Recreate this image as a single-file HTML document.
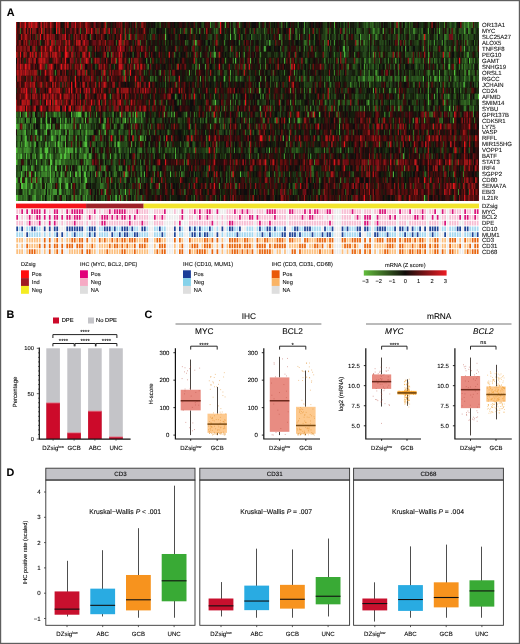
<!DOCTYPE html><html><head><meta charset="utf-8"><style>html,body{margin:0;padding:0;background:#fff;}svg{display:block;font-family:"Liberation Sans",sans-serif;will-change:transform;filter:blur(0.3px);}text{stroke:#000;stroke-width:0.15px;stroke-opacity:0.5;text-rendering:geometricPrecision;}</style></head><body>
<svg width="520" height="644" viewBox="0 0 520 644">
<rect x="0" y="0" width="520" height="644" fill="#fff"/>
<defs><filter id="hb" x="-0.01" y="-0.01" width="1.02" height="1.02"><feGaussianBlur stdDeviation="0.45 0.35"/></filter></defs>
<g filter="url(#hb)"><g transform="translate(16.000 22.000) scale(1.25135 5.96667)" stroke-width="1.02" fill="none">
<rect x="0" y="0" width="370" height="30" fill="#100c0a"/>
<path stroke="#52c03c" d="M0.5 21v1M0.5 23v1M0.5 26v1M0.5 29v1M1.5 17v1M1.5 18v1M1.5 29v1M2.5 20v1M4.5 22v1M4.5 25v1M4.5 26v1M4.5 27v1M5.5 27v1M6.5 18v1M6.5 21v1M6.5 24v1M7.5 19v1M7.5 20v1M8.5 15v1M8.5 22v1M8.5 24v1M8.5 26v1M8.5 27v1M9.5 20v1M9.5 21v1M10.5 22v1M10.5 25v1M10.5 28v1M12.5 27v1M13.5 22v1M13.5 24v1M13.5 29v1M14.5 20v1M14.5 21v1M15.5 25v1M16.5 18v1M16.5 23v1M17.5 19v1M18.5 25v1M19.5 22v1M20.5 22v1M22.5 28v1M23.5 21v1M24.5 15v1M24.5 16v1M24.5 17v1M24.5 18v1M24.5 21v1M24.5 22v1M25.5 17v1M25.5 21v1M25.5 27v1M25.5 29v1M26.5 20v1M27.5 17v1M27.5 22v1M27.5 23v1M27.5 24v1M27.5 25v1M27.5 26v1M28.5 19v1M28.5 23v1M29.5 19v1M29.5 26v1M29.5 29v1M30.5 15v1M30.5 25v1M31.5 24v1M33.5 20v1M34.5 18v1M34.5 19v1M34.5 20v1M34.5 21v1M34.5 23v1M34.5 26v1M34.5 28v1M35.5 17v1M35.5 27v1M36.5 22v1M36.5 25v1M37.5 29v1M38.5 22v1M39.5 17v1M39.5 20v1M39.5 21v1M39.5 22v1M40.5 27v1M41.5 17v1M41.5 21v1M41.5 25v1M41.5 27v1M42.5 18v1M42.5 21v1M42.5 22v1M43.5 25v1M44.5 15v1M45.5 29v1M48.5 25v1M49.5 15v1M50.5 15v1M50.5 24v1M50.5 25v1M51.5 15v1M51.5 17v1M53.5 16v1M53.5 24v1M54.5 22v1M54.5 25v1M54.5 27v1M55.5 16v1M55.5 20v1M55.5 25v1M55.5 26v1M56.5 18v1M56.5 20v1M56.5 26v1M57.5 23v1M58.5 22v1M66.5 18v1M66.5 25v1M77.5 15v1M77.5 18v1M80.5 29v1M81.5 16v1M81.5 20v1M82.5 20v1M82.5 29v1M83.5 15v1M85.5 16v1M87.5 16v1M87.5 28v1M92.5 18v1M92.5 20v1M93.5 15v1M95.5 15v1M95.5 16v1M99.5 19v1M102.5 25v1M109.5 21v1M114.5 27v1M118.5 15v1M119.5 2v1M121.5 18v1M121.5 20v1M123.5 25v1M124.5 15v1M126.5 15v1M137.5 20v1M138.5 8v1M140.5 1v1M159.5 13v1M166.5 9v1M171.5 2v1M175.5 6v1M179.5 25v1M194.5 11v1M208.5 10v1M212.5 3v1M213.5 19v1M216.5 20v1M225.5 16v1M233.5 15v1M237.5 15v1M242.5 15v1M256.5 15v1M261.5 4v1M272.5 3v1M275.5 2v1M281.5 13v1M285.5 5v1M285.5 11v1M291.5 9v1M292.5 5v1M293.5 1v1M301.5 25v1M303.5 6v1M303.5 11v1M304.5 23v1M309.5 22v1M324.5 1v1M325.5 9v1M326.5 29v1M329.5 6v1M329.5 12v1M329.5 13v1M331.5 9v1M332.5 15v1M335.5 9v1M336.5 7v1M338.5 9v1M346.5 14v1M349.5 16v1M350.5 8v1M356.5 7v1M362.5 6v1M369.5 12v1"/>
<path stroke="#4cb138" d="M0.5 17v1M1.5 21v1M2.5 17v1M3.5 15v1M6.5 27v1M7.5 18v1M11.5 25v1M13.5 26v1M14.5 15v1M15.5 16v1M21.5 25v1M24.5 24v1M25.5 28v1M27.5 16v1M31.5 20v1M32.5 24v1M33.5 25v1M34.5 15v1M35.5 16v1M35.5 22v1M35.5 26v1M35.5 28v1M37.5 19v1M42.5 19v1M44.5 27v1M45.5 16v1M47.5 25v1M48.5 15v1M54.5 20v1M54.5 23v1M54.5 29v1M55.5 19v1M56.5 29v1M65.5 21v1M66.5 16v1M69.5 17v1M70.5 17v1M70.5 24v1M73.5 9v1M75.5 22v1M77.5 16v1M82.5 21v1M88.5 25v1M127.5 22v1M129.5 13v1M132.5 25v1M136.5 15v1M143.5 3v1M146.5 7v1M158.5 5v1M160.5 20v1M176.5 9v1M187.5 6v1M193.5 22v1M195.5 14v1M202.5 21v1M210.5 2v1M212.5 0v1M218.5 16v1M254.5 0v1M258.5 17v1M262.5 4v1M262.5 5v1M264.5 2v1M272.5 6v1M280.5 0v1M280.5 7v1M289.5 9v1M311.5 4v1M320.5 12v1M329.5 1v1M336.5 11v1M340.5 3v1M346.5 7v1M347.5 9v1M351.5 9v1M358.5 4v1M360.5 3v1M360.5 5v1M364.5 0v1"/>
<path stroke="#47a234" d="M1.5 23v1M1.5 27v1M2.5 16v1M2.5 19v1M3.5 22v1M3.5 26v1M5.5 24v1M6.5 22v1M7.5 26v1M7.5 27v1M8.5 19v1M8.5 20v1M9.5 16v1M10.5 21v1M12.5 24v1M13.5 17v1M14.5 29v1M15.5 18v1M15.5 20v1M15.5 22v1M15.5 26v1M15.5 29v1M19.5 21v1M19.5 26v1M20.5 16v1M20.5 19v1M20.5 24v1M20.5 29v1M21.5 24v1M23.5 24v1M23.5 27v1M24.5 20v1M27.5 29v1M28.5 18v1M31.5 18v1M32.5 23v1M33.5 29v1M35.5 23v1M36.5 19v1M36.5 24v1M37.5 16v1M38.5 23v1M39.5 16v1M39.5 19v1M41.5 22v1M41.5 26v1M44.5 21v1M45.5 21v1M45.5 23v1M47.5 21v1M48.5 19v1M49.5 24v1M50.5 18v1M51.5 21v1M51.5 25v1M53.5 18v1M53.5 19v1M55.5 22v1M56.5 15v1M56.5 17v1M56.5 19v1M56.5 24v1M57.5 21v1M58.5 15v1M59.5 22v1M61.5 20v1M64.5 15v1M69.5 27v1M70.5 16v1M71.5 18v1M71.5 28v1M82.5 24v1M85.5 17v1M85.5 25v1M86.5 8v1M87.5 25v1M88.5 24v1M89.5 16v1M94.5 7v1M100.5 15v1M100.5 16v1M100.5 25v1M101.5 19v1M102.5 15v1M105.5 7v1M125.5 21v1M127.5 21v1M147.5 9v1M152.5 19v1M160.5 21v1M165.5 17v1M167.5 0v1M171.5 8v1M172.5 25v1M174.5 1v1M176.5 12v1M180.5 15v1M198.5 4v1M202.5 3v1M214.5 6v1M218.5 19v1M219.5 11v1M219.5 13v1M224.5 21v1M232.5 14v1M236.5 24v1M265.5 7v1M267.5 10v1M278.5 7v1M285.5 1v1M285.5 9v1M308.5 25v1M310.5 9v1M329.5 5v1M329.5 10v1M329.5 11v1M334.5 12v1M336.5 2v1M338.5 1v1M338.5 8v1M349.5 14v1M358.5 1v1M358.5 10v1M359.5 6v1M359.5 8v1M361.5 0v1M368.5 10v1"/>
<path stroke="#429330" d="M1.5 20v1M1.5 22v1M1.5 26v1M2.5 21v1M2.5 22v1M2.5 25v1M4.5 20v1M5.5 16v1M5.5 18v1M6.5 19v1M6.5 29v1M7.5 17v1M8.5 21v1M11.5 20v1M13.5 15v1M13.5 23v1M14.5 28v1M20.5 17v1M20.5 21v1M21.5 22v1M22.5 18v1M22.5 25v1M23.5 20v1M24.5 25v1M26.5 17v1M26.5 22v1M26.5 24v1M28.5 27v1M29.5 24v1M29.5 25v1M29.5 28v1M30.5 17v1M30.5 19v1M30.5 28v1M31.5 23v1M31.5 28v1M32.5 28v1M33.5 22v1M35.5 18v1M35.5 21v1M36.5 20v1M37.5 21v1M38.5 17v1M39.5 24v1M39.5 26v1M40.5 18v1M40.5 21v1M42.5 28v1M43.5 21v1M45.5 20v1M45.5 22v1M48.5 21v1M50.5 22v1M50.5 29v1M51.5 24v1M51.5 28v1M53.5 20v1M53.5 29v1M55.5 15v1M56.5 21v1M56.5 22v1M56.5 23v1M58.5 18v1M60.5 24v1M63.5 25v1M66.5 22v1M70.5 29v1M71.5 16v1M73.5 5v1M74.5 25v1M78.5 17v1M78.5 25v1M79.5 20v1M79.5 29v1M82.5 18v1M84.5 29v1M88.5 29v1M89.5 21v1M90.5 2v1M90.5 6v1M92.5 17v1M97.5 15v1M97.5 28v1M100.5 19v1M109.5 16v1M110.5 25v1M114.5 20v1M114.5 21v1M115.5 25v1M118.5 22v1M142.5 21v1M144.5 3v1M151.5 7v1M152.5 15v1M152.5 16v1M155.5 0v1M155.5 17v1M159.5 5v1M159.5 16v1M160.5 1v1M162.5 27v1M171.5 13v1M173.5 6v1M173.5 12v1M188.5 2v1M192.5 17v1M193.5 13v1M194.5 10v1M195.5 9v1M196.5 15v1M197.5 12v1M197.5 16v1M199.5 4v1M205.5 8v1M214.5 22v1M219.5 1v1M220.5 14v1M222.5 8v1M224.5 2v1M226.5 16v1M230.5 0v1M230.5 1v1M235.5 14v1M235.5 22v1M254.5 3v1M258.5 18v1M259.5 21v1M259.5 26v1M265.5 21v1M275.5 3v1M277.5 9v1M278.5 9v1M278.5 14v1M282.5 2v1M287.5 8v1M288.5 8v1M288.5 9v1M288.5 14v1M293.5 11v1M297.5 6v1M303.5 9v1M305.5 3v1M305.5 12v1M305.5 14v1M308.5 9v1M311.5 9v1M316.5 9v1M317.5 16v1M319.5 21v1M325.5 4v1M326.5 16v1M328.5 18v1M332.5 22v1M334.5 3v1M334.5 9v1M336.5 1v1M336.5 13v1M340.5 16v1M342.5 6v1M342.5 13v1M343.5 2v1M345.5 12v1M352.5 10v1M353.5 28v1M355.5 11v1M356.5 2v1M360.5 2v1M361.5 5v1M362.5 8v1M368.5 8v1"/>
<path stroke="#3c842b" d="M0.5 16v1M0.5 22v1M1.5 19v1M1.5 28v1M2.5 27v1M3.5 21v1M4.5 16v1M5.5 17v1M5.5 19v1M5.5 25v1M5.5 28v1M6.5 17v1M6.5 20v1M6.5 28v1M7.5 15v1M7.5 21v1M8.5 16v1M8.5 23v1M8.5 25v1M8.5 28v1M8.5 29v1M10.5 16v1M10.5 19v1M13.5 16v1M13.5 27v1M14.5 16v1M14.5 19v1M14.5 22v1M14.5 26v1M15.5 28v1M16.5 27v1M17.5 26v1M18.5 28v1M19.5 19v1M20.5 26v1M20.5 27v1M22.5 29v1M23.5 18v1M23.5 23v1M23.5 25v1M26.5 29v1M27.5 28v1M29.5 17v1M29.5 18v1M30.5 20v1M30.5 26v1M33.5 23v1M34.5 27v1M36.5 26v1M37.5 15v1M37.5 23v1M38.5 19v1M39.5 18v1M39.5 27v1M39.5 29v1M40.5 16v1M40.5 22v1M42.5 17v1M44.5 16v1M44.5 17v1M46.5 15v1M47.5 17v1M48.5 23v1M48.5 29v1M49.5 16v1M49.5 18v1M50.5 20v1M51.5 26v1M54.5 26v1M56.5 28v1M57.5 25v1M57.5 28v1M58.5 24v1M69.5 19v1M69.5 22v1M69.5 26v1M70.5 15v1M70.5 18v1M70.5 21v1M70.5 22v1M74.5 19v1M75.5 12v1M75.5 26v1M76.5 5v1M78.5 20v1M79.5 22v1M80.5 6v1M82.5 19v1M84.5 17v1M84.5 24v1M86.5 16v1M89.5 22v1M89.5 25v1M90.5 15v1M91.5 16v1M91.5 21v1M97.5 22v1M97.5 26v1M97.5 29v1M98.5 26v1M99.5 27v1M100.5 29v1M103.5 19v1M104.5 6v1M106.5 18v1M109.5 9v1M109.5 24v1M115.5 8v1M120.5 13v1M121.5 9v1M127.5 12v1M128.5 10v1M141.5 3v1M142.5 15v1M146.5 1v1M149.5 0v1M149.5 6v1M152.5 21v1M157.5 13v1M157.5 15v1M158.5 9v1M158.5 12v1M162.5 16v1M165.5 7v1M165.5 16v1M166.5 3v1M166.5 14v1M167.5 6v1M168.5 25v1M174.5 21v1M175.5 2v1M178.5 0v1M178.5 5v1M180.5 2v1M182.5 5v1M186.5 16v1M186.5 22v1M187.5 11v1M189.5 18v1M195.5 5v1M199.5 7v1M199.5 9v1M200.5 3v1M205.5 9v1M207.5 16v1M209.5 26v1M212.5 5v1M216.5 0v1M226.5 2v1M232.5 6v1M235.5 9v1M237.5 25v1M238.5 23v1M241.5 19v1M246.5 21v1M247.5 13v1M248.5 1v1M248.5 9v1M248.5 21v1M250.5 9v1M251.5 10v1M254.5 8v1M258.5 16v1M262.5 12v1M265.5 4v1M268.5 9v1M272.5 11v1M273.5 9v1M275.5 14v1M278.5 3v1M278.5 8v1M279.5 6v1M280.5 3v1M282.5 6v1M282.5 10v1M283.5 9v1M287.5 2v1M287.5 5v1M288.5 2v1M288.5 13v1M289.5 1v1M290.5 20v1M295.5 7v1M298.5 11v1M302.5 1v1M304.5 20v1M305.5 0v1M305.5 7v1M305.5 8v1M308.5 4v1M308.5 14v1M310.5 24v1M311.5 0v1M311.5 5v1M315.5 6v1M316.5 0v1M316.5 5v1M317.5 1v1M317.5 18v1M318.5 1v1M320.5 6v1M320.5 9v1M327.5 25v1M329.5 3v1M329.5 4v1M329.5 8v1M329.5 9v1M333.5 8v1M336.5 9v1M336.5 12v1M340.5 21v1M342.5 0v1M343.5 4v1M343.5 8v1M344.5 1v1M345.5 7v1M347.5 0v1M348.5 23v1M350.5 4v1M350.5 11v1M351.5 0v1M355.5 10v1M357.5 10v1M357.5 25v1M358.5 0v1M358.5 9v1M359.5 13v1M360.5 0v1M361.5 1v1M361.5 8v1M362.5 12v1M365.5 14v1M365.5 15v1M367.5 12v1M368.5 5v1"/>
<path stroke="#367527" d="M0.5 27v1M1.5 15v1M1.5 25v1M2.5 18v1M3.5 18v1M4.5 21v1M4.5 29v1M6.5 15v1M6.5 25v1M7.5 24v1M9.5 26v1M11.5 17v1M11.5 18v1M11.5 26v1M11.5 27v1M11.5 28v1M13.5 18v1M17.5 25v1M17.5 27v1M18.5 20v1M18.5 21v1M18.5 22v1M18.5 26v1M19.5 17v1M20.5 25v1M21.5 15v1M21.5 23v1M22.5 21v1M23.5 22v1M25.5 24v1M25.5 25v1M26.5 25v1M26.5 27v1M27.5 21v1M27.5 27v1M28.5 22v1M29.5 20v1M29.5 22v1M30.5 18v1M30.5 27v1M31.5 8v1M31.5 15v1M31.5 19v1M31.5 21v1M32.5 15v1M32.5 18v1M33.5 16v1M33.5 18v1M35.5 25v1M36.5 17v1M36.5 21v1M36.5 28v1M37.5 17v1M37.5 20v1M37.5 22v1M37.5 25v1M38.5 21v1M38.5 25v1M38.5 26v1M38.5 28v1M38.5 29v1M40.5 17v1M40.5 26v1M40.5 28v1M41.5 23v1M41.5 28v1M44.5 18v1M44.5 22v1M44.5 24v1M44.5 29v1M45.5 18v1M45.5 25v1M45.5 26v1M46.5 26v1M47.5 29v1M48.5 20v1M48.5 26v1M52.5 7v1M52.5 18v1M53.5 22v1M53.5 27v1M54.5 17v1M55.5 18v1M55.5 27v1M57.5 18v1M58.5 16v1M58.5 25v1M59.5 16v1M59.5 24v1M60.5 6v1M60.5 18v1M60.5 21v1M60.5 22v1M61.5 18v1M64.5 19v1M66.5 19v1M66.5 23v1M66.5 28v1M67.5 26v1M67.5 27v1M68.5 9v1M68.5 20v1M68.5 24v1M68.5 27v1M70.5 23v1M70.5 28v1M73.5 14v1M74.5 20v1M75.5 29v1M76.5 18v1M77.5 29v1M78.5 22v1M78.5 23v1M78.5 24v1M79.5 19v1M80.5 3v1M82.5 27v1M83.5 22v1M85.5 29v1M86.5 9v1M87.5 26v1M88.5 19v1M89.5 28v1M90.5 9v1M91.5 15v1M93.5 5v1M93.5 16v1M94.5 23v1M95.5 20v1M97.5 25v1M98.5 21v1M99.5 21v1M99.5 23v1M100.5 21v1M100.5 24v1M101.5 17v1M101.5 18v1M102.5 8v1M102.5 23v1M105.5 17v1M106.5 20v1M107.5 9v1M110.5 18v1M110.5 24v1M118.5 19v1M119.5 1v1M119.5 9v1M121.5 15v1M126.5 5v1M133.5 25v1M134.5 23v1M140.5 12v1M140.5 18v1M141.5 7v1M142.5 29v1M144.5 1v1M144.5 6v1M144.5 7v1M147.5 5v1M152.5 20v1M152.5 25v1M153.5 5v1M155.5 14v1M158.5 4v1M161.5 11v1M168.5 18v1M168.5 26v1M171.5 4v1M171.5 9v1M173.5 14v1M176.5 27v1M178.5 3v1M178.5 15v1M179.5 9v1M180.5 20v1M182.5 7v1M182.5 16v1M186.5 20v1M193.5 18v1M194.5 0v1M194.5 8v1M195.5 7v1M195.5 12v1M198.5 1v1M199.5 6v1M201.5 28v1M202.5 25v1M203.5 14v1M209.5 16v1M212.5 2v1M212.5 12v1M214.5 8v1M219.5 2v1M219.5 6v1M221.5 28v1M223.5 13v1M224.5 8v1M225.5 0v1M226.5 9v1M230.5 4v1M230.5 9v1M230.5 11v1M231.5 3v1M234.5 3v1M234.5 11v1M235.5 11v1M236.5 25v1M237.5 13v1M237.5 24v1M239.5 5v1M240.5 1v1M242.5 26v1M246.5 3v1M246.5 4v1M246.5 6v1M246.5 10v1M248.5 25v1M249.5 6v1M251.5 14v1M254.5 1v1M254.5 5v1M254.5 14v1M257.5 6v1M257.5 13v1M257.5 14v1M258.5 13v1M260.5 2v1M261.5 1v1M264.5 1v1M264.5 3v1M264.5 7v1M268.5 14v1M269.5 18v1M269.5 25v1M270.5 5v1M272.5 12v1M272.5 13v1M273.5 3v1M276.5 9v1M278.5 6v1M279.5 20v1M280.5 13v1M281.5 9v1M281.5 23v1M282.5 8v1M282.5 9v1M283.5 0v1M284.5 9v1M285.5 3v1M285.5 7v1M285.5 13v1M286.5 1v1M292.5 4v1M294.5 15v1M299.5 9v1M299.5 11v1M299.5 13v1M300.5 9v1M302.5 14v1M305.5 2v1M305.5 5v1M305.5 9v1M305.5 10v1M308.5 2v1M308.5 13v1M309.5 12v1M311.5 3v1M317.5 19v1M319.5 6v1M320.5 3v1M325.5 2v1M325.5 6v1M327.5 2v1M331.5 3v1M332.5 6v1M334.5 6v1M336.5 3v1M339.5 10v1M342.5 2v1M342.5 5v1M342.5 7v1M342.5 9v1M342.5 12v1M343.5 3v1M344.5 2v1M344.5 5v1M344.5 9v1M346.5 4v1M346.5 6v1M347.5 1v1M347.5 15v1M349.5 25v1M350.5 7v1M351.5 2v1M351.5 12v1M354.5 7v1M356.5 6v1M357.5 12v1M358.5 7v1M358.5 8v1M358.5 14v1M359.5 0v1M359.5 1v1M359.5 9v1M359.5 14v1M360.5 7v1M362.5 1v1M362.5 9v1M362.5 13v1M363.5 7v1M363.5 14v1M364.5 4v1M365.5 7v1M366.5 6v1M366.5 9v1M369.5 0v1"/>
<path stroke="#316623" d="M0.5 15v1M2.5 29v1M3.5 1v1M3.5 19v1M3.5 29v1M5.5 15v1M5.5 20v1M5.5 21v1M5.5 29v1M6.5 16v1M7.5 28v1M7.5 29v1M9.5 17v1M9.5 18v1M9.5 22v1M9.5 27v1M9.5 29v1M10.5 3v1M10.5 15v1M10.5 20v1M10.5 24v1M10.5 27v1M11.5 21v1M11.5 23v1M13.5 28v1M14.5 24v1M14.5 25v1M17.5 28v1M17.5 29v1M18.5 23v1M18.5 24v1M19.5 16v1M19.5 20v1M19.5 27v1M20.5 28v1M21.5 20v1M21.5 28v1M22.5 23v1M22.5 24v1M22.5 26v1M23.5 28v1M24.5 26v1M25.5 22v1M26.5 15v1M28.5 20v1M28.5 26v1M28.5 28v1M29.5 23v1M32.5 25v1M34.5 22v1M34.5 24v1M35.5 20v1M37.5 18v1M42.5 16v1M42.5 24v1M43.5 17v1M43.5 18v1M45.5 17v1M47.5 15v1M47.5 16v1M47.5 22v1M49.5 25v1M49.5 26v1M50.5 19v1M50.5 21v1M50.5 28v1M51.5 1v1M51.5 22v1M51.5 27v1M52.5 14v1M52.5 15v1M52.5 16v1M52.5 21v1M52.5 22v1M53.5 21v1M54.5 28v1M55.5 21v1M55.5 24v1M55.5 28v1M58.5 17v1M58.5 23v1M58.5 29v1M59.5 2v1M59.5 18v1M59.5 23v1M60.5 16v1M60.5 25v1M60.5 26v1M61.5 24v1M62.5 16v1M62.5 20v1M62.5 24v1M65.5 1v1M65.5 26v1M68.5 29v1M69.5 8v1M69.5 20v1M69.5 24v1M71.5 24v1M71.5 25v1M71.5 26v1M74.5 18v1M74.5 23v1M76.5 20v1M78.5 7v1M78.5 19v1M79.5 21v1M79.5 24v1M79.5 25v1M79.5 27v1M80.5 22v1M80.5 25v1M83.5 21v1M83.5 24v1M83.5 28v1M85.5 3v1M85.5 20v1M86.5 26v1M87.5 15v1M87.5 19v1M88.5 20v1M92.5 25v1M94.5 17v1M94.5 29v1M96.5 0v1M96.5 16v1M97.5 21v1M97.5 27v1M98.5 16v1M99.5 3v1M99.5 24v1M100.5 26v1M101.5 16v1M102.5 20v1M102.5 26v1M104.5 3v1M105.5 21v1M106.5 23v1M107.5 6v1M107.5 17v1M107.5 27v1M108.5 1v1M110.5 22v1M110.5 26v1M111.5 4v1M111.5 9v1M111.5 13v1M113.5 18v1M113.5 28v1M119.5 10v1M120.5 21v1M122.5 21v1M125.5 24v1M126.5 9v1M128.5 4v1M130.5 25v1M131.5 1v1M131.5 13v1M131.5 20v1M131.5 24v1M134.5 24v1M134.5 28v1M135.5 3v1M135.5 21v1M136.5 20v1M136.5 23v1M137.5 5v1M139.5 17v1M141.5 11v1M143.5 5v1M143.5 7v1M143.5 8v1M144.5 15v1M147.5 16v1M149.5 16v1M150.5 1v1M150.5 12v1M152.5 3v1M154.5 4v1M157.5 5v1M158.5 1v1M158.5 13v1M158.5 16v1M160.5 15v1M160.5 16v1M162.5 0v1M162.5 8v1M163.5 15v1M169.5 16v1M170.5 21v1M171.5 1v1M171.5 14v1M172.5 20v1M175.5 13v1M175.5 27v1M179.5 17v1M183.5 18v1M184.5 25v1M186.5 17v1M186.5 21v1M195.5 11v1M196.5 17v1M198.5 16v1M200.5 21v1M201.5 25v1M203.5 3v1M204.5 21v1M206.5 25v1M208.5 5v1M211.5 4v1M211.5 13v1M212.5 1v1M212.5 11v1M217.5 17v1M218.5 18v1M218.5 25v1M219.5 7v1M222.5 16v1M222.5 22v1M223.5 1v1M223.5 12v1M224.5 1v1M224.5 26v1M225.5 29v1M227.5 13v1M230.5 3v1M231.5 6v1M232.5 0v1M232.5 3v1M232.5 4v1M233.5 22v1M234.5 1v1M238.5 2v1M240.5 10v1M240.5 14v1M241.5 21v1M242.5 13v1M242.5 28v1M248.5 4v1M250.5 2v1M250.5 11v1M251.5 3v1M259.5 16v1M261.5 6v1M261.5 13v1M262.5 1v1M262.5 3v1M263.5 5v1M264.5 9v1M265.5 13v1M266.5 1v1M268.5 10v1M271.5 12v1M272.5 1v1M272.5 8v1M273.5 1v1M274.5 9v1M274.5 10v1M276.5 4v1M277.5 3v1M282.5 5v1M282.5 14v1M283.5 6v1M283.5 29v1M284.5 0v1M284.5 1v1M284.5 7v1M285.5 0v1M285.5 2v1M285.5 6v1M285.5 14v1M288.5 1v1M288.5 11v1M289.5 7v1M290.5 6v1M292.5 16v1M293.5 9v1M294.5 9v1M295.5 3v1M296.5 10v1M296.5 20v1M297.5 24v1M298.5 15v1M298.5 20v1M299.5 0v1M299.5 4v1M299.5 7v1M299.5 10v1M299.5 14v1M301.5 16v1M302.5 5v1M302.5 7v1M305.5 1v1M305.5 4v1M305.5 13v1M305.5 17v1M306.5 14v1M307.5 21v1M308.5 0v1M310.5 1v1M311.5 27v1M314.5 0v1M314.5 1v1M314.5 6v1M314.5 14v1M317.5 10v1M319.5 7v1M320.5 5v1M320.5 7v1M322.5 2v1M322.5 22v1M323.5 11v1M325.5 7v1M325.5 14v1M328.5 8v1M329.5 2v1M329.5 14v1M330.5 8v1M333.5 5v1M336.5 8v1M340.5 15v1M341.5 24v1M342.5 3v1M342.5 4v1M342.5 8v1M342.5 10v1M342.5 14v1M343.5 13v1M345.5 5v1M347.5 13v1M347.5 14v1M348.5 15v1M350.5 1v1M350.5 6v1M350.5 9v1M351.5 3v1M351.5 4v1M351.5 7v1M351.5 8v1M351.5 14v1M351.5 19v1M356.5 0v1M356.5 1v1M356.5 3v1M356.5 4v1M356.5 9v1M358.5 3v1M358.5 5v1M358.5 13v1M359.5 2v1M359.5 7v1M362.5 4v1M363.5 1v1M363.5 6v1M364.5 2v1M364.5 6v1M365.5 9v1M366.5 1v1M366.5 3v1M366.5 16v1M368.5 3v1M368.5 12v1M369.5 7v1"/>
<path stroke="#2c571f" d="M1.5 16v1M1.5 24v1M2.5 15v1M2.5 23v1M2.5 24v1M3.5 16v1M3.5 23v1M4.5 18v1M5.5 22v1M6.5 23v1M7.5 23v1M9.5 24v1M10.5 18v1M12.5 20v1M14.5 18v1M15.5 27v1M16.5 19v1M16.5 28v1M17.5 22v1M18.5 27v1M18.5 29v1M19.5 3v1M19.5 8v1M19.5 13v1M19.5 23v1M19.5 24v1M19.5 29v1M20.5 18v1M21.5 1v1M21.5 17v1M22.5 17v1M22.5 19v1M23.5 16v1M23.5 26v1M24.5 7v1M24.5 19v1M25.5 23v1M26.5 26v1M27.5 15v1M28.5 21v1M28.5 25v1M29.5 15v1M29.5 21v1M32.5 22v1M32.5 26v1M33.5 15v1M33.5 21v1M35.5 15v1M36.5 23v1M37.5 24v1M37.5 26v1M39.5 15v1M39.5 23v1M40.5 23v1M41.5 29v1M42.5 23v1M42.5 25v1M42.5 26v1M43.5 19v1M43.5 23v1M44.5 19v1M44.5 28v1M45.5 15v1M45.5 19v1M46.5 23v1M47.5 19v1M47.5 20v1M48.5 16v1M48.5 18v1M48.5 22v1M48.5 27v1M49.5 23v1M49.5 27v1M49.5 29v1M50.5 17v1M50.5 23v1M51.5 6v1M51.5 12v1M52.5 27v1M53.5 28v1M54.5 24v1M55.5 17v1M57.5 17v1M57.5 29v1M58.5 20v1M59.5 29v1M61.5 17v1M61.5 26v1M61.5 29v1M62.5 15v1M63.5 17v1M63.5 19v1M63.5 21v1M64.5 29v1M65.5 9v1M65.5 20v1M65.5 25v1M66.5 24v1M68.5 13v1M68.5 18v1M69.5 15v1M69.5 29v1M70.5 27v1M71.5 17v1M72.5 0v1M72.5 25v1M73.5 2v1M74.5 15v1M74.5 21v1M75.5 16v1M75.5 17v1M77.5 14v1M77.5 23v1M77.5 24v1M77.5 28v1M79.5 17v1M80.5 17v1M82.5 15v1M83.5 20v1M84.5 28v1M85.5 8v1M86.5 1v1M86.5 15v1M86.5 21v1M88.5 18v1M88.5 23v1M89.5 15v1M89.5 18v1M90.5 1v1M90.5 13v1M91.5 26v1M91.5 28v1M92.5 24v1M92.5 27v1M92.5 28v1M92.5 29v1M94.5 21v1M94.5 25v1M95.5 18v1M95.5 19v1M95.5 26v1M95.5 28v1M96.5 24v1M97.5 16v1M98.5 15v1M98.5 20v1M98.5 22v1M99.5 5v1M99.5 25v1M100.5 12v1M102.5 18v1M102.5 21v1M106.5 5v1M106.5 16v1M106.5 24v1M107.5 2v1M107.5 21v1M108.5 9v1M110.5 21v1M111.5 24v1M113.5 24v1M114.5 8v1M115.5 0v1M115.5 13v1M116.5 21v1M119.5 3v1M119.5 11v1M119.5 14v1M119.5 21v1M122.5 15v1M123.5 8v1M123.5 21v1M128.5 7v1M128.5 12v1M128.5 25v1M129.5 16v1M129.5 21v1M130.5 16v1M132.5 22v1M134.5 15v1M134.5 16v1M134.5 18v1M134.5 20v1M134.5 22v1M135.5 1v1M136.5 1v1M138.5 21v1M141.5 19v1M141.5 20v1M141.5 21v1M142.5 16v1M142.5 20v1M142.5 25v1M144.5 0v1M144.5 9v1M145.5 14v1M145.5 18v1M145.5 24v1M146.5 11v1M149.5 21v1M151.5 9v1M151.5 18v1M152.5 29v1M153.5 21v1M154.5 9v1M155.5 6v1M156.5 2v1M156.5 5v1M156.5 26v1M158.5 6v1M159.5 9v1M159.5 22v1M159.5 29v1M160.5 26v1M161.5 0v1M161.5 1v1M161.5 3v1M161.5 5v1M161.5 8v1M161.5 13v1M163.5 17v1M163.5 29v1M164.5 14v1M167.5 2v1M167.5 17v1M167.5 22v1M168.5 8v1M168.5 10v1M168.5 14v1M169.5 17v1M170.5 16v1M170.5 18v1M171.5 0v1M172.5 21v1M173.5 5v1M173.5 9v1M173.5 13v1M175.5 9v1M178.5 13v1M178.5 21v1M180.5 9v1M182.5 13v1M185.5 11v1M185.5 21v1M186.5 18v1M187.5 1v1M188.5 16v1M188.5 22v1M189.5 1v1M189.5 10v1M190.5 28v1M192.5 1v1M192.5 21v1M193.5 1v1M194.5 4v1M194.5 6v1M195.5 2v1M198.5 11v1M199.5 0v1M200.5 25v1M201.5 5v1M201.5 14v1M201.5 19v1M202.5 12v1M203.5 9v1M203.5 10v1M205.5 6v1M205.5 13v1M206.5 19v1M209.5 24v1M210.5 25v1M211.5 2v1M211.5 14v1M211.5 15v1M214.5 17v1M215.5 21v1M216.5 4v1M216.5 9v1M217.5 28v1M218.5 27v1M220.5 21v1M221.5 21v1M221.5 27v1M222.5 27v1M223.5 11v1M223.5 18v1M224.5 4v1M225.5 21v1M226.5 4v1M227.5 11v1M227.5 16v1M227.5 25v1M228.5 20v1M228.5 26v1M229.5 1v1M229.5 9v1M230.5 8v1M230.5 10v1M230.5 12v1M230.5 14v1M232.5 2v1M232.5 10v1M232.5 11v1M233.5 21v1M235.5 4v1M235.5 7v1M235.5 18v1M236.5 10v1M237.5 9v1M237.5 26v1M237.5 28v1M238.5 3v1M239.5 16v1M239.5 21v1M240.5 8v1M240.5 21v1M241.5 14v1M241.5 28v1M244.5 2v1M244.5 9v1M246.5 5v1M246.5 12v1M247.5 1v1M247.5 2v1M247.5 3v1M247.5 7v1M248.5 2v1M248.5 3v1M248.5 13v1M250.5 1v1M250.5 12v1M252.5 11v1M252.5 12v1M253.5 7v1M253.5 9v1M254.5 6v1M255.5 12v1M256.5 18v1M256.5 25v1M256.5 27v1M257.5 8v1M257.5 21v1M258.5 29v1M259.5 8v1M259.5 19v1M260.5 6v1M261.5 2v1M261.5 14v1M261.5 22v1M262.5 0v1M262.5 13v1M263.5 11v1M263.5 28v1M264.5 0v1M264.5 4v1M264.5 13v1M266.5 0v1M268.5 21v1M268.5 25v1M268.5 29v1M269.5 7v1M270.5 7v1M270.5 10v1M270.5 14v1M271.5 2v1M271.5 9v1M271.5 13v1M272.5 7v1M272.5 28v1M274.5 1v1M275.5 6v1M275.5 7v1M276.5 8v1M276.5 12v1M276.5 14v1M278.5 0v1M278.5 1v1M278.5 10v1M280.5 1v1M280.5 2v1M280.5 10v1M281.5 8v1M282.5 3v1M282.5 4v1M282.5 7v1M282.5 13v1M283.5 10v1M284.5 3v1M284.5 4v1M285.5 4v1M285.5 8v1M285.5 10v1M285.5 12v1M286.5 14v1M287.5 9v1M288.5 6v1M289.5 0v1M289.5 18v1M290.5 11v1M290.5 16v1M291.5 3v1M291.5 13v1M294.5 8v1M296.5 26v1M297.5 2v1M297.5 5v1M298.5 18v1M298.5 25v1M299.5 5v1M304.5 9v1M305.5 6v1M306.5 2v1M307.5 20v1M308.5 6v1M309.5 3v1M310.5 7v1M312.5 0v1M312.5 11v1M314.5 2v1M314.5 3v1M314.5 8v1M314.5 9v1M314.5 17v1M315.5 2v1M316.5 17v1M318.5 10v1M318.5 14v1M319.5 1v1M319.5 9v1M319.5 13v1M320.5 8v1M320.5 11v1M321.5 9v1M322.5 6v1M322.5 8v1M323.5 7v1M323.5 9v1M324.5 0v1M324.5 2v1M324.5 8v1M324.5 14v1M325.5 3v1M325.5 10v1M326.5 15v1M326.5 27v1M329.5 0v1M330.5 5v1M330.5 15v1M331.5 11v1M331.5 13v1M331.5 15v1M334.5 2v1M334.5 14v1M335.5 4v1M335.5 6v1M336.5 0v1M336.5 4v1M336.5 6v1M336.5 10v1M336.5 14v1M338.5 0v1M338.5 16v1M339.5 2v1M339.5 5v1M339.5 12v1M339.5 16v1M340.5 1v1M340.5 7v1M341.5 20v1M343.5 9v1M343.5 12v1M343.5 14v1M343.5 17v1M344.5 8v1M344.5 12v1M345.5 15v1M346.5 10v1M346.5 12v1M347.5 4v1M347.5 11v1M347.5 16v1M348.5 24v1M349.5 1v1M349.5 13v1M349.5 29v1M350.5 10v1M350.5 12v1M352.5 23v1M353.5 2v1M354.5 1v1M355.5 1v1M355.5 13v1M355.5 15v1M355.5 19v1M356.5 8v1M356.5 13v1M357.5 0v1M357.5 13v1M358.5 2v1M358.5 6v1M360.5 6v1M360.5 9v1M360.5 12v1M360.5 13v1M361.5 12v1M361.5 13v1M362.5 0v1M362.5 7v1M362.5 14v1M362.5 21v1M363.5 0v1M363.5 2v1M363.5 5v1M364.5 8v1M364.5 14v1M365.5 8v1M365.5 13v1M367.5 1v1M367.5 4v1M367.5 13v1M368.5 4v1M368.5 9v1M369.5 6v1M369.5 9v1"/>
<path stroke="#26481b" d="M0.5 19v1M0.5 24v1M0.5 25v1M0.5 28v1M3.5 24v1M3.5 25v1M8.5 17v1M9.5 28v1M10.5 26v1M12.5 9v1M12.5 16v1M12.5 17v1M12.5 21v1M12.5 28v1M13.5 19v1M13.5 20v1M15.5 17v1M15.5 21v1M16.5 2v1M16.5 4v1M16.5 11v1M16.5 24v1M16.5 29v1M17.5 8v1M17.5 15v1M17.5 18v1M17.5 21v1M17.5 23v1M18.5 15v1M19.5 5v1M19.5 25v1M19.5 28v1M21.5 29v1M22.5 22v1M24.5 23v1M25.5 26v1M26.5 19v1M26.5 21v1M26.5 28v1M27.5 18v1M27.5 19v1M27.5 20v1M28.5 24v1M28.5 29v1M29.5 27v1M30.5 13v1M30.5 24v1M31.5 3v1M31.5 22v1M31.5 26v1M32.5 16v1M34.5 29v1M38.5 15v1M38.5 27v1M41.5 19v1M41.5 20v1M42.5 20v1M43.5 20v1M43.5 26v1M44.5 4v1M44.5 23v1M45.5 7v1M46.5 5v1M47.5 8v1M47.5 18v1M47.5 23v1M47.5 26v1M50.5 16v1M50.5 26v1M51.5 29v1M52.5 17v1M52.5 19v1M52.5 28v1M53.5 17v1M53.5 25v1M53.5 26v1M54.5 15v1M54.5 18v1M54.5 21v1M55.5 8v1M55.5 23v1M55.5 29v1M57.5 19v1M58.5 28v1M59.5 5v1M59.5 17v1M60.5 15v1M60.5 23v1M61.5 14v1M61.5 25v1M62.5 26v1M63.5 7v1M63.5 16v1M63.5 20v1M65.5 17v1M65.5 19v1M65.5 22v1M66.5 26v1M67.5 25v1M68.5 17v1M68.5 25v1M70.5 26v1M71.5 20v1M72.5 27v1M72.5 29v1M73.5 4v1M74.5 7v1M75.5 27v1M76.5 1v1M76.5 28v1M77.5 21v1M77.5 25v1M79.5 16v1M79.5 23v1M79.5 26v1M79.5 28v1M80.5 15v1M80.5 16v1M80.5 28v1M81.5 23v1M81.5 26v1M82.5 22v1M82.5 26v1M83.5 16v1M83.5 17v1M83.5 18v1M83.5 25v1M84.5 18v1M84.5 20v1M84.5 21v1M84.5 26v1M85.5 15v1M85.5 18v1M85.5 22v1M85.5 27v1M85.5 28v1M86.5 2v1M86.5 7v1M86.5 13v1M86.5 19v1M86.5 20v1M86.5 28v1M87.5 18v1M87.5 20v1M87.5 21v1M87.5 27v1M88.5 22v1M89.5 20v1M90.5 4v1M90.5 8v1M90.5 23v1M90.5 27v1M93.5 1v1M93.5 3v1M94.5 16v1M94.5 19v1M95.5 2v1M95.5 14v1M95.5 22v1M95.5 29v1M96.5 2v1M96.5 19v1M97.5 18v1M97.5 23v1M97.5 24v1M99.5 9v1M99.5 15v1M99.5 17v1M99.5 29v1M100.5 22v1M101.5 27v1M104.5 4v1M104.5 8v1M104.5 18v1M106.5 22v1M107.5 12v1M107.5 19v1M107.5 26v1M108.5 27v1M109.5 1v1M109.5 26v1M110.5 15v1M110.5 17v1M111.5 1v1M112.5 0v1M112.5 4v1M112.5 6v1M112.5 9v1M113.5 16v1M114.5 0v1M115.5 16v1M115.5 19v1M116.5 16v1M116.5 22v1M116.5 25v1M117.5 10v1M120.5 4v1M120.5 24v1M121.5 8v1M121.5 21v1M121.5 24v1M122.5 14v1M122.5 18v1M123.5 16v1M123.5 20v1M123.5 27v1M123.5 29v1M124.5 3v1M124.5 7v1M125.5 9v1M126.5 16v1M128.5 2v1M129.5 22v1M130.5 5v1M131.5 22v1M132.5 16v1M134.5 21v1M134.5 25v1M135.5 15v1M135.5 28v1M136.5 3v1M136.5 18v1M136.5 21v1M137.5 3v1M139.5 15v1M140.5 4v1M140.5 8v1M140.5 29v1M141.5 26v1M142.5 18v1M143.5 4v1M143.5 6v1M143.5 10v1M143.5 12v1M144.5 21v1M145.5 29v1M150.5 14v1M151.5 16v1M152.5 24v1M152.5 27v1M153.5 8v1M153.5 24v1M154.5 15v1M155.5 2v1M156.5 15v1M158.5 3v1M158.5 7v1M162.5 18v1M162.5 20v1M163.5 16v1M163.5 18v1M163.5 25v1M164.5 18v1M164.5 26v1M165.5 20v1M165.5 21v1M165.5 22v1M166.5 8v1M166.5 13v1M167.5 8v1M167.5 9v1M167.5 27v1M168.5 21v1M169.5 21v1M170.5 24v1M170.5 25v1M170.5 26v1M171.5 5v1M172.5 18v1M173.5 0v1M173.5 8v1M174.5 0v1M174.5 2v1M174.5 26v1M175.5 1v1M176.5 4v1M176.5 8v1M177.5 15v1M178.5 7v1M181.5 3v1M181.5 5v1M181.5 7v1M181.5 8v1M181.5 9v1M182.5 1v1M182.5 6v1M182.5 25v1M184.5 16v1M184.5 20v1M185.5 4v1M185.5 14v1M186.5 26v1M187.5 3v1M187.5 9v1M188.5 26v1M189.5 11v1M190.5 4v1M190.5 21v1M191.5 21v1M193.5 2v1M194.5 14v1M195.5 6v1M197.5 13v1M199.5 2v1M199.5 13v1M200.5 1v1M201.5 2v1M201.5 22v1M202.5 17v1M203.5 0v1M203.5 1v1M203.5 13v1M203.5 19v1M204.5 16v1M205.5 3v1M206.5 1v1M206.5 14v1M206.5 16v1M207.5 18v1M208.5 1v1M208.5 3v1M208.5 12v1M209.5 15v1M210.5 21v1M212.5 8v1M213.5 26v1M214.5 25v1M215.5 4v1M215.5 5v1M216.5 10v1M217.5 21v1M218.5 15v1M218.5 20v1M220.5 17v1M221.5 15v1M221.5 25v1M222.5 5v1M222.5 21v1M223.5 2v1M223.5 6v1M223.5 9v1M223.5 28v1M224.5 5v1M224.5 9v1M225.5 13v1M227.5 9v1M228.5 14v1M228.5 16v1M229.5 7v1M229.5 8v1M231.5 9v1M231.5 25v1M232.5 1v1M232.5 5v1M232.5 7v1M232.5 8v1M233.5 10v1M235.5 17v1M236.5 9v1M238.5 14v1M238.5 16v1M240.5 4v1M240.5 5v1M240.5 9v1M241.5 6v1M241.5 25v1M242.5 27v1M243.5 15v1M243.5 26v1M244.5 18v1M245.5 2v1M245.5 25v1M245.5 28v1M246.5 9v1M247.5 0v1M247.5 4v1M247.5 5v1M247.5 6v1M248.5 0v1M248.5 5v1M249.5 14v1M249.5 21v1M249.5 25v1M249.5 26v1M250.5 4v1M250.5 10v1M250.5 13v1M250.5 14v1M251.5 1v1M251.5 6v1M251.5 13v1M251.5 22v1M253.5 21v1M254.5 2v1M254.5 7v1M254.5 12v1M255.5 2v1M255.5 9v1M256.5 21v1M257.5 7v1M257.5 9v1M258.5 15v1M258.5 27v1M259.5 0v1M259.5 9v1M260.5 10v1M260.5 13v1M261.5 3v1M261.5 7v1M261.5 8v1M262.5 26v1M264.5 5v1M264.5 8v1M264.5 11v1M264.5 14v1M265.5 5v1M265.5 8v1M266.5 13v1M267.5 16v1M268.5 1v1M269.5 16v1M270.5 9v1M271.5 4v1M271.5 6v1M271.5 7v1M271.5 8v1M271.5 10v1M272.5 0v1M272.5 2v1M272.5 4v1M272.5 10v1M272.5 14v1M273.5 0v1M273.5 2v1M273.5 4v1M273.5 6v1M273.5 12v1M273.5 14v1M275.5 1v1M275.5 9v1M276.5 2v1M276.5 10v1M277.5 0v1M277.5 2v1M277.5 5v1M277.5 8v1M278.5 2v1M278.5 4v1M278.5 5v1M278.5 12v1M279.5 0v1M279.5 1v1M279.5 2v1M279.5 3v1M279.5 4v1M279.5 5v1M279.5 9v1M279.5 11v1M280.5 4v1M280.5 9v1M280.5 14v1M281.5 0v1M281.5 6v1M282.5 12v1M283.5 16v1M284.5 2v1M284.5 5v1M284.5 6v1M286.5 12v1M286.5 22v1M287.5 0v1M287.5 1v1M287.5 6v1M287.5 7v1M287.5 13v1M288.5 0v1M288.5 4v1M288.5 7v1M288.5 10v1M288.5 12v1M288.5 27v1M289.5 2v1M289.5 5v1M290.5 1v1M290.5 9v1M291.5 0v1M291.5 2v1M291.5 5v1M291.5 14v1M292.5 2v1M292.5 3v1M293.5 3v1M294.5 6v1M294.5 13v1M294.5 18v1M295.5 4v1M295.5 6v1M295.5 15v1M295.5 22v1M297.5 9v1M297.5 10v1M298.5 5v1M298.5 8v1M298.5 9v1M299.5 1v1M300.5 5v1M300.5 10v1M300.5 22v1M301.5 2v1M301.5 3v1M301.5 6v1M301.5 17v1M302.5 0v1M302.5 8v1M302.5 9v1M302.5 13v1M303.5 0v1M303.5 4v1M304.5 19v1M305.5 11v1M306.5 1v1M306.5 9v1M306.5 13v1M307.5 18v1M308.5 7v1M308.5 8v1M310.5 2v1M310.5 21v1M310.5 22v1M311.5 1v1M311.5 8v1M312.5 5v1M312.5 12v1M312.5 13v1M313.5 5v1M313.5 11v1M313.5 19v1M314.5 4v1M314.5 12v1M315.5 4v1M315.5 20v1M316.5 6v1M316.5 13v1M317.5 9v1M317.5 13v1M317.5 27v1M318.5 2v1M318.5 9v1M319.5 8v1M319.5 14v1M320.5 1v1M320.5 4v1M320.5 15v1M321.5 2v1M321.5 3v1M321.5 6v1M321.5 14v1M322.5 1v1M322.5 5v1M322.5 9v1M322.5 16v1M323.5 6v1M323.5 19v1M324.5 3v1M324.5 7v1M324.5 9v1M324.5 13v1M325.5 12v1M326.5 25v1M327.5 21v1M327.5 29v1M329.5 7v1M330.5 0v1M330.5 10v1M330.5 13v1M331.5 4v1M331.5 6v1M332.5 20v1M333.5 4v1M333.5 14v1M334.5 1v1M334.5 4v1M334.5 8v1M338.5 6v1M338.5 27v1M339.5 1v1M339.5 7v1M339.5 9v1M340.5 0v1M340.5 2v1M340.5 9v1M343.5 5v1M343.5 10v1M344.5 4v1M345.5 1v1M345.5 2v1M345.5 6v1M345.5 10v1M345.5 24v1M345.5 25v1M346.5 0v1M346.5 8v1M348.5 0v1M348.5 22v1M349.5 10v1M349.5 21v1M350.5 0v1M351.5 1v1M351.5 5v1M351.5 6v1M351.5 11v1M352.5 6v1M352.5 9v1M352.5 21v1M353.5 9v1M355.5 5v1M355.5 8v1M355.5 9v1M355.5 12v1M356.5 12v1M357.5 1v1M357.5 6v1M357.5 24v1M361.5 3v1M361.5 4v1M361.5 9v1M362.5 2v1M363.5 3v1M363.5 8v1M363.5 11v1M364.5 13v1M366.5 0v1M366.5 8v1M366.5 10v1M366.5 13v1M367.5 2v1M367.5 9v1M368.5 6v1M369.5 8v1"/>
<path stroke="#203916" d="M0.5 20v1M2.5 28v1M3.5 20v1M7.5 22v1M9.5 23v1M11.5 13v1M11.5 15v1M11.5 29v1M12.5 11v1M12.5 29v1M13.5 21v1M14.5 23v1M15.5 23v1M16.5 21v1M16.5 25v1M17.5 24v1M18.5 11v1M19.5 15v1M19.5 18v1M20.5 20v1M21.5 10v1M21.5 18v1M21.5 19v1M21.5 21v1M23.5 7v1M23.5 15v1M23.5 17v1M24.5 29v1M25.5 16v1M25.5 19v1M28.5 15v1M30.5 22v1M30.5 29v1M32.5 19v1M33.5 1v1M33.5 27v1M35.5 19v1M36.5 16v1M36.5 18v1M37.5 1v1M37.5 13v1M37.5 27v1M37.5 28v1M38.5 11v1M38.5 16v1M39.5 28v1M41.5 15v1M42.5 29v1M43.5 28v1M44.5 2v1M44.5 25v1M45.5 28v1M46.5 6v1M46.5 9v1M47.5 24v1M47.5 28v1M48.5 17v1M49.5 21v1M51.5 19v1M54.5 19v1M55.5 13v1M56.5 25v1M57.5 26v1M58.5 4v1M58.5 19v1M58.5 26v1M59.5 4v1M60.5 4v1M60.5 27v1M61.5 16v1M61.5 28v1M62.5 28v1M63.5 5v1M63.5 14v1M64.5 7v1M64.5 10v1M64.5 16v1M64.5 21v1M64.5 27v1M64.5 28v1M65.5 18v1M65.5 27v1M66.5 20v1M66.5 27v1M66.5 29v1M67.5 20v1M69.5 18v1M69.5 23v1M71.5 15v1M71.5 19v1M71.5 27v1M72.5 1v1M72.5 23v1M73.5 23v1M74.5 12v1M75.5 4v1M75.5 18v1M75.5 20v1M75.5 23v1M75.5 25v1M76.5 11v1M76.5 15v1M76.5 24v1M77.5 22v1M77.5 26v1M78.5 18v1M78.5 27v1M78.5 29v1M80.5 21v1M80.5 23v1M81.5 24v1M81.5 28v1M82.5 16v1M83.5 23v1M84.5 27v1M85.5 21v1M85.5 26v1M87.5 13v1M87.5 22v1M87.5 24v1M88.5 2v1M88.5 17v1M88.5 21v1M88.5 26v1M88.5 28v1M89.5 23v1M91.5 23v1M92.5 16v1M92.5 21v1M92.5 26v1M93.5 4v1M93.5 9v1M93.5 21v1M94.5 18v1M94.5 26v1M96.5 1v1M97.5 8v1M98.5 18v1M98.5 29v1M99.5 16v1M102.5 29v1M103.5 22v1M104.5 7v1M104.5 13v1M106.5 1v1M106.5 21v1M108.5 2v1M108.5 3v1M108.5 7v1M108.5 8v1M108.5 14v1M108.5 16v1M108.5 28v1M109.5 17v1M109.5 22v1M109.5 28v1M110.5 16v1M110.5 20v1M111.5 8v1M111.5 15v1M112.5 2v1M112.5 14v1M112.5 28v1M114.5 13v1M114.5 16v1M114.5 28v1M115.5 20v1M117.5 3v1M117.5 5v1M117.5 6v1M117.5 9v1M117.5 13v1M118.5 16v1M118.5 18v1M118.5 20v1M119.5 8v1M119.5 17v1M120.5 0v1M120.5 2v1M120.5 5v1M120.5 7v1M121.5 3v1M121.5 26v1M122.5 17v1M122.5 24v1M123.5 9v1M123.5 24v1M124.5 1v1M124.5 9v1M124.5 14v1M124.5 20v1M124.5 21v1M124.5 22v1M125.5 10v1M125.5 15v1M125.5 19v1M125.5 22v1M125.5 25v1M126.5 25v1M127.5 2v1M128.5 22v1M129.5 20v1M129.5 26v1M130.5 27v1M131.5 16v1M131.5 17v1M132.5 12v1M132.5 17v1M132.5 28v1M133.5 15v1M133.5 19v1M133.5 21v1M134.5 17v1M135.5 20v1M135.5 22v1M136.5 0v1M136.5 8v1M136.5 9v1M136.5 13v1M136.5 16v1M137.5 9v1M137.5 27v1M139.5 5v1M139.5 18v1M139.5 19v1M139.5 21v1M139.5 25v1M140.5 9v1M140.5 22v1M140.5 27v1M141.5 1v1M141.5 2v1M141.5 16v1M141.5 28v1M142.5 17v1M142.5 22v1M142.5 26v1M143.5 2v1M144.5 4v1M144.5 12v1M144.5 13v1M144.5 22v1M144.5 25v1M144.5 27v1M145.5 4v1M145.5 5v1M147.5 1v1M147.5 17v1M147.5 20v1M148.5 0v1M148.5 4v1M148.5 5v1M148.5 16v1M148.5 21v1M149.5 22v1M149.5 25v1M150.5 21v1M150.5 22v1M150.5 24v1M151.5 8v1M151.5 10v1M151.5 13v1M151.5 21v1M152.5 17v1M152.5 22v1M152.5 23v1M152.5 26v1M153.5 2v1M153.5 9v1M153.5 20v1M154.5 2v1M154.5 11v1M155.5 3v1M155.5 20v1M156.5 0v1M156.5 13v1M156.5 16v1M157.5 0v1M157.5 1v1M157.5 7v1M157.5 17v1M157.5 22v1M157.5 26v1M158.5 0v1M158.5 2v1M158.5 8v1M158.5 10v1M159.5 1v1M159.5 2v1M160.5 18v1M161.5 2v1M161.5 12v1M161.5 14v1M161.5 21v1M162.5 21v1M163.5 22v1M163.5 28v1M164.5 12v1M164.5 16v1M164.5 17v1M164.5 21v1M164.5 25v1M165.5 18v1M165.5 28v1M166.5 0v1M166.5 1v1M166.5 2v1M166.5 10v1M167.5 4v1M167.5 13v1M168.5 1v1M168.5 4v1M169.5 9v1M172.5 16v1M172.5 26v1M172.5 28v1M173.5 1v1M173.5 4v1M173.5 10v1M174.5 7v1M174.5 20v1M174.5 23v1M175.5 0v1M175.5 4v1M175.5 5v1M175.5 8v1M176.5 1v1M176.5 6v1M177.5 13v1M177.5 17v1M177.5 18v1M177.5 21v1M178.5 6v1M178.5 12v1M179.5 0v1M179.5 21v1M180.5 18v1M180.5 19v1M182.5 4v1M183.5 21v1M183.5 25v1M183.5 26v1M184.5 2v1M184.5 9v1M184.5 27v1M185.5 0v1M185.5 7v1M185.5 9v1M186.5 1v1M186.5 8v1M186.5 15v1M186.5 23v1M186.5 28v1M186.5 29v1M187.5 4v1M187.5 5v1M187.5 8v1M187.5 13v1M188.5 9v1M188.5 25v1M189.5 2v1M189.5 13v1M190.5 2v1M190.5 3v1M190.5 6v1M190.5 9v1M191.5 5v1M191.5 10v1M191.5 15v1M191.5 20v1M191.5 24v1M192.5 15v1M192.5 28v1M193.5 15v1M193.5 26v1M194.5 1v1M194.5 3v1M194.5 5v1M195.5 1v1M195.5 3v1M195.5 4v1M196.5 13v1M196.5 24v1M197.5 4v1M197.5 7v1M197.5 19v1M198.5 0v1M198.5 2v1M198.5 3v1M198.5 8v1M198.5 13v1M199.5 1v1M199.5 10v1M199.5 11v1M200.5 17v1M200.5 23v1M200.5 27v1M202.5 5v1M202.5 16v1M202.5 24v1M202.5 26v1M203.5 5v1M203.5 7v1M205.5 4v1M205.5 12v1M205.5 15v1M205.5 17v1M206.5 5v1M206.5 10v1M206.5 13v1M206.5 29v1M207.5 9v1M207.5 19v1M207.5 20v1M207.5 26v1M208.5 7v1M208.5 9v1M209.5 9v1M209.5 17v1M209.5 18v1M209.5 22v1M209.5 25v1M209.5 28v1M211.5 5v1M211.5 25v1M212.5 4v1M212.5 10v1M212.5 14v1M213.5 18v1M213.5 28v1M214.5 10v1M214.5 14v1M215.5 2v1M215.5 6v1M215.5 13v1M215.5 14v1M217.5 2v1M219.5 9v1M221.5 16v1M221.5 20v1M222.5 3v1M222.5 20v1M223.5 21v1M223.5 25v1M224.5 6v1M224.5 13v1M224.5 28v1M225.5 20v1M226.5 1v1M226.5 13v1M226.5 20v1M226.5 21v1M226.5 25v1M227.5 4v1M227.5 6v1M227.5 7v1M227.5 14v1M227.5 15v1M227.5 26v1M228.5 21v1M228.5 22v1M229.5 2v1M229.5 3v1M229.5 5v1M229.5 13v1M229.5 18v1M230.5 5v1M231.5 10v1M231.5 12v1M231.5 20v1M231.5 21v1M232.5 9v1M233.5 0v1M233.5 20v1M233.5 27v1M234.5 9v1M234.5 10v1M234.5 12v1M234.5 16v1M235.5 3v1M235.5 10v1M235.5 29v1M236.5 6v1M236.5 19v1M236.5 20v1M237.5 3v1M237.5 29v1M238.5 1v1M238.5 4v1M238.5 21v1M239.5 18v1M239.5 22v1M240.5 13v1M242.5 16v1M242.5 17v1M242.5 19v1M242.5 21v1M243.5 21v1M243.5 24v1M243.5 25v1M244.5 3v1M244.5 4v1M244.5 6v1M244.5 7v1M244.5 8v1M244.5 12v1M245.5 0v1M245.5 1v1M245.5 16v1M246.5 0v1M246.5 1v1M246.5 2v1M246.5 7v1M246.5 8v1M246.5 13v1M246.5 14v1M247.5 10v1M247.5 11v1M247.5 23v1M248.5 7v1M248.5 8v1M248.5 12v1M249.5 5v1M249.5 9v1M249.5 20v1M250.5 0v1M251.5 7v1M252.5 2v1M252.5 18v1M253.5 2v1M253.5 4v1M253.5 5v1M253.5 10v1M254.5 4v1M254.5 10v1M254.5 11v1M255.5 1v1M255.5 13v1M255.5 24v1M256.5 5v1M256.5 17v1M257.5 2v1M257.5 5v1M258.5 1v1M258.5 2v1M259.5 11v1M259.5 20v1M260.5 5v1M260.5 8v1M260.5 9v1M261.5 0v1M261.5 5v1M262.5 6v1M262.5 16v1M262.5 18v1M263.5 21v1M263.5 26v1M264.5 10v1M264.5 24v1M265.5 6v1M265.5 9v1M265.5 10v1M265.5 22v1M266.5 24v1M268.5 7v1M268.5 12v1M268.5 13v1M269.5 9v1M269.5 12v1M270.5 1v1M270.5 2v1M270.5 26v1M271.5 5v1M271.5 11v1M271.5 14v1M273.5 11v1M273.5 17v1M274.5 21v1M275.5 4v1M275.5 24v1M276.5 0v1M276.5 1v1M276.5 5v1M276.5 11v1M277.5 4v1M279.5 8v1M279.5 24v1M280.5 5v1M280.5 6v1M280.5 8v1M281.5 2v1M282.5 0v1M282.5 17v1M283.5 1v1M283.5 7v1M284.5 8v1M284.5 12v1M284.5 13v1M284.5 17v1M284.5 24v1M285.5 15v1M286.5 17v1M286.5 18v1M286.5 21v1M287.5 3v1M287.5 21v1M287.5 24v1M289.5 6v1M289.5 8v1M289.5 10v1M289.5 12v1M290.5 3v1M290.5 21v1M291.5 10v1M292.5 20v1M293.5 0v1M293.5 4v1M293.5 14v1M295.5 1v1M295.5 2v1M295.5 5v1M295.5 9v1M295.5 13v1M295.5 21v1M296.5 1v1M296.5 4v1M296.5 13v1M296.5 18v1M296.5 21v1M296.5 25v1M297.5 0v1M297.5 3v1M297.5 7v1M297.5 15v1M298.5 2v1M299.5 2v1M299.5 3v1M299.5 6v1M300.5 13v1M301.5 7v1M301.5 11v1M301.5 13v1M301.5 19v1M301.5 20v1M302.5 2v1M302.5 11v1M303.5 1v1M303.5 2v1M303.5 8v1M303.5 12v1M303.5 14v1M303.5 18v1M304.5 13v1M304.5 26v1M307.5 22v1M308.5 5v1M309.5 8v1M310.5 16v1M311.5 2v1M311.5 6v1M312.5 1v1M312.5 25v1M313.5 3v1M313.5 12v1M314.5 5v1M314.5 10v1M315.5 0v1M315.5 1v1M315.5 5v1M315.5 8v1M315.5 9v1M316.5 1v1M316.5 2v1M316.5 4v1M316.5 8v1M316.5 12v1M316.5 24v1M316.5 25v1M317.5 2v1M318.5 3v1M318.5 5v1M318.5 6v1M318.5 11v1M318.5 12v1M318.5 13v1M319.5 3v1M319.5 4v1M320.5 14v1M321.5 7v1M321.5 10v1M321.5 12v1M321.5 13v1M322.5 12v1M323.5 1v1M323.5 2v1M323.5 12v1M323.5 13v1M323.5 14v1M324.5 4v1M324.5 5v1M324.5 10v1M324.5 12v1M325.5 11v1M325.5 19v1M326.5 21v1M326.5 22v1M326.5 24v1M327.5 4v1M327.5 5v1M327.5 12v1M328.5 1v1M328.5 2v1M328.5 3v1M328.5 12v1M328.5 13v1M328.5 14v1M328.5 29v1M330.5 2v1M330.5 3v1M330.5 14v1M330.5 22v1M330.5 26v1M331.5 1v1M331.5 7v1M331.5 8v1M331.5 18v1M332.5 17v1M332.5 21v1M332.5 27v1M332.5 28v1M333.5 3v1M334.5 10v1M334.5 13v1M335.5 2v1M335.5 5v1M335.5 13v1M336.5 5v1M337.5 18v1M338.5 11v1M339.5 0v1M339.5 4v1M339.5 6v1M339.5 11v1M340.5 5v1M340.5 10v1M340.5 13v1M341.5 21v1M341.5 22v1M341.5 25v1M342.5 1v1M343.5 6v1M343.5 11v1M344.5 0v1M344.5 14v1M344.5 21v1M344.5 26v1M345.5 0v1M345.5 3v1M345.5 9v1M346.5 13v1M347.5 3v1M347.5 6v1M347.5 7v1M347.5 8v1M347.5 12v1M348.5 8v1M348.5 19v1M349.5 0v1M349.5 2v1M349.5 9v1M349.5 12v1M349.5 26v1M350.5 2v1M350.5 3v1M350.5 5v1M350.5 13v1M351.5 10v1M351.5 13v1M352.5 26v1M352.5 27v1M353.5 10v1M353.5 11v1M355.5 24v1M356.5 10v1M357.5 4v1M357.5 9v1M357.5 11v1M357.5 14v1M358.5 11v1M359.5 5v1M359.5 10v1M360.5 11v1M361.5 7v1M361.5 10v1M361.5 11v1M361.5 28v1M362.5 3v1M362.5 11v1M363.5 4v1M363.5 9v1M364.5 5v1M364.5 7v1M364.5 10v1M364.5 12v1M364.5 19v1M365.5 1v1M365.5 2v1M365.5 6v1M366.5 12v1M367.5 0v1M367.5 5v1M367.5 10v1M367.5 14v1M368.5 0v1M368.5 11v1M368.5 14v1M369.5 1v1M369.5 13v1"/>
<path stroke="#1b2a12" d="M0.5 11v1M6.5 6v1M6.5 26v1M7.5 6v1M8.5 18v1M9.5 19v1M10.5 17v1M11.5 22v1M11.5 24v1M12.5 23v1M14.5 5v1M14.5 27v1M16.5 10v1M16.5 22v1M18.5 2v1M18.5 19v1M21.5 16v1M22.5 20v1M22.5 27v1M27.5 3v1M28.5 16v1M29.5 1v1M30.5 8v1M30.5 21v1M30.5 23v1M32.5 20v1M32.5 21v1M33.5 17v1M34.5 16v1M34.5 25v1M35.5 10v1M36.5 5v1M36.5 10v1M36.5 15v1M36.5 27v1M38.5 3v1M38.5 10v1M38.5 20v1M40.5 10v1M40.5 25v1M41.5 4v1M41.5 8v1M41.5 16v1M41.5 24v1M43.5 27v1M45.5 3v1M46.5 18v1M46.5 20v1M46.5 21v1M46.5 22v1M48.5 24v1M48.5 28v1M49.5 28v1M50.5 27v1M51.5 16v1M53.5 23v1M55.5 1v1M57.5 4v1M57.5 12v1M58.5 8v1M58.5 27v1M59.5 9v1M59.5 11v1M59.5 26v1M60.5 5v1M60.5 14v1M60.5 17v1M60.5 19v1M60.5 20v1M61.5 27v1M62.5 8v1M62.5 17v1M63.5 13v1M63.5 24v1M64.5 9v1M64.5 26v1M66.5 21v1M67.5 4v1M67.5 6v1M67.5 29v1M68.5 5v1M68.5 22v1M69.5 28v1M70.5 11v1M70.5 20v1M71.5 22v1M72.5 3v1M72.5 8v1M72.5 13v1M72.5 15v1M72.5 22v1M73.5 8v1M73.5 12v1M73.5 13v1M73.5 15v1M73.5 19v1M74.5 22v1M74.5 27v1M74.5 28v1M75.5 15v1M76.5 0v1M76.5 13v1M76.5 14v1M76.5 21v1M76.5 22v1M78.5 2v1M78.5 11v1M78.5 26v1M79.5 18v1M80.5 10v1M80.5 18v1M80.5 19v1M80.5 26v1M82.5 1v1M82.5 11v1M82.5 14v1M83.5 27v1M85.5 5v1M86.5 0v1M86.5 18v1M88.5 16v1M89.5 6v1M89.5 27v1M89.5 29v1M90.5 12v1M91.5 0v1M91.5 17v1M91.5 27v1M93.5 28v1M94.5 10v1M94.5 20v1M94.5 28v1M95.5 21v1M95.5 27v1M96.5 3v1M96.5 10v1M96.5 13v1M97.5 20v1M98.5 6v1M98.5 17v1M98.5 24v1M99.5 0v1M100.5 18v1M101.5 15v1M101.5 24v1M101.5 28v1M102.5 2v1M102.5 16v1M102.5 17v1M102.5 22v1M102.5 24v1M102.5 28v1M103.5 15v1M103.5 16v1M103.5 18v1M103.5 21v1M103.5 26v1M103.5 29v1M104.5 26v1M105.5 2v1M105.5 6v1M105.5 9v1M105.5 13v1M106.5 2v1M106.5 15v1M106.5 26v1M107.5 8v1M107.5 14v1M107.5 22v1M107.5 23v1M107.5 24v1M108.5 6v1M108.5 11v1M108.5 15v1M108.5 18v1M108.5 25v1M109.5 15v1M109.5 18v1M109.5 20v1M109.5 23v1M109.5 27v1M110.5 1v1M110.5 28v1M110.5 29v1M111.5 0v1M111.5 2v1M111.5 21v1M112.5 5v1M112.5 11v1M112.5 12v1M112.5 16v1M112.5 26v1M113.5 4v1M113.5 9v1M113.5 10v1M113.5 21v1M114.5 3v1M114.5 6v1M114.5 12v1M114.5 18v1M114.5 22v1M115.5 7v1M115.5 10v1M115.5 21v1M116.5 17v1M116.5 18v1M116.5 28v1M117.5 1v1M117.5 2v1M117.5 4v1M117.5 18v1M117.5 26v1M118.5 21v1M118.5 26v1M118.5 29v1M119.5 4v1M119.5 6v1M120.5 1v1M120.5 8v1M120.5 14v1M120.5 16v1M120.5 25v1M121.5 4v1M121.5 10v1M121.5 16v1M121.5 25v1M121.5 27v1M122.5 20v1M122.5 22v1M122.5 26v1M123.5 15v1M123.5 18v1M123.5 26v1M123.5 28v1M124.5 6v1M124.5 25v1M125.5 16v1M125.5 29v1M126.5 6v1M126.5 7v1M126.5 20v1M126.5 21v1M126.5 26v1M126.5 28v1M127.5 1v1M127.5 3v1M127.5 5v1M127.5 9v1M128.5 0v1M128.5 3v1M128.5 18v1M129.5 1v1M129.5 4v1M129.5 6v1M129.5 23v1M130.5 3v1M130.5 6v1M130.5 17v1M132.5 1v1M132.5 4v1M132.5 20v1M132.5 21v1M133.5 1v1M133.5 16v1M133.5 18v1M133.5 27v1M136.5 2v1M136.5 24v1M137.5 1v1M137.5 6v1M137.5 7v1M137.5 18v1M137.5 21v1M138.5 9v1M138.5 13v1M138.5 26v1M139.5 9v1M139.5 16v1M139.5 22v1M140.5 6v1M140.5 7v1M140.5 21v1M140.5 23v1M141.5 9v1M141.5 18v1M142.5 24v1M142.5 28v1M143.5 0v1M143.5 9v1M143.5 13v1M143.5 14v1M143.5 20v1M144.5 10v1M144.5 11v1M144.5 14v1M144.5 16v1M144.5 17v1M145.5 16v1M145.5 21v1M145.5 25v1M146.5 6v1M146.5 20v1M146.5 21v1M146.5 22v1M146.5 25v1M146.5 26v1M147.5 10v1M147.5 18v1M147.5 21v1M148.5 2v1M148.5 11v1M148.5 12v1M148.5 24v1M148.5 26v1M149.5 14v1M150.5 13v1M150.5 15v1M150.5 25v1M151.5 3v1M151.5 4v1M151.5 25v1M152.5 18v1M152.5 28v1M153.5 26v1M153.5 29v1M154.5 1v1M154.5 7v1M154.5 12v1M154.5 16v1M155.5 22v1M155.5 24v1M156.5 1v1M156.5 3v1M156.5 4v1M156.5 8v1M156.5 11v1M156.5 12v1M157.5 16v1M157.5 21v1M157.5 25v1M157.5 29v1M158.5 11v1M158.5 14v1M159.5 8v1M159.5 10v1M159.5 21v1M159.5 25v1M160.5 22v1M160.5 24v1M161.5 9v1M162.5 2v1M162.5 9v1M164.5 1v1M164.5 20v1M164.5 22v1M166.5 4v1M166.5 5v1M166.5 11v1M166.5 12v1M166.5 22v1M166.5 28v1M167.5 3v1M167.5 12v1M167.5 16v1M167.5 18v1M168.5 2v1M168.5 5v1M168.5 6v1M168.5 7v1M168.5 9v1M168.5 11v1M168.5 12v1M168.5 16v1M168.5 24v1M168.5 28v1M169.5 2v1M169.5 24v1M169.5 29v1M170.5 5v1M170.5 15v1M170.5 19v1M170.5 22v1M171.5 7v1M171.5 12v1M172.5 5v1M172.5 7v1M172.5 14v1M172.5 22v1M173.5 2v1M174.5 24v1M174.5 25v1M175.5 3v1M175.5 12v1M175.5 14v1M176.5 2v1M176.5 7v1M176.5 16v1M176.5 18v1M176.5 21v1M176.5 25v1M176.5 29v1M177.5 9v1M177.5 16v1M177.5 20v1M178.5 4v1M178.5 9v1M178.5 16v1M178.5 17v1M178.5 28v1M179.5 1v1M179.5 13v1M180.5 0v1M180.5 3v1M180.5 22v1M180.5 25v1M181.5 1v1M181.5 4v1M181.5 16v1M181.5 25v1M182.5 11v1M182.5 21v1M183.5 8v1M183.5 15v1M183.5 22v1M183.5 24v1M184.5 4v1M184.5 10v1M184.5 15v1M184.5 18v1M184.5 22v1M184.5 24v1M184.5 26v1M185.5 2v1M185.5 13v1M185.5 18v1M185.5 22v1M186.5 2v1M186.5 12v1M186.5 25v1M186.5 27v1M187.5 0v1M187.5 7v1M188.5 17v1M188.5 27v1M189.5 4v1M189.5 8v1M189.5 9v1M190.5 16v1M190.5 17v1M190.5 19v1M190.5 22v1M190.5 24v1M191.5 2v1M191.5 12v1M191.5 22v1M191.5 26v1M192.5 2v1M192.5 7v1M192.5 8v1M192.5 18v1M192.5 26v1M194.5 2v1M194.5 13v1M195.5 0v1M195.5 27v1M196.5 1v1M196.5 5v1M196.5 21v1M196.5 25v1M196.5 28v1M197.5 1v1M197.5 21v1M197.5 22v1M198.5 21v1M199.5 3v1M199.5 12v1M199.5 27v1M200.5 5v1M200.5 18v1M201.5 6v1M201.5 8v1M201.5 21v1M201.5 23v1M202.5 8v1M203.5 2v1M203.5 11v1M203.5 12v1M204.5 2v1M204.5 4v1M204.5 6v1M204.5 9v1M204.5 13v1M204.5 24v1M205.5 0v1M205.5 1v1M205.5 7v1M205.5 11v1M205.5 14v1M205.5 20v1M206.5 21v1M206.5 26v1M206.5 27v1M207.5 0v1M207.5 2v1M207.5 5v1M207.5 6v1M207.5 17v1M207.5 25v1M207.5 28v1M208.5 8v1M208.5 13v1M209.5 5v1M209.5 21v1M209.5 23v1M210.5 0v1M210.5 15v1M210.5 18v1M210.5 24v1M211.5 0v1M211.5 6v1M211.5 8v1M211.5 9v1M211.5 12v1M212.5 6v1M212.5 9v1M213.5 15v1M213.5 22v1M213.5 25v1M214.5 0v1M214.5 4v1M214.5 5v1M214.5 15v1M214.5 21v1M214.5 26v1M215.5 9v1M215.5 10v1M215.5 12v1M215.5 16v1M216.5 2v1M216.5 3v1M216.5 17v1M216.5 22v1M216.5 25v1M216.5 28v1M218.5 17v1M218.5 22v1M218.5 23v1M218.5 29v1M219.5 3v1M219.5 4v1M219.5 5v1M219.5 10v1M219.5 12v1M219.5 14v1M220.5 0v1M220.5 13v1M220.5 15v1M220.5 16v1M220.5 19v1M221.5 9v1M221.5 14v1M221.5 17v1M222.5 18v1M222.5 19v1M222.5 25v1M222.5 26v1M222.5 28v1M223.5 0v1M224.5 7v1M224.5 14v1M225.5 1v1M225.5 14v1M225.5 17v1M225.5 22v1M225.5 25v1M225.5 27v1M226.5 3v1M226.5 6v1M226.5 8v1M226.5 24v1M226.5 27v1M227.5 10v1M227.5 17v1M227.5 21v1M228.5 15v1M228.5 18v1M228.5 24v1M228.5 28v1M229.5 4v1M229.5 6v1M229.5 14v1M229.5 21v1M230.5 2v1M231.5 17v1M233.5 1v1M233.5 4v1M233.5 29v1M234.5 8v1M234.5 13v1M234.5 21v1M234.5 25v1M235.5 2v1M235.5 6v1M235.5 12v1M235.5 13v1M235.5 21v1M236.5 14v1M237.5 17v1M237.5 22v1M238.5 0v1M238.5 10v1M238.5 11v1M238.5 20v1M239.5 24v1M239.5 26v1M240.5 12v1M240.5 20v1M241.5 1v1M241.5 2v1M241.5 5v1M241.5 9v1M241.5 16v1M241.5 24v1M241.5 29v1M242.5 9v1M242.5 22v1M243.5 3v1M243.5 16v1M243.5 18v1M243.5 20v1M243.5 22v1M244.5 1v1M244.5 5v1M244.5 10v1M244.5 11v1M244.5 21v1M244.5 25v1M245.5 6v1M246.5 11v1M247.5 8v1M247.5 9v1M247.5 12v1M248.5 14v1M249.5 15v1M249.5 16v1M249.5 22v1M249.5 24v1M250.5 20v1M250.5 25v1M251.5 11v1M252.5 0v1M252.5 4v1M252.5 5v1M252.5 6v1M252.5 9v1M252.5 13v1M253.5 1v1M253.5 3v1M253.5 6v1M253.5 8v1M253.5 12v1M253.5 13v1M253.5 14v1M253.5 18v1M253.5 20v1M255.5 4v1M255.5 5v1M255.5 25v1M256.5 7v1M256.5 9v1M256.5 14v1M256.5 20v1M256.5 22v1M256.5 24v1M256.5 29v1M257.5 0v1M257.5 3v1M257.5 20v1M258.5 4v1M258.5 5v1M258.5 19v1M258.5 21v1M260.5 3v1M260.5 15v1M260.5 23v1M261.5 9v1M261.5 11v1M262.5 11v1M262.5 14v1M262.5 22v1M263.5 9v1M263.5 18v1M263.5 20v1M263.5 29v1M264.5 6v1M265.5 1v1M265.5 2v1M265.5 3v1M265.5 12v1M265.5 14v1M265.5 15v1M265.5 20v1M266.5 6v1M266.5 8v1M266.5 9v1M266.5 10v1M266.5 18v1M266.5 21v1M266.5 26v1M267.5 6v1M267.5 8v1M267.5 9v1M267.5 18v1M267.5 20v1M267.5 21v1M267.5 25v1M268.5 4v1M268.5 5v1M268.5 6v1M268.5 8v1M269.5 6v1M269.5 10v1M269.5 21v1M270.5 0v1M270.5 3v1M270.5 4v1M270.5 13v1M271.5 0v1M274.5 6v1M274.5 12v1M275.5 0v1M275.5 5v1M275.5 12v1M275.5 13v1M276.5 6v1M277.5 10v1M277.5 11v1M277.5 12v1M277.5 13v1M277.5 14v1M278.5 11v1M278.5 27v1M279.5 7v1M279.5 12v1M279.5 25v1M281.5 1v1M281.5 3v1M281.5 5v1M281.5 16v1M281.5 20v1M283.5 11v1M283.5 12v1M283.5 21v1M283.5 25v1M283.5 26v1M284.5 10v1M284.5 14v1M284.5 15v1M284.5 20v1M286.5 0v1M286.5 2v1M286.5 4v1M287.5 4v1M287.5 10v1M287.5 22v1M288.5 3v1M288.5 5v1M289.5 14v1M290.5 0v1M290.5 4v1M290.5 10v1M291.5 1v1M291.5 4v1M291.5 7v1M291.5 11v1M291.5 15v1M292.5 6v1M292.5 7v1M292.5 9v1M292.5 25v1M292.5 26v1M292.5 28v1M293.5 6v1M293.5 21v1M293.5 22v1M294.5 12v1M296.5 2v1M296.5 9v1M296.5 11v1M296.5 16v1M297.5 1v1M297.5 4v1M297.5 13v1M297.5 21v1M297.5 25v1M298.5 0v1M298.5 4v1M298.5 12v1M300.5 7v1M300.5 16v1M302.5 6v1M302.5 10v1M302.5 12v1M302.5 20v1M302.5 21v1M303.5 10v1M303.5 13v1M303.5 23v1M303.5 25v1M304.5 4v1M304.5 15v1M304.5 16v1M304.5 24v1M304.5 25v1M306.5 0v1M306.5 3v1M306.5 4v1M306.5 8v1M307.5 13v1M307.5 19v1M308.5 1v1M308.5 10v1M308.5 12v1M309.5 7v1M309.5 9v1M309.5 11v1M309.5 14v1M309.5 16v1M309.5 29v1M310.5 15v1M310.5 25v1M311.5 12v1M311.5 14v1M312.5 3v1M312.5 8v1M312.5 26v1M313.5 0v1M313.5 1v1M313.5 9v1M313.5 14v1M313.5 22v1M314.5 7v1M314.5 11v1M314.5 25v1M315.5 7v1M315.5 11v1M315.5 12v1M316.5 3v1M316.5 10v1M316.5 11v1M317.5 3v1M317.5 8v1M317.5 11v1M317.5 14v1M318.5 7v1M318.5 21v1M319.5 0v1M319.5 12v1M320.5 10v1M321.5 1v1M321.5 4v1M321.5 8v1M322.5 0v1M322.5 18v1M322.5 21v1M323.5 0v1M323.5 8v1M323.5 21v1M323.5 25v1M324.5 21v1M325.5 0v1M325.5 8v1M325.5 13v1M327.5 3v1M327.5 6v1M327.5 8v1M327.5 9v1M327.5 10v1M327.5 16v1M328.5 0v1M328.5 6v1M328.5 9v1M328.5 15v1M330.5 21v1M332.5 3v1M332.5 7v1M332.5 9v1M333.5 2v1M333.5 9v1M333.5 10v1M333.5 26v1M334.5 5v1M334.5 7v1M334.5 17v1M334.5 20v1M334.5 22v1M335.5 11v1M335.5 28v1M336.5 21v1M337.5 1v1M337.5 3v1M337.5 9v1M337.5 10v1M337.5 21v1M338.5 2v1M338.5 3v1M338.5 5v1M339.5 3v1M340.5 11v1M340.5 14v1M340.5 19v1M341.5 0v1M341.5 9v1M342.5 11v1M343.5 7v1M343.5 24v1M344.5 3v1M344.5 6v1M345.5 4v1M345.5 8v1M345.5 11v1M345.5 13v1M345.5 14v1M345.5 21v1M346.5 3v1M347.5 5v1M347.5 25v1M348.5 3v1M348.5 10v1M348.5 17v1M348.5 25v1M349.5 6v1M349.5 8v1M349.5 22v1M352.5 5v1M352.5 11v1M352.5 13v1M352.5 18v1M353.5 1v1M353.5 4v1M353.5 7v1M353.5 8v1M353.5 12v1M353.5 21v1M354.5 3v1M354.5 10v1M354.5 26v1M355.5 7v1M355.5 21v1M355.5 27v1M356.5 11v1M357.5 5v1M357.5 7v1M357.5 8v1M357.5 26v1M358.5 12v1M359.5 4v1M359.5 12v1M360.5 4v1M360.5 10v1M360.5 14v1M360.5 20v1M361.5 2v1M361.5 18v1M361.5 19v1M361.5 21v1M362.5 5v1M362.5 10v1M364.5 3v1M364.5 9v1M364.5 16v1M364.5 20v1M364.5 23v1M365.5 4v1M366.5 4v1M366.5 7v1M366.5 14v1M367.5 3v1M367.5 6v1M368.5 1v1M368.5 2v1M368.5 13v1M368.5 25v1M369.5 2v1M369.5 11v1M369.5 25v1"/>
<path stroke="#161b0e" d="M0.5 9v1M2.5 2v1M2.5 5v1M3.5 28v1M4.5 19v1M4.5 28v1M5.5 5v1M7.5 9v1M9.5 5v1M10.5 23v1M10.5 29v1M12.5 1v1M12.5 4v1M12.5 18v1M12.5 22v1M13.5 9v1M13.5 25v1M14.5 2v1M16.5 16v1M16.5 20v1M17.5 14v1M17.5 16v1M18.5 16v1M18.5 17v1M18.5 18v1M20.5 3v1M20.5 12v1M20.5 23v1M21.5 0v1M21.5 26v1M22.5 16v1M24.5 27v1M26.5 16v1M26.5 18v1M27.5 6v1M28.5 6v1M30.5 4v1M30.5 16v1M31.5 2v1M31.5 17v1M31.5 25v1M31.5 29v1M32.5 8v1M32.5 29v1M33.5 28v1M35.5 24v1M36.5 6v1M36.5 29v1M37.5 0v1M37.5 5v1M38.5 18v1M38.5 24v1M41.5 9v1M42.5 0v1M42.5 15v1M42.5 27v1M43.5 0v1M43.5 9v1M43.5 29v1M44.5 14v1M45.5 1v1M46.5 24v1M47.5 27v1M49.5 6v1M49.5 10v1M49.5 22v1M51.5 5v1M51.5 18v1M51.5 23v1M52.5 5v1M52.5 13v1M52.5 20v1M52.5 25v1M56.5 10v1M57.5 8v1M57.5 15v1M57.5 24v1M57.5 27v1M61.5 7v1M61.5 22v1M62.5 1v1M62.5 12v1M62.5 27v1M63.5 26v1M63.5 27v1M64.5 17v1M65.5 14v1M65.5 15v1M65.5 16v1M65.5 29v1M66.5 5v1M66.5 15v1M67.5 8v1M67.5 17v1M67.5 21v1M67.5 22v1M67.5 28v1M69.5 25v1M71.5 21v1M71.5 29v1M72.5 16v1M73.5 10v1M73.5 11v1M73.5 18v1M74.5 16v1M74.5 26v1M75.5 6v1M75.5 24v1M76.5 2v1M76.5 7v1M76.5 8v1M76.5 12v1M76.5 27v1M77.5 7v1M77.5 20v1M77.5 27v1M78.5 16v1M79.5 10v1M79.5 15v1M80.5 1v1M80.5 13v1M80.5 27v1M81.5 9v1M81.5 15v1M81.5 19v1M81.5 25v1M81.5 29v1M82.5 25v1M84.5 23v1M84.5 25v1M85.5 0v1M85.5 2v1M85.5 23v1M86.5 17v1M86.5 24v1M86.5 29v1M87.5 23v1M88.5 1v1M89.5 9v1M89.5 19v1M90.5 7v1M90.5 10v1M90.5 26v1M91.5 6v1M91.5 24v1M91.5 25v1M92.5 22v1M92.5 23v1M93.5 6v1M93.5 11v1M93.5 20v1M93.5 26v1M93.5 29v1M95.5 24v1M96.5 12v1M96.5 23v1M96.5 25v1M97.5 12v1M97.5 19v1M98.5 7v1M98.5 9v1M98.5 25v1M100.5 23v1M101.5 5v1M101.5 6v1M101.5 10v1M101.5 21v1M101.5 25v1M103.5 8v1M103.5 9v1M103.5 17v1M103.5 20v1M104.5 0v1M104.5 1v1M104.5 2v1M104.5 19v1M105.5 0v1M105.5 3v1M105.5 8v1M105.5 10v1M105.5 12v1M105.5 14v1M106.5 9v1M106.5 27v1M106.5 28v1M106.5 29v1M107.5 0v1M107.5 1v1M107.5 13v1M107.5 18v1M107.5 20v1M107.5 25v1M107.5 29v1M108.5 4v1M108.5 12v1M108.5 13v1M108.5 21v1M108.5 29v1M109.5 0v1M110.5 6v1M110.5 7v1M110.5 9v1M111.5 3v1M111.5 6v1M111.5 10v1M111.5 12v1M112.5 3v1M112.5 13v1M112.5 15v1M112.5 17v1M112.5 18v1M112.5 22v1M113.5 5v1M113.5 19v1M113.5 20v1M114.5 1v1M114.5 24v1M115.5 11v1M115.5 15v1M115.5 22v1M115.5 26v1M115.5 27v1M116.5 7v1M116.5 10v1M116.5 15v1M116.5 27v1M117.5 0v1M117.5 21v1M117.5 23v1M118.5 10v1M118.5 28v1M119.5 5v1M120.5 6v1M120.5 10v1M120.5 11v1M120.5 12v1M120.5 17v1M120.5 18v1M120.5 26v1M121.5 1v1M121.5 5v1M121.5 6v1M121.5 13v1M121.5 22v1M121.5 28v1M122.5 25v1M122.5 28v1M122.5 29v1M123.5 17v1M123.5 19v1M123.5 22v1M124.5 0v1M124.5 4v1M124.5 16v1M124.5 18v1M124.5 26v1M125.5 1v1M125.5 17v1M125.5 26v1M126.5 12v1M126.5 14v1M126.5 29v1M127.5 0v1M127.5 16v1M127.5 17v1M127.5 18v1M127.5 20v1M127.5 26v1M127.5 27v1M127.5 28v1M127.5 29v1M128.5 5v1M128.5 11v1M128.5 13v1M128.5 20v1M128.5 21v1M128.5 24v1M128.5 26v1M128.5 29v1M129.5 9v1M129.5 24v1M129.5 25v1M130.5 1v1M130.5 13v1M130.5 20v1M130.5 22v1M130.5 26v1M131.5 4v1M131.5 5v1M131.5 8v1M131.5 9v1M131.5 10v1M131.5 21v1M132.5 8v1M132.5 9v1M132.5 15v1M132.5 18v1M132.5 24v1M132.5 27v1M132.5 29v1M133.5 11v1M133.5 20v1M133.5 22v1M133.5 24v1M133.5 29v1M134.5 9v1M134.5 26v1M134.5 29v1M135.5 5v1M135.5 8v1M135.5 9v1M135.5 16v1M135.5 17v1M135.5 18v1M135.5 19v1M135.5 24v1M135.5 27v1M136.5 6v1M136.5 7v1M136.5 12v1M136.5 17v1M136.5 25v1M137.5 2v1M137.5 4v1M137.5 10v1M137.5 13v1M137.5 26v1M138.5 1v1M138.5 3v1M138.5 4v1M138.5 5v1M138.5 7v1M138.5 29v1M139.5 0v1M139.5 26v1M140.5 2v1M140.5 3v1M140.5 5v1M140.5 10v1M141.5 0v1M141.5 8v1M141.5 14v1M141.5 25v1M142.5 7v1M142.5 8v1M143.5 1v1M143.5 15v1M144.5 2v1M144.5 23v1M145.5 2v1M145.5 6v1M145.5 12v1M145.5 13v1M145.5 15v1M145.5 17v1M145.5 20v1M146.5 10v1M146.5 13v1M146.5 17v1M146.5 19v1M146.5 27v1M147.5 13v1M147.5 22v1M147.5 26v1M148.5 6v1M148.5 7v1M148.5 17v1M148.5 22v1M149.5 2v1M149.5 3v1M149.5 4v1M149.5 13v1M149.5 18v1M149.5 20v1M149.5 28v1M150.5 0v1M150.5 2v1M150.5 6v1M150.5 7v1M150.5 9v1M150.5 26v1M150.5 28v1M150.5 29v1M151.5 1v1M151.5 2v1M151.5 6v1M151.5 22v1M153.5 14v1M153.5 15v1M153.5 18v1M153.5 19v1M154.5 5v1M154.5 8v1M154.5 10v1M154.5 28v1M155.5 4v1M155.5 9v1M155.5 11v1M155.5 18v1M155.5 25v1M156.5 9v1M156.5 10v1M156.5 20v1M156.5 23v1M157.5 8v1M157.5 10v1M157.5 12v1M157.5 18v1M159.5 12v1M159.5 24v1M160.5 7v1M160.5 12v1M160.5 19v1M160.5 29v1M161.5 6v1M161.5 7v1M161.5 10v1M162.5 3v1M162.5 4v1M162.5 10v1M162.5 13v1M162.5 15v1M162.5 17v1M163.5 2v1M163.5 3v1M163.5 9v1M163.5 20v1M163.5 21v1M163.5 24v1M163.5 27v1M164.5 0v1M164.5 3v1M164.5 27v1M164.5 29v1M165.5 1v1M165.5 15v1M166.5 6v1M166.5 7v1M166.5 20v1M166.5 21v1M167.5 7v1M167.5 10v1M167.5 21v1M167.5 25v1M168.5 3v1M169.5 1v1M169.5 6v1M169.5 18v1M169.5 22v1M169.5 23v1M169.5 25v1M169.5 26v1M170.5 27v1M170.5 28v1M171.5 3v1M172.5 2v1M172.5 8v1M172.5 9v1M172.5 10v1M172.5 17v1M172.5 24v1M172.5 29v1M173.5 7v1M174.5 9v1M174.5 13v1M174.5 15v1M174.5 22v1M176.5 10v1M176.5 14v1M176.5 19v1M176.5 26v1M177.5 4v1M177.5 12v1M177.5 22v1M177.5 23v1M177.5 25v1M177.5 26v1M178.5 8v1M178.5 24v1M178.5 25v1M179.5 2v1M179.5 3v1M179.5 4v1M179.5 8v1M179.5 10v1M179.5 12v1M179.5 26v1M181.5 13v1M181.5 15v1M181.5 17v1M181.5 19v1M181.5 21v1M182.5 2v1M182.5 9v1M182.5 10v1M182.5 15v1M182.5 17v1M183.5 29v1M184.5 6v1M184.5 11v1M184.5 17v1M184.5 21v1M184.5 23v1M184.5 29v1M185.5 8v1M187.5 16v1M188.5 4v1M188.5 8v1M188.5 18v1M188.5 20v1M188.5 21v1M188.5 29v1M189.5 7v1M189.5 16v1M189.5 19v1M189.5 20v1M189.5 22v1M189.5 26v1M189.5 27v1M190.5 8v1M190.5 18v1M190.5 25v1M190.5 26v1M190.5 29v1M191.5 1v1M191.5 3v1M191.5 7v1M191.5 9v1M191.5 16v1M191.5 25v1M192.5 6v1M192.5 22v1M192.5 24v1M192.5 27v1M193.5 24v1M194.5 15v1M194.5 16v1M195.5 13v1M195.5 20v1M196.5 0v1M196.5 3v1M196.5 6v1M196.5 8v1M196.5 14v1M196.5 26v1M196.5 29v1M197.5 2v1M197.5 3v1M197.5 5v1M197.5 6v1M197.5 9v1M197.5 10v1M198.5 5v1M198.5 6v1M198.5 7v1M198.5 15v1M198.5 24v1M199.5 5v1M199.5 8v1M200.5 2v1M200.5 4v1M200.5 19v1M201.5 0v1M201.5 15v1M201.5 17v1M201.5 18v1M201.5 20v1M201.5 24v1M202.5 20v1M202.5 27v1M202.5 28v1M203.5 8v1M204.5 5v1M204.5 10v1M204.5 12v1M204.5 18v1M204.5 20v1M204.5 25v1M205.5 2v1M205.5 5v1M205.5 10v1M205.5 16v1M206.5 3v1M206.5 9v1M206.5 15v1M206.5 20v1M206.5 22v1M206.5 28v1M207.5 22v1M208.5 0v1M208.5 4v1M208.5 6v1M208.5 14v1M208.5 18v1M209.5 10v1M209.5 27v1M209.5 29v1M210.5 7v1M210.5 8v1M210.5 20v1M210.5 22v1M210.5 23v1M210.5 27v1M210.5 28v1M211.5 1v1M211.5 11v1M211.5 27v1M212.5 22v1M213.5 8v1M213.5 9v1M213.5 11v1M214.5 3v1M214.5 9v1M214.5 11v1M214.5 12v1M214.5 13v1M215.5 3v1M215.5 7v1M215.5 8v1M215.5 15v1M216.5 5v1M216.5 8v1M216.5 12v1M216.5 21v1M217.5 0v1M217.5 1v1M217.5 3v1M217.5 20v1M218.5 21v1M218.5 24v1M218.5 26v1M219.5 27v1M220.5 3v1M220.5 18v1M220.5 25v1M220.5 26v1M220.5 29v1M221.5 18v1M221.5 22v1M221.5 23v1M221.5 24v1M221.5 26v1M222.5 0v1M222.5 2v1M222.5 15v1M222.5 29v1M223.5 3v1M223.5 7v1M223.5 8v1M223.5 10v1M223.5 14v1M223.5 15v1M223.5 26v1M224.5 11v1M225.5 5v1M225.5 8v1M225.5 9v1M225.5 18v1M226.5 12v1M226.5 18v1M227.5 0v1M227.5 1v1M227.5 3v1M227.5 8v1M228.5 17v1M229.5 0v1M229.5 10v1M229.5 11v1M229.5 16v1M229.5 19v1M229.5 20v1M230.5 6v1M230.5 7v1M230.5 13v1M230.5 15v1M230.5 20v1M231.5 0v1M231.5 1v1M231.5 2v1M231.5 4v1M231.5 5v1M231.5 8v1M231.5 11v1M231.5 23v1M233.5 6v1M233.5 7v1M233.5 12v1M234.5 0v1M234.5 5v1M234.5 14v1M234.5 18v1M234.5 20v1M235.5 1v1M235.5 8v1M235.5 16v1M236.5 1v1M236.5 7v1M236.5 12v1M236.5 21v1M236.5 26v1M236.5 27v1M237.5 2v1M237.5 4v1M237.5 12v1M237.5 16v1M237.5 18v1M237.5 21v1M238.5 5v1M238.5 7v1M238.5 8v1M238.5 12v1M238.5 22v1M238.5 24v1M238.5 25v1M238.5 28v1M239.5 0v1M239.5 1v1M239.5 9v1M239.5 14v1M239.5 15v1M239.5 20v1M239.5 28v1M239.5 29v1M240.5 11v1M240.5 24v1M241.5 4v1M241.5 8v1M241.5 15v1M241.5 20v1M242.5 5v1M242.5 24v1M242.5 25v1M243.5 1v1M243.5 5v1M243.5 12v1M243.5 19v1M243.5 27v1M243.5 28v1M244.5 0v1M244.5 26v1M245.5 8v1M245.5 13v1M245.5 19v1M245.5 22v1M246.5 19v1M249.5 7v1M249.5 13v1M249.5 18v1M249.5 29v1M250.5 6v1M251.5 2v1M251.5 8v1M251.5 9v1M251.5 16v1M252.5 1v1M252.5 3v1M252.5 8v1M252.5 21v1M252.5 24v1M252.5 28v1M253.5 0v1M253.5 11v1M254.5 15v1M255.5 3v1M255.5 6v1M255.5 21v1M255.5 26v1M256.5 1v1M256.5 11v1M256.5 13v1M256.5 16v1M256.5 28v1M257.5 1v1M257.5 18v1M257.5 24v1M257.5 26v1M258.5 12v1M258.5 24v1M259.5 3v1M259.5 14v1M259.5 18v1M260.5 4v1M260.5 12v1M260.5 17v1M260.5 25v1M261.5 10v1M262.5 9v1M262.5 15v1M263.5 22v1M263.5 24v1M264.5 21v1M266.5 3v1M266.5 16v1M266.5 22v1M266.5 23v1M267.5 0v1M267.5 2v1M267.5 3v1M267.5 15v1M267.5 26v1M268.5 0v1M268.5 3v1M268.5 15v1M268.5 16v1M268.5 26v1M269.5 0v1M269.5 2v1M269.5 3v1M269.5 8v1M269.5 13v1M269.5 15v1M269.5 20v1M270.5 8v1M270.5 12v1M270.5 15v1M270.5 22v1M271.5 24v1M272.5 5v1M272.5 9v1M273.5 7v1M273.5 8v1M273.5 10v1M274.5 4v1M274.5 8v1M274.5 18v1M274.5 24v1M274.5 25v1M275.5 25v1M276.5 18v1M277.5 1v1M277.5 6v1M277.5 22v1M278.5 13v1M279.5 10v1M279.5 16v1M279.5 22v1M280.5 12v1M281.5 7v1M281.5 11v1M281.5 12v1M281.5 14v1M283.5 8v1M283.5 13v1M283.5 20v1M286.5 7v1M286.5 8v1M286.5 10v1M286.5 26v1M286.5 27v1M288.5 21v1M289.5 3v1M289.5 11v1M289.5 13v1M289.5 16v1M289.5 22v1M290.5 2v1M291.5 8v1M291.5 17v1M292.5 11v1M292.5 15v1M292.5 18v1M293.5 2v1M293.5 8v1M293.5 10v1M293.5 12v1M293.5 13v1M293.5 25v1M294.5 3v1M294.5 4v1M294.5 7v1M294.5 14v1M294.5 17v1M294.5 20v1M294.5 21v1M294.5 26v1M294.5 29v1M295.5 0v1M295.5 11v1M295.5 14v1M295.5 28v1M296.5 6v1M296.5 15v1M296.5 29v1M297.5 11v1M297.5 16v1M297.5 22v1M298.5 6v1M298.5 10v1M298.5 22v1M298.5 23v1M300.5 3v1M300.5 4v1M300.5 17v1M300.5 27v1M301.5 0v1M301.5 1v1M301.5 4v1M301.5 10v1M301.5 15v1M301.5 18v1M301.5 21v1M301.5 29v1M302.5 3v1M302.5 4v1M302.5 24v1M304.5 1v1M304.5 21v1M304.5 28v1M304.5 29v1M306.5 27v1M307.5 2v1M307.5 15v1M307.5 16v1M307.5 26v1M307.5 27v1M307.5 28v1M308.5 3v1M308.5 20v1M309.5 1v1M309.5 2v1M309.5 5v1M309.5 6v1M309.5 10v1M309.5 25v1M310.5 0v1M310.5 17v1M310.5 19v1M310.5 26v1M312.5 4v1M312.5 6v1M312.5 21v1M313.5 7v1M313.5 8v1M313.5 16v1M313.5 17v1M313.5 18v1M313.5 21v1M313.5 25v1M313.5 28v1M315.5 13v1M316.5 7v1M316.5 18v1M316.5 21v1M317.5 0v1M317.5 12v1M318.5 15v1M318.5 24v1M319.5 11v1M320.5 2v1M322.5 3v1M322.5 4v1M322.5 7v1M324.5 22v1M325.5 1v1M325.5 26v1M326.5 0v1M326.5 18v1M327.5 1v1M327.5 11v1M327.5 14v1M328.5 5v1M328.5 21v1M328.5 25v1M330.5 1v1M330.5 9v1M330.5 11v1M330.5 12v1M331.5 0v1M331.5 2v1M331.5 10v1M331.5 12v1M331.5 16v1M331.5 19v1M331.5 27v1M332.5 2v1M332.5 4v1M332.5 8v1M332.5 16v1M333.5 11v1M333.5 12v1M333.5 16v1M333.5 18v1M333.5 25v1M335.5 3v1M335.5 7v1M335.5 8v1M335.5 10v1M335.5 12v1M335.5 21v1M337.5 5v1M337.5 6v1M337.5 7v1M337.5 8v1M337.5 13v1M337.5 22v1M338.5 7v1M338.5 21v1M338.5 24v1M338.5 29v1M339.5 8v1M339.5 13v1M339.5 14v1M340.5 4v1M340.5 8v1M340.5 26v1M341.5 4v1M341.5 8v1M341.5 12v1M341.5 14v1M341.5 28v1M342.5 18v1M344.5 18v1M346.5 20v1M347.5 10v1M347.5 29v1M348.5 6v1M348.5 9v1M348.5 12v1M348.5 13v1M348.5 26v1M348.5 27v1M348.5 28v1M348.5 29v1M349.5 4v1M349.5 11v1M349.5 15v1M350.5 26v1M352.5 0v1M352.5 1v1M352.5 2v1M352.5 7v1M352.5 8v1M352.5 25v1M352.5 29v1M353.5 3v1M353.5 5v1M353.5 18v1M353.5 22v1M354.5 2v1M354.5 4v1M354.5 9v1M354.5 13v1M354.5 22v1M355.5 2v1M355.5 6v1M355.5 14v1M355.5 25v1M355.5 26v1M356.5 5v1M356.5 14v1M357.5 2v1M357.5 3v1M357.5 20v1M359.5 27v1M360.5 1v1M364.5 1v1M364.5 17v1M366.5 2v1M366.5 5v1M367.5 15v1M368.5 7v1M368.5 16v1M369.5 5v1M369.5 10v1M369.5 14v1M369.5 26v1"/>
<path stroke="#220d0c" d="M0.5 18v1M1.5 1v1M1.5 3v1M2.5 26v1M3.5 13v1M3.5 27v1M4.5 6v1M4.5 15v1M5.5 3v1M7.5 14v1M7.5 25v1M8.5 1v1M11.5 19v1M12.5 12v1M12.5 15v1M14.5 17v1M15.5 7v1M15.5 24v1M16.5 15v1M17.5 11v1M18.5 8v1M21.5 27v1M22.5 3v1M23.5 1v1M24.5 9v1M25.5 14v1M25.5 18v1M26.5 1v1M26.5 5v1M26.5 23v1M28.5 17v1M29.5 16v1M30.5 0v1M30.5 7v1M31.5 0v1M31.5 27v1M33.5 2v1M33.5 7v1M33.5 24v1M35.5 8v1M35.5 14v1M36.5 8v1M37.5 11v1M38.5 4v1M40.5 1v1M40.5 2v1M40.5 15v1M40.5 19v1M40.5 20v1M41.5 14v1M41.5 18v1M42.5 7v1M42.5 13v1M43.5 11v1M43.5 22v1M44.5 8v1M45.5 10v1M45.5 24v1M46.5 25v1M47.5 4v1M48.5 5v1M48.5 8v1M48.5 9v1M49.5 19v1M50.5 10v1M51.5 2v1M52.5 3v1M52.5 9v1M52.5 12v1M52.5 29v1M53.5 11v1M53.5 12v1M53.5 15v1M54.5 16v1M59.5 3v1M59.5 10v1M61.5 0v1M61.5 13v1M62.5 2v1M62.5 4v1M62.5 5v1M62.5 7v1M62.5 21v1M62.5 23v1M63.5 29v1M64.5 0v1M64.5 8v1M64.5 18v1M65.5 5v1M65.5 28v1M66.5 8v1M66.5 17v1M67.5 1v1M67.5 5v1M67.5 9v1M67.5 10v1M67.5 11v1M67.5 23v1M68.5 0v1M68.5 15v1M68.5 23v1M68.5 26v1M69.5 7v1M70.5 19v1M70.5 25v1M72.5 9v1M72.5 12v1M72.5 14v1M72.5 19v1M73.5 24v1M73.5 25v1M74.5 6v1M75.5 0v1M75.5 1v1M75.5 9v1M76.5 10v1M77.5 17v1M79.5 0v1M79.5 7v1M80.5 4v1M81.5 3v1M81.5 6v1M81.5 7v1M81.5 17v1M81.5 27v1M82.5 2v1M84.5 10v1M84.5 16v1M85.5 10v1M86.5 10v1M86.5 27v1M87.5 17v1M88.5 8v1M88.5 15v1M89.5 17v1M89.5 26v1M90.5 0v1M90.5 3v1M90.5 11v1M90.5 14v1M90.5 20v1M91.5 3v1M91.5 9v1M91.5 10v1M91.5 12v1M91.5 18v1M92.5 0v1M92.5 1v1M92.5 5v1M92.5 10v1M93.5 2v1M93.5 8v1M93.5 12v1M93.5 13v1M94.5 1v1M94.5 8v1M95.5 5v1M98.5 1v1M99.5 12v1M99.5 22v1M99.5 26v1M100.5 1v1M100.5 5v1M100.5 14v1M100.5 28v1M101.5 12v1M101.5 13v1M101.5 20v1M102.5 3v1M102.5 6v1M102.5 9v1M102.5 27v1M104.5 15v1M104.5 17v1M104.5 20v1M104.5 23v1M105.5 1v1M105.5 25v1M105.5 27v1M105.5 28v1M105.5 29v1M106.5 0v1M106.5 6v1M106.5 19v1M107.5 4v1M107.5 16v1M107.5 28v1M108.5 0v1M108.5 20v1M108.5 24v1M109.5 3v1M109.5 5v1M109.5 7v1M109.5 8v1M109.5 19v1M109.5 29v1M110.5 3v1M110.5 11v1M110.5 27v1M111.5 5v1M111.5 7v1M111.5 17v1M111.5 19v1M111.5 20v1M111.5 23v1M111.5 25v1M112.5 8v1M112.5 24v1M113.5 7v1M113.5 29v1M114.5 9v1M114.5 10v1M114.5 14v1M115.5 1v1M115.5 2v1M115.5 3v1M115.5 5v1M116.5 19v1M117.5 7v1M117.5 11v1M117.5 20v1M117.5 28v1M117.5 29v1M118.5 4v1M118.5 13v1M118.5 17v1M119.5 0v1M119.5 7v1M119.5 13v1M119.5 18v1M120.5 9v1M121.5 11v1M121.5 19v1M122.5 4v1M122.5 16v1M122.5 23v1M123.5 0v1M123.5 1v1M123.5 2v1M123.5 3v1M123.5 4v1M123.5 5v1M123.5 23v1M124.5 5v1M124.5 8v1M124.5 13v1M124.5 28v1M125.5 3v1M125.5 7v1M125.5 11v1M126.5 3v1M126.5 4v1M126.5 18v1M126.5 24v1M127.5 7v1M127.5 8v1M127.5 15v1M127.5 23v1M127.5 24v1M128.5 9v1M128.5 16v1M129.5 8v1M129.5 11v1M129.5 19v1M129.5 27v1M129.5 28v1M130.5 8v1M130.5 14v1M131.5 2v1M131.5 11v1M131.5 25v1M131.5 29v1M132.5 6v1M132.5 19v1M133.5 2v1M133.5 5v1M133.5 8v1M133.5 9v1M133.5 14v1M133.5 26v1M134.5 0v1M134.5 3v1M134.5 8v1M134.5 14v1M135.5 6v1M135.5 11v1M135.5 13v1M135.5 25v1M135.5 29v1M136.5 27v1M136.5 28v1M137.5 11v1M137.5 15v1M137.5 29v1M138.5 6v1M138.5 14v1M138.5 15v1M138.5 18v1M138.5 28v1M139.5 3v1M139.5 6v1M139.5 7v1M139.5 8v1M140.5 0v1M140.5 15v1M140.5 16v1M140.5 25v1M140.5 28v1M141.5 5v1M141.5 6v1M141.5 15v1M142.5 1v1M142.5 9v1M142.5 10v1M142.5 14v1M142.5 23v1M143.5 11v1M143.5 16v1M143.5 29v1M144.5 19v1M144.5 20v1M145.5 0v1M145.5 1v1M145.5 8v1M145.5 22v1M146.5 0v1M146.5 4v1M146.5 5v1M146.5 18v1M146.5 29v1M147.5 6v1M147.5 7v1M147.5 11v1M147.5 15v1M147.5 27v1M148.5 3v1M148.5 8v1M148.5 9v1M148.5 14v1M148.5 28v1M149.5 1v1M149.5 5v1M149.5 7v1M149.5 8v1M149.5 24v1M149.5 27v1M150.5 4v1M150.5 5v1M150.5 10v1M150.5 11v1M150.5 17v1M150.5 19v1M151.5 11v1M151.5 14v1M151.5 15v1M151.5 17v1M151.5 20v1M151.5 23v1M151.5 26v1M152.5 10v1M153.5 1v1M153.5 12v1M153.5 16v1M154.5 26v1M155.5 15v1M155.5 16v1M155.5 28v1M156.5 18v1M156.5 28v1M157.5 2v1M157.5 19v1M157.5 27v1M158.5 29v1M159.5 26v1M160.5 6v1M160.5 9v1M161.5 4v1M161.5 22v1M161.5 28v1M162.5 11v1M162.5 23v1M162.5 25v1M162.5 28v1M163.5 4v1M163.5 11v1M163.5 12v1M163.5 19v1M163.5 23v1M164.5 2v1M164.5 5v1M164.5 7v1M164.5 10v1M164.5 23v1M165.5 3v1M165.5 4v1M165.5 23v1M165.5 24v1M165.5 25v1M165.5 27v1M166.5 15v1M167.5 11v1M167.5 24v1M168.5 29v1M169.5 8v1M169.5 14v1M169.5 15v1M169.5 28v1M170.5 0v1M170.5 1v1M170.5 2v1M170.5 3v1M170.5 4v1M170.5 6v1M171.5 6v1M171.5 10v1M172.5 0v1M172.5 1v1M172.5 6v1M172.5 12v1M173.5 3v1M173.5 15v1M173.5 19v1M173.5 20v1M173.5 21v1M174.5 4v1M174.5 5v1M174.5 8v1M174.5 10v1M174.5 19v1M174.5 29v1M175.5 15v1M175.5 22v1M175.5 25v1M176.5 13v1M176.5 17v1M176.5 22v1M176.5 24v1M177.5 5v1M177.5 6v1M177.5 27v1M178.5 10v1M178.5 29v1M179.5 11v1M179.5 18v1M179.5 19v1M180.5 6v1M180.5 8v1M180.5 10v1M180.5 23v1M180.5 28v1M181.5 12v1M181.5 20v1M181.5 22v1M181.5 28v1M182.5 12v1M182.5 29v1M183.5 5v1M183.5 9v1M183.5 20v1M184.5 1v1M184.5 5v1M184.5 7v1M184.5 12v1M184.5 14v1M185.5 1v1M185.5 27v1M186.5 3v1M187.5 12v1M187.5 14v1M187.5 28v1M188.5 5v1M188.5 10v1M188.5 13v1M188.5 19v1M188.5 28v1M189.5 17v1M189.5 21v1M189.5 24v1M190.5 7v1M190.5 10v1M190.5 15v1M190.5 27v1M191.5 19v1M192.5 3v1M192.5 9v1M192.5 14v1M192.5 16v1M192.5 29v1M193.5 5v1M193.5 7v1M193.5 12v1M193.5 14v1M193.5 16v1M193.5 19v1M194.5 9v1M194.5 22v1M195.5 21v1M195.5 22v1M196.5 4v1M196.5 7v1M196.5 18v1M196.5 23v1M197.5 8v1M197.5 11v1M197.5 15v1M197.5 28v1M198.5 10v1M198.5 20v1M198.5 22v1M199.5 16v1M199.5 20v1M200.5 0v1M200.5 6v1M200.5 9v1M200.5 13v1M200.5 22v1M201.5 4v1M201.5 7v1M201.5 10v1M201.5 11v1M202.5 1v1M202.5 10v1M203.5 16v1M203.5 21v1M203.5 24v1M204.5 7v1M204.5 26v1M205.5 21v1M206.5 17v1M206.5 18v1M207.5 1v1M207.5 4v1M207.5 8v1M207.5 12v1M207.5 13v1M207.5 14v1M208.5 17v1M208.5 28v1M209.5 13v1M209.5 19v1M210.5 1v1M210.5 5v1M210.5 11v1M211.5 3v1M211.5 20v1M211.5 26v1M212.5 7v1M212.5 13v1M212.5 15v1M212.5 20v1M212.5 21v1M212.5 26v1M213.5 1v1M213.5 2v1M213.5 3v1M213.5 6v1M213.5 20v1M213.5 23v1M214.5 18v1M215.5 17v1M215.5 19v1M215.5 22v1M215.5 25v1M216.5 7v1M216.5 14v1M216.5 18v1M216.5 27v1M217.5 7v1M217.5 9v1M217.5 22v1M218.5 4v1M218.5 7v1M218.5 8v1M218.5 12v1M218.5 13v1M219.5 22v1M219.5 29v1M220.5 5v1M220.5 11v1M220.5 24v1M220.5 28v1M221.5 5v1M222.5 6v1M222.5 10v1M222.5 13v1M223.5 29v1M224.5 22v1M225.5 2v1M225.5 12v1M225.5 23v1M225.5 24v1M226.5 11v1M226.5 14v1M226.5 28v1M226.5 29v1M227.5 2v1M227.5 28v1M227.5 29v1M228.5 1v1M228.5 3v1M228.5 4v1M228.5 5v1M228.5 12v1M229.5 25v1M229.5 27v1M229.5 29v1M230.5 25v1M230.5 26v1M231.5 18v1M231.5 27v1M231.5 29v1M232.5 12v1M232.5 21v1M233.5 8v1M233.5 17v1M234.5 28v1M235.5 5v1M236.5 8v1M237.5 6v1M237.5 10v1M237.5 23v1M238.5 9v1M239.5 6v1M239.5 19v1M239.5 25v1M240.5 0v1M240.5 3v1M240.5 15v1M241.5 0v1M241.5 27v1M242.5 4v1M242.5 6v1M242.5 11v1M242.5 12v1M243.5 0v1M243.5 2v1M243.5 4v1M243.5 6v1M243.5 8v1M243.5 23v1M244.5 14v1M244.5 15v1M244.5 23v1M245.5 10v1M245.5 11v1M245.5 18v1M245.5 26v1M245.5 27v1M246.5 16v1M246.5 17v1M247.5 17v1M247.5 21v1M248.5 6v1M248.5 26v1M249.5 0v1M249.5 2v1M249.5 19v1M249.5 27v1M249.5 28v1M250.5 18v1M251.5 5v1M251.5 21v1M251.5 24v1M251.5 27v1M252.5 7v1M252.5 19v1M253.5 17v1M253.5 26v1M254.5 9v1M254.5 18v1M254.5 21v1M254.5 22v1M254.5 29v1M255.5 7v1M255.5 16v1M255.5 17v1M256.5 2v1M256.5 3v1M256.5 4v1M256.5 23v1M257.5 12v1M257.5 17v1M258.5 3v1M258.5 20v1M259.5 23v1M259.5 28v1M260.5 14v1M260.5 18v1M261.5 12v1M261.5 15v1M261.5 19v1M262.5 2v1M262.5 7v1M262.5 10v1M262.5 17v1M263.5 2v1M265.5 16v1M265.5 25v1M266.5 4v1M266.5 11v1M266.5 14v1M266.5 17v1M266.5 27v1M266.5 28v1M267.5 7v1M267.5 14v1M267.5 17v1M267.5 19v1M267.5 22v1M267.5 27v1M268.5 17v1M269.5 5v1M269.5 19v1M269.5 22v1M270.5 11v1M270.5 23v1M270.5 24v1M270.5 25v1M272.5 16v1M272.5 25v1M273.5 21v1M273.5 25v1M274.5 0v1M274.5 3v1M274.5 5v1M274.5 11v1M274.5 22v1M274.5 29v1M275.5 10v1M275.5 18v1M275.5 23v1M276.5 13v1M276.5 17v1M277.5 20v1M277.5 28v1M279.5 14v1M279.5 28v1M279.5 29v1M280.5 15v1M280.5 21v1M280.5 22v1M281.5 10v1M281.5 15v1M281.5 27v1M282.5 15v1M282.5 20v1M283.5 3v1M284.5 11v1M284.5 16v1M284.5 25v1M286.5 9v1M286.5 13v1M286.5 16v1M286.5 25v1M289.5 21v1M290.5 15v1M290.5 26v1M291.5 16v1M291.5 26v1M292.5 0v1M292.5 14v1M292.5 19v1M292.5 24v1M292.5 27v1M293.5 17v1M293.5 18v1M293.5 20v1M293.5 27v1M294.5 5v1M294.5 24v1M294.5 25v1M295.5 16v1M295.5 18v1M295.5 27v1M296.5 22v1M296.5 24v1M297.5 18v1M298.5 1v1M298.5 24v1M300.5 0v1M300.5 8v1M300.5 20v1M301.5 9v1M301.5 24v1M302.5 15v1M302.5 16v1M302.5 19v1M302.5 26v1M302.5 29v1M303.5 5v1M303.5 21v1M304.5 8v1M304.5 10v1M304.5 11v1M304.5 22v1M305.5 15v1M306.5 15v1M306.5 26v1M307.5 8v1M307.5 9v1M307.5 12v1M309.5 4v1M310.5 5v1M310.5 6v1M310.5 8v1M310.5 14v1M311.5 11v1M311.5 16v1M311.5 20v1M311.5 22v1M312.5 10v1M312.5 16v1M313.5 15v1M313.5 20v1M313.5 27v1M314.5 23v1M315.5 17v1M315.5 25v1M316.5 14v1M317.5 15v1M317.5 17v1M317.5 23v1M317.5 26v1M318.5 0v1M318.5 16v1M318.5 17v1M318.5 22v1M319.5 10v1M319.5 15v1M319.5 18v1M319.5 22v1M320.5 18v1M321.5 15v1M321.5 20v1M321.5 28v1M322.5 17v1M322.5 25v1M323.5 3v1M323.5 17v1M323.5 20v1M323.5 26v1M324.5 11v1M324.5 24v1M324.5 26v1M325.5 5v1M325.5 21v1M325.5 24v1M326.5 10v1M326.5 28v1M327.5 0v1M327.5 18v1M327.5 23v1M328.5 7v1M328.5 20v1M328.5 23v1M328.5 24v1M328.5 26v1M330.5 4v1M330.5 18v1M330.5 24v1M330.5 25v1M330.5 29v1M331.5 24v1M332.5 1v1M332.5 5v1M332.5 11v1M332.5 13v1M332.5 14v1M332.5 26v1M333.5 20v1M333.5 21v1M333.5 22v1M334.5 11v1M334.5 29v1M335.5 1v1M335.5 18v1M335.5 20v1M335.5 22v1M335.5 25v1M336.5 28v1M337.5 0v1M337.5 14v1M337.5 15v1M337.5 20v1M337.5 25v1M338.5 12v1M338.5 15v1M338.5 20v1M338.5 26v1M340.5 27v1M341.5 1v1M341.5 18v1M341.5 23v1M341.5 26v1M341.5 29v1M342.5 29v1M343.5 16v1M343.5 27v1M344.5 7v1M344.5 16v1M344.5 19v1M344.5 20v1M346.5 1v1M346.5 11v1M346.5 21v1M348.5 11v1M348.5 14v1M348.5 20v1M348.5 21v1M349.5 20v1M349.5 28v1M351.5 20v1M352.5 12v1M353.5 0v1M353.5 6v1M353.5 14v1M353.5 20v1M353.5 25v1M354.5 5v1M354.5 17v1M355.5 3v1M355.5 16v1M355.5 17v1M355.5 20v1M355.5 22v1M355.5 29v1M359.5 16v1M360.5 8v1M360.5 28v1M361.5 14v1M361.5 15v1M361.5 16v1M361.5 20v1M361.5 25v1M362.5 25v1M363.5 12v1M363.5 18v1M363.5 20v1M363.5 24v1M364.5 22v1M365.5 16v1M365.5 18v1M365.5 26v1M366.5 11v1M366.5 20v1M366.5 28v1M367.5 8v1M367.5 25v1M368.5 27v1M369.5 3v1M369.5 15v1M369.5 16v1M369.5 21v1M369.5 22v1M369.5 23v1"/>
<path stroke="#340e0d" d="M1.5 10v1M1.5 13v1M2.5 0v1M3.5 2v1M4.5 1v1M4.5 3v1M4.5 5v1M4.5 10v1M4.5 23v1M5.5 10v1M12.5 7v1M12.5 14v1M13.5 6v1M13.5 7v1M16.5 9v1M18.5 12v1M18.5 14v1M20.5 2v1M20.5 9v1M20.5 13v1M21.5 3v1M21.5 8v1M21.5 9v1M23.5 19v1M24.5 14v1M26.5 0v1M26.5 6v1M26.5 12v1M30.5 10v1M33.5 9v1M34.5 17v1M38.5 0v1M38.5 6v1M38.5 8v1M39.5 25v1M40.5 6v1M41.5 2v1M42.5 1v1M43.5 2v1M43.5 5v1M43.5 12v1M43.5 13v1M44.5 3v1M44.5 9v1M45.5 27v1M46.5 12v1M47.5 2v1M47.5 3v1M49.5 4v1M49.5 9v1M49.5 20v1M50.5 7v1M51.5 20v1M52.5 1v1M54.5 0v1M54.5 9v1M55.5 10v1M56.5 27v1M58.5 10v1M59.5 6v1M59.5 7v1M59.5 8v1M60.5 0v1M60.5 3v1M60.5 11v1M60.5 12v1M62.5 9v1M62.5 10v1M63.5 15v1M64.5 12v1M64.5 13v1M64.5 22v1M65.5 2v1M65.5 8v1M67.5 2v1M68.5 3v1M69.5 4v1M69.5 12v1M70.5 2v1M71.5 11v1M72.5 21v1M73.5 0v1M73.5 6v1M73.5 7v1M73.5 20v1M74.5 0v1M74.5 2v1M75.5 10v1M75.5 21v1M76.5 16v1M77.5 0v1M78.5 5v1M79.5 3v1M79.5 9v1M80.5 7v1M82.5 28v1M83.5 14v1M84.5 8v1M84.5 13v1M85.5 1v1M85.5 12v1M87.5 7v1M88.5 5v1M88.5 6v1M88.5 10v1M89.5 13v1M89.5 24v1M90.5 5v1M90.5 16v1M90.5 25v1M92.5 3v1M92.5 9v1M93.5 10v1M93.5 14v1M93.5 25v1M94.5 9v1M94.5 24v1M94.5 27v1M95.5 11v1M95.5 25v1M96.5 5v1M96.5 18v1M96.5 26v1M96.5 28v1M97.5 0v1M97.5 17v1M99.5 1v1M99.5 4v1M99.5 18v1M100.5 3v1M100.5 17v1M100.5 27v1M101.5 8v1M101.5 22v1M102.5 4v1M102.5 5v1M102.5 11v1M103.5 7v1M103.5 12v1M103.5 13v1M103.5 28v1M104.5 9v1M104.5 14v1M104.5 16v1M104.5 21v1M105.5 5v1M105.5 18v1M105.5 22v1M105.5 23v1M105.5 24v1M107.5 3v1M107.5 10v1M107.5 15v1M108.5 19v1M109.5 4v1M109.5 12v1M110.5 4v1M110.5 8v1M110.5 10v1M111.5 27v1M111.5 28v1M112.5 19v1M112.5 21v1M112.5 23v1M113.5 3v1M113.5 13v1M113.5 14v1M113.5 22v1M114.5 4v1M114.5 7v1M115.5 9v1M115.5 12v1M115.5 23v1M115.5 28v1M116.5 0v1M116.5 2v1M116.5 4v1M116.5 6v1M116.5 12v1M116.5 29v1M117.5 12v1M117.5 16v1M117.5 27v1M118.5 0v1M118.5 3v1M118.5 5v1M118.5 24v1M119.5 15v1M119.5 22v1M119.5 25v1M120.5 15v1M120.5 23v1M120.5 27v1M120.5 29v1M121.5 23v1M121.5 29v1M122.5 1v1M122.5 6v1M122.5 10v1M122.5 13v1M122.5 19v1M123.5 7v1M123.5 11v1M123.5 13v1M124.5 2v1M124.5 10v1M124.5 24v1M125.5 0v1M125.5 6v1M125.5 23v1M126.5 2v1M126.5 10v1M127.5 11v1M127.5 19v1M128.5 19v1M129.5 10v1M129.5 17v1M130.5 0v1M130.5 28v1M131.5 0v1M131.5 3v1M131.5 27v1M132.5 0v1M132.5 10v1M132.5 14v1M132.5 23v1M133.5 3v1M133.5 10v1M134.5 6v1M134.5 13v1M135.5 0v1M135.5 4v1M135.5 10v1M135.5 14v1M136.5 4v1M137.5 8v1M137.5 14v1M137.5 17v1M137.5 25v1M138.5 0v1M138.5 2v1M138.5 19v1M138.5 23v1M139.5 11v1M139.5 23v1M139.5 28v1M140.5 26v1M141.5 23v1M141.5 27v1M142.5 19v1M143.5 22v1M143.5 27v1M144.5 24v1M145.5 28v1M146.5 24v1M146.5 28v1M147.5 2v1M147.5 3v1M147.5 4v1M147.5 14v1M147.5 19v1M147.5 23v1M147.5 24v1M148.5 1v1M148.5 18v1M148.5 23v1M148.5 25v1M149.5 11v1M149.5 23v1M149.5 29v1M150.5 27v1M151.5 0v1M151.5 5v1M151.5 19v1M151.5 29v1M152.5 5v1M152.5 7v1M153.5 10v1M153.5 23v1M154.5 0v1M154.5 17v1M154.5 22v1M154.5 27v1M154.5 29v1M155.5 1v1M155.5 13v1M156.5 6v1M156.5 19v1M156.5 21v1M157.5 3v1M157.5 6v1M157.5 14v1M158.5 20v1M159.5 15v1M159.5 27v1M160.5 0v1M160.5 5v1M160.5 27v1M161.5 16v1M161.5 17v1M161.5 20v1M161.5 23v1M161.5 24v1M161.5 27v1M162.5 1v1M162.5 26v1M163.5 7v1M164.5 6v1M164.5 9v1M164.5 19v1M165.5 0v1M165.5 11v1M166.5 16v1M166.5 25v1M166.5 26v1M167.5 1v1M167.5 19v1M167.5 28v1M168.5 0v1M168.5 19v1M169.5 7v1M169.5 13v1M170.5 12v1M170.5 13v1M170.5 14v1M170.5 23v1M171.5 21v1M171.5 25v1M172.5 3v1M172.5 13v1M173.5 11v1M173.5 26v1M174.5 14v1M175.5 10v1M175.5 18v1M175.5 26v1M176.5 0v1M177.5 24v1M177.5 29v1M178.5 1v1M178.5 19v1M179.5 14v1M179.5 22v1M179.5 23v1M179.5 24v1M179.5 27v1M180.5 4v1M180.5 5v1M180.5 11v1M180.5 13v1M180.5 17v1M180.5 27v1M180.5 29v1M181.5 0v1M181.5 18v1M181.5 29v1M182.5 19v1M182.5 26v1M183.5 2v1M183.5 19v1M185.5 10v1M185.5 15v1M185.5 16v1M185.5 20v1M185.5 23v1M185.5 28v1M186.5 24v1M187.5 15v1M187.5 25v1M188.5 3v1M188.5 6v1M188.5 12v1M188.5 23v1M189.5 14v1M190.5 11v1M190.5 20v1M191.5 4v1M191.5 13v1M191.5 14v1M192.5 0v1M192.5 5v1M192.5 19v1M193.5 25v1M193.5 27v1M194.5 7v1M194.5 24v1M194.5 26v1M194.5 28v1M195.5 8v1M195.5 10v1M195.5 16v1M195.5 17v1M195.5 29v1M197.5 20v1M198.5 9v1M198.5 26v1M198.5 27v1M199.5 14v1M199.5 28v1M200.5 28v1M201.5 26v1M202.5 15v1M203.5 22v1M203.5 28v1M203.5 29v1M204.5 22v1M204.5 23v1M204.5 27v1M204.5 28v1M204.5 29v1M205.5 22v1M205.5 25v1M206.5 11v1M207.5 10v1M208.5 2v1M208.5 20v1M208.5 22v1M208.5 26v1M209.5 2v1M209.5 3v1M209.5 11v1M209.5 12v1M210.5 3v1M210.5 10v1M210.5 12v1M210.5 14v1M210.5 16v1M211.5 7v1M212.5 17v1M212.5 19v1M213.5 0v1M213.5 14v1M213.5 21v1M214.5 2v1M214.5 29v1M215.5 18v1M216.5 1v1M216.5 13v1M217.5 4v1M217.5 11v1M217.5 23v1M217.5 24v1M218.5 3v1M218.5 14v1M218.5 28v1M219.5 0v1M219.5 16v1M219.5 19v1M219.5 21v1M219.5 25v1M219.5 26v1M220.5 1v1M220.5 2v1M220.5 8v1M220.5 9v1M220.5 20v1M220.5 23v1M221.5 0v1M221.5 3v1M221.5 4v1M221.5 7v1M221.5 8v1M221.5 12v1M222.5 4v1M222.5 11v1M222.5 12v1M222.5 17v1M222.5 24v1M223.5 4v1M223.5 16v1M224.5 18v1M224.5 20v1M224.5 29v1M225.5 4v1M225.5 6v1M225.5 10v1M225.5 11v1M225.5 26v1M226.5 7v1M226.5 26v1M227.5 22v1M227.5 23v1M229.5 26v1M230.5 17v1M230.5 21v1M231.5 14v1M232.5 16v1M232.5 18v1M232.5 22v1M232.5 29v1M233.5 9v1M233.5 11v1M233.5 13v1M233.5 14v1M233.5 18v1M233.5 19v1M234.5 4v1M234.5 7v1M234.5 17v1M234.5 19v1M234.5 24v1M235.5 15v1M235.5 20v1M236.5 0v1M236.5 5v1M236.5 28v1M236.5 29v1M237.5 5v1M237.5 8v1M237.5 19v1M238.5 29v1M239.5 4v1M239.5 7v1M240.5 6v1M240.5 18v1M240.5 28v1M241.5 7v1M241.5 18v1M242.5 3v1M242.5 23v1M243.5 14v1M245.5 3v1M245.5 23v1M246.5 15v1M246.5 20v1M246.5 24v1M246.5 25v1M247.5 20v1M247.5 22v1M247.5 25v1M247.5 26v1M250.5 7v1M250.5 16v1M250.5 17v1M251.5 0v1M251.5 4v1M251.5 26v1M252.5 15v1M252.5 17v1M252.5 27v1M252.5 29v1M253.5 22v1M254.5 20v1M254.5 28v1M255.5 0v1M255.5 10v1M255.5 15v1M255.5 27v1M255.5 29v1M256.5 10v1M256.5 12v1M257.5 4v1M257.5 11v1M257.5 22v1M258.5 7v1M258.5 25v1M258.5 26v1M258.5 28v1M259.5 13v1M259.5 15v1M259.5 17v1M259.5 22v1M259.5 25v1M260.5 16v1M260.5 24v1M260.5 27v1M261.5 18v1M261.5 21v1M261.5 26v1M261.5 29v1M262.5 25v1M263.5 3v1M263.5 10v1M263.5 12v1M263.5 13v1M264.5 15v1M264.5 25v1M266.5 2v1M266.5 5v1M266.5 7v1M266.5 12v1M266.5 19v1M266.5 29v1M267.5 11v1M267.5 12v1M267.5 23v1M269.5 26v1M270.5 16v1M270.5 18v1M270.5 19v1M270.5 28v1M271.5 15v1M271.5 25v1M271.5 28v1M272.5 15v1M273.5 16v1M273.5 20v1M273.5 22v1M273.5 28v1M273.5 29v1M274.5 14v1M274.5 15v1M274.5 17v1M274.5 19v1M274.5 26v1M276.5 3v1M276.5 21v1M276.5 22v1M276.5 29v1M277.5 25v1M278.5 16v1M278.5 21v1M278.5 22v1M278.5 25v1M279.5 17v1M279.5 27v1M281.5 29v1M282.5 1v1M283.5 2v1M283.5 15v1M283.5 27v1M284.5 18v1M284.5 21v1M284.5 23v1M284.5 26v1M284.5 27v1M284.5 29v1M285.5 26v1M286.5 3v1M286.5 23v1M286.5 29v1M287.5 20v1M287.5 26v1M287.5 27v1M287.5 29v1M289.5 4v1M289.5 25v1M290.5 18v1M290.5 22v1M290.5 27v1M290.5 28v1M291.5 6v1M291.5 12v1M291.5 29v1M292.5 29v1M293.5 5v1M293.5 28v1M294.5 1v1M294.5 2v1M294.5 22v1M294.5 28v1M295.5 25v1M295.5 29v1M296.5 7v1M296.5 14v1M296.5 19v1M296.5 23v1M297.5 17v1M298.5 26v1M299.5 8v1M299.5 12v1M300.5 6v1M300.5 12v1M300.5 24v1M301.5 28v1M302.5 17v1M302.5 18v1M302.5 22v1M303.5 7v1M303.5 20v1M303.5 26v1M303.5 27v1M303.5 28v1M304.5 14v1M305.5 16v1M305.5 19v1M305.5 20v1M305.5 21v1M306.5 10v1M306.5 19v1M306.5 25v1M307.5 0v1M307.5 1v1M307.5 5v1M307.5 24v1M308.5 21v1M309.5 15v1M309.5 18v1M309.5 26v1M310.5 11v1M310.5 13v1M310.5 23v1M310.5 28v1M311.5 13v1M312.5 2v1M312.5 24v1M312.5 27v1M313.5 29v1M314.5 21v1M314.5 28v1M315.5 3v1M315.5 15v1M315.5 16v1M315.5 18v1M315.5 19v1M315.5 24v1M316.5 15v1M316.5 26v1M316.5 27v1M316.5 29v1M317.5 20v1M317.5 22v1M317.5 28v1M319.5 20v1M320.5 0v1M320.5 26v1M321.5 11v1M321.5 16v1M321.5 22v1M321.5 29v1M322.5 23v1M322.5 26v1M322.5 28v1M323.5 15v1M323.5 22v1M323.5 28v1M323.5 29v1M324.5 23v1M325.5 27v1M326.5 8v1M326.5 11v1M326.5 13v1M326.5 14v1M327.5 7v1M327.5 17v1M327.5 22v1M327.5 28v1M328.5 17v1M328.5 28v1M330.5 16v1M330.5 17v1M330.5 20v1M330.5 23v1M331.5 5v1M331.5 17v1M331.5 20v1M332.5 23v1M334.5 23v1M334.5 24v1M334.5 26v1M335.5 0v1M335.5 27v1M335.5 29v1M336.5 16v1M337.5 4v1M337.5 17v1M337.5 27v1M338.5 25v1M340.5 6v1M340.5 18v1M340.5 25v1M340.5 28v1M341.5 27v1M342.5 16v1M342.5 20v1M342.5 21v1M343.5 0v1M343.5 1v1M345.5 16v1M345.5 18v1M345.5 22v1M345.5 26v1M346.5 9v1M346.5 15v1M346.5 18v1M346.5 29v1M347.5 24v1M348.5 4v1M349.5 3v1M349.5 23v1M350.5 14v1M350.5 22v1M352.5 19v1M352.5 20v1M352.5 28v1M353.5 15v1M353.5 17v1M353.5 19v1M353.5 24v1M353.5 27v1M354.5 14v1M354.5 23v1M354.5 28v1M356.5 18v1M357.5 15v1M357.5 22v1M357.5 23v1M357.5 28v1M357.5 29v1M359.5 11v1M359.5 28v1M360.5 18v1M360.5 24v1M360.5 27v1M362.5 26v1M363.5 10v1M363.5 15v1M363.5 17v1M363.5 21v1M363.5 25v1M363.5 27v1M365.5 5v1M365.5 17v1M366.5 17v1M366.5 19v1M366.5 25v1M367.5 18v1M367.5 21v1M368.5 21v1M368.5 22v1M368.5 24v1M369.5 20v1M369.5 28v1"/>
<path stroke="#470f0f" d="M0.5 7v1M0.5 12v1M1.5 12v1M2.5 11v1M4.5 9v1M5.5 1v1M5.5 23v1M5.5 26v1M6.5 9v1M8.5 4v1M9.5 6v1M9.5 25v1M10.5 11v1M13.5 3v1M15.5 10v1M16.5 1v1M16.5 7v1M17.5 4v1M17.5 6v1M18.5 9v1M19.5 1v1M20.5 8v1M20.5 11v1M20.5 15v1M22.5 8v1M22.5 11v1M22.5 13v1M23.5 2v1M26.5 10v1M28.5 5v1M30.5 12v1M32.5 2v1M32.5 10v1M32.5 17v1M33.5 4v1M33.5 10v1M33.5 12v1M34.5 7v1M35.5 0v1M35.5 1v1M35.5 6v1M35.5 29v1M36.5 1v1M36.5 3v1M36.5 4v1M37.5 9v1M38.5 5v1M41.5 1v1M41.5 3v1M41.5 11v1M42.5 8v1M43.5 3v1M43.5 8v1M45.5 9v1M45.5 11v1M46.5 7v1M46.5 8v1M46.5 13v1M46.5 19v1M48.5 0v1M48.5 1v1M49.5 17v1M50.5 11v1M50.5 13v1M52.5 8v1M52.5 23v1M53.5 13v1M54.5 1v1M54.5 2v1M55.5 14v1M56.5 14v1M57.5 7v1M57.5 13v1M58.5 6v1M58.5 7v1M59.5 0v1M59.5 1v1M59.5 12v1M61.5 2v1M61.5 4v1M61.5 21v1M63.5 9v1M63.5 11v1M64.5 3v1M65.5 0v1M65.5 23v1M65.5 24v1M66.5 12v1M67.5 0v1M67.5 15v1M67.5 18v1M68.5 1v1M68.5 4v1M68.5 21v1M69.5 1v1M69.5 5v1M69.5 6v1M70.5 6v1M70.5 9v1M71.5 7v1M72.5 26v1M73.5 21v1M73.5 22v1M73.5 28v1M74.5 9v1M74.5 10v1M75.5 2v1M75.5 5v1M75.5 11v1M75.5 28v1M76.5 4v1M76.5 23v1M77.5 1v1M77.5 9v1M77.5 11v1M78.5 0v1M78.5 4v1M78.5 8v1M78.5 9v1M79.5 4v1M79.5 12v1M80.5 9v1M81.5 5v1M82.5 9v1M83.5 10v1M83.5 11v1M84.5 9v1M87.5 3v1M87.5 29v1M88.5 0v1M88.5 9v1M89.5 0v1M89.5 4v1M90.5 17v1M90.5 29v1M91.5 4v1M91.5 20v1M92.5 11v1M92.5 12v1M92.5 14v1M92.5 15v1M93.5 7v1M94.5 4v1M94.5 12v1M95.5 1v1M95.5 8v1M95.5 13v1M96.5 9v1M96.5 27v1M98.5 0v1M98.5 2v1M98.5 5v1M98.5 13v1M98.5 28v1M99.5 2v1M99.5 20v1M100.5 6v1M100.5 8v1M100.5 13v1M101.5 1v1M101.5 3v1M102.5 0v1M102.5 13v1M103.5 1v1M103.5 3v1M103.5 23v1M104.5 12v1M104.5 29v1M106.5 8v1M106.5 11v1M108.5 22v1M108.5 23v1M109.5 11v1M109.5 25v1M110.5 14v1M111.5 29v1M112.5 29v1M114.5 2v1M114.5 11v1M114.5 17v1M114.5 26v1M115.5 6v1M116.5 5v1M116.5 8v1M116.5 11v1M117.5 24v1M118.5 9v1M118.5 11v1M121.5 0v1M122.5 0v1M122.5 7v1M124.5 23v1M125.5 18v1M125.5 20v1M126.5 11v1M126.5 23v1M128.5 15v1M130.5 4v1M130.5 23v1M131.5 23v1M132.5 7v1M133.5 13v1M133.5 28v1M134.5 4v1M134.5 27v1M136.5 14v1M138.5 10v1M138.5 11v1M138.5 20v1M138.5 22v1M138.5 24v1M139.5 2v1M139.5 12v1M143.5 26v1M144.5 8v1M144.5 18v1M145.5 19v1M145.5 23v1M147.5 8v1M147.5 12v1M147.5 29v1M148.5 20v1M148.5 29v1M152.5 0v1M152.5 4v1M152.5 8v1M152.5 9v1M152.5 12v1M153.5 0v1M154.5 18v1M154.5 23v1M155.5 12v1M155.5 19v1M155.5 23v1M156.5 24v1M156.5 27v1M158.5 24v1M159.5 0v1M159.5 7v1M159.5 23v1M159.5 28v1M160.5 4v1M160.5 10v1M160.5 11v1M161.5 15v1M161.5 19v1M161.5 26v1M161.5 29v1M162.5 6v1M162.5 12v1M163.5 5v1M163.5 8v1M164.5 4v1M164.5 8v1M164.5 11v1M165.5 12v1M165.5 13v1M165.5 14v1M166.5 19v1M167.5 14v1M167.5 15v1M167.5 23v1M167.5 29v1M168.5 13v1M168.5 23v1M169.5 12v1M170.5 8v1M170.5 10v1M170.5 11v1M172.5 11v1M172.5 19v1M173.5 17v1M173.5 18v1M173.5 28v1M174.5 17v1M174.5 28v1M175.5 16v1M175.5 19v1M175.5 24v1M177.5 11v1M178.5 20v1M178.5 23v1M179.5 6v1M179.5 7v1M179.5 20v1M179.5 29v1M180.5 14v1M180.5 16v1M180.5 26v1M181.5 26v1M182.5 24v1M183.5 4v1M183.5 10v1M183.5 14v1M184.5 0v1M184.5 8v1M185.5 3v1M185.5 5v1M185.5 26v1M185.5 29v1M186.5 0v1M186.5 5v1M186.5 13v1M187.5 17v1M187.5 22v1M187.5 26v1M187.5 29v1M188.5 7v1M189.5 5v1M190.5 14v1M191.5 8v1M191.5 17v1M192.5 11v1M192.5 20v1M192.5 23v1M193.5 4v1M193.5 6v1M193.5 11v1M193.5 17v1M193.5 23v1M193.5 29v1M194.5 27v1M195.5 24v1M195.5 26v1M196.5 22v1M196.5 27v1M197.5 0v1M197.5 14v1M197.5 18v1M197.5 27v1M198.5 17v1M198.5 19v1M198.5 25v1M198.5 29v1M199.5 22v1M199.5 29v1M200.5 24v1M201.5 1v1M201.5 12v1M201.5 13v1M201.5 27v1M202.5 0v1M202.5 6v1M202.5 22v1M203.5 18v1M204.5 1v1M204.5 8v1M204.5 17v1M205.5 26v1M205.5 27v1M206.5 6v1M206.5 8v1M207.5 7v1M207.5 11v1M207.5 27v1M208.5 19v1M208.5 21v1M208.5 27v1M209.5 0v1M210.5 17v1M211.5 21v1M211.5 22v1M211.5 29v1M212.5 24v1M213.5 4v1M213.5 12v1M214.5 27v1M215.5 11v1M215.5 20v1M215.5 26v1M215.5 27v1M215.5 28v1M216.5 23v1M216.5 26v1M217.5 5v1M218.5 6v1M218.5 10v1M219.5 17v1M220.5 4v1M220.5 22v1M221.5 19v1M222.5 9v1M222.5 14v1M222.5 23v1M223.5 23v1M224.5 10v1M224.5 19v1M224.5 23v1M224.5 25v1M226.5 22v1M227.5 19v1M228.5 2v1M228.5 7v1M228.5 11v1M228.5 25v1M228.5 29v1M229.5 22v1M230.5 18v1M230.5 27v1M231.5 15v1M231.5 19v1M232.5 20v1M232.5 25v1M233.5 3v1M233.5 16v1M234.5 15v1M236.5 11v1M236.5 17v1M238.5 27v1M239.5 13v1M240.5 7v1M240.5 17v1M240.5 27v1M241.5 22v1M241.5 26v1M242.5 1v1M242.5 2v1M242.5 7v1M242.5 10v1M242.5 14v1M243.5 9v1M243.5 10v1M244.5 24v1M244.5 28v1M245.5 14v1M247.5 16v1M247.5 18v1M247.5 27v1M247.5 28v1M248.5 10v1M248.5 17v1M248.5 18v1M250.5 22v1M250.5 27v1M250.5 28v1M250.5 29v1M251.5 23v1M251.5 28v1M252.5 26v1M253.5 27v1M253.5 29v1M254.5 19v1M254.5 25v1M255.5 14v1M255.5 20v1M256.5 8v1M257.5 10v1M257.5 16v1M257.5 27v1M257.5 28v1M258.5 8v1M260.5 19v1M260.5 20v1M261.5 16v1M261.5 20v1M261.5 25v1M262.5 29v1M263.5 1v1M263.5 7v1M263.5 16v1M263.5 17v1M263.5 27v1M264.5 16v1M264.5 18v1M264.5 20v1M265.5 0v1M265.5 26v1M267.5 28v1M269.5 23v1M269.5 24v1M270.5 20v1M270.5 29v1M271.5 16v1M271.5 23v1M272.5 17v1M272.5 18v1M272.5 20v1M272.5 21v1M273.5 5v1M273.5 23v1M273.5 27v1M275.5 8v1M275.5 11v1M275.5 17v1M275.5 29v1M276.5 15v1M276.5 27v1M277.5 16v1M277.5 17v1M278.5 18v1M278.5 20v1M280.5 18v1M281.5 19v1M281.5 28v1M282.5 21v1M283.5 19v1M284.5 22v1M284.5 28v1M285.5 20v1M285.5 21v1M286.5 6v1M286.5 19v1M286.5 24v1M287.5 12v1M287.5 15v1M287.5 18v1M289.5 19v1M290.5 12v1M290.5 14v1M290.5 23v1M290.5 29v1M291.5 19v1M291.5 24v1M291.5 27v1M291.5 28v1M292.5 8v1M292.5 10v1M293.5 19v1M294.5 11v1M294.5 27v1M296.5 12v1M296.5 28v1M297.5 14v1M297.5 23v1M297.5 28v1M298.5 7v1M298.5 16v1M298.5 19v1M298.5 28v1M299.5 19v1M299.5 21v1M299.5 29v1M300.5 1v1M300.5 19v1M300.5 25v1M301.5 14v1M301.5 23v1M305.5 22v1M305.5 25v1M306.5 20v1M306.5 24v1M307.5 6v1M307.5 10v1M308.5 15v1M308.5 18v1M309.5 13v1M309.5 24v1M311.5 15v1M312.5 15v1M312.5 20v1M313.5 10v1M313.5 23v1M314.5 26v1M314.5 27v1M315.5 26v1M316.5 19v1M316.5 22v1M316.5 23v1M317.5 24v1M318.5 18v1M318.5 26v1M318.5 27v1M318.5 29v1M320.5 13v1M320.5 22v1M320.5 23v1M320.5 25v1M321.5 5v1M321.5 27v1M322.5 19v1M322.5 27v1M322.5 29v1M324.5 18v1M324.5 19v1M324.5 27v1M325.5 16v1M325.5 20v1M326.5 6v1M326.5 23v1M327.5 19v1M327.5 27v1M329.5 16v1M330.5 7v1M330.5 27v1M331.5 22v1M331.5 25v1M331.5 28v1M333.5 7v1M333.5 23v1M334.5 19v1M334.5 25v1M334.5 28v1M335.5 14v1M335.5 15v1M335.5 16v1M335.5 26v1M336.5 26v1M337.5 23v1M338.5 17v1M338.5 28v1M339.5 20v1M339.5 22v1M339.5 24v1M339.5 29v1M340.5 23v1M340.5 24v1M341.5 7v1M341.5 17v1M343.5 15v1M343.5 18v1M343.5 22v1M343.5 26v1M343.5 29v1M344.5 11v1M344.5 13v1M344.5 15v1M345.5 19v1M345.5 28v1M345.5 29v1M346.5 26v1M349.5 17v1M349.5 24v1M350.5 23v1M351.5 25v1M352.5 4v1M354.5 15v1M354.5 19v1M355.5 18v1M356.5 22v1M356.5 25v1M357.5 17v1M359.5 3v1M359.5 17v1M359.5 21v1M359.5 22v1M359.5 25v1M360.5 25v1M360.5 29v1M361.5 23v1M362.5 18v1M362.5 22v1M363.5 16v1M364.5 21v1M365.5 0v1M365.5 11v1M365.5 19v1M366.5 22v1M366.5 24v1M366.5 29v1M367.5 16v1M367.5 22v1M367.5 27v1M368.5 29v1M369.5 4v1M369.5 18v1M369.5 19v1M369.5 27v1"/>
<path stroke="#591011" d="M0.5 4v1M0.5 10v1M1.5 2v1M2.5 6v1M2.5 7v1M3.5 17v1M4.5 12v1M5.5 2v1M5.5 9v1M5.5 12v1M6.5 7v1M6.5 10v1M7.5 3v1M8.5 0v1M9.5 0v1M9.5 3v1M9.5 11v1M9.5 14v1M10.5 2v1M10.5 5v1M10.5 9v1M10.5 10v1M10.5 12v1M11.5 14v1M12.5 19v1M12.5 26v1M13.5 13v1M13.5 14v1M14.5 13v1M15.5 3v1M15.5 19v1M17.5 10v1M17.5 12v1M18.5 13v1M19.5 4v1M19.5 9v1M19.5 11v1M22.5 4v1M22.5 9v1M22.5 10v1M22.5 15v1M23.5 9v1M23.5 10v1M23.5 12v1M24.5 1v1M24.5 11v1M25.5 8v1M25.5 10v1M26.5 4v1M26.5 9v1M27.5 10v1M28.5 14v1M29.5 6v1M31.5 9v1M32.5 4v1M33.5 5v1M34.5 6v1M35.5 4v1M35.5 11v1M36.5 2v1M36.5 11v1M37.5 7v1M39.5 11v1M39.5 13v1M40.5 0v1M40.5 7v1M42.5 5v1M44.5 7v1M46.5 0v1M46.5 4v1M46.5 16v1M46.5 29v1M47.5 6v1M47.5 11v1M48.5 4v1M48.5 10v1M50.5 6v1M52.5 0v1M53.5 0v1M54.5 4v1M57.5 16v1M58.5 13v1M59.5 13v1M59.5 15v1M60.5 10v1M61.5 5v1M61.5 12v1M61.5 19v1M63.5 8v1M63.5 22v1M64.5 23v1M65.5 3v1M66.5 0v1M66.5 2v1M66.5 4v1M66.5 9v1M67.5 19v1M68.5 6v1M68.5 12v1M68.5 19v1M69.5 14v1M70.5 3v1M70.5 13v1M71.5 14v1M72.5 17v1M72.5 18v1M72.5 24v1M73.5 3v1M74.5 8v1M74.5 13v1M74.5 14v1M74.5 17v1M74.5 29v1M75.5 14v1M75.5 19v1M76.5 3v1M77.5 4v1M77.5 6v1M78.5 6v1M78.5 12v1M79.5 5v1M79.5 8v1M80.5 0v1M80.5 2v1M80.5 8v1M80.5 12v1M81.5 0v1M81.5 1v1M81.5 2v1M82.5 23v1M83.5 0v1M83.5 1v1M83.5 9v1M83.5 29v1M85.5 14v1M85.5 19v1M86.5 6v1M87.5 5v1M88.5 4v1M88.5 12v1M89.5 1v1M91.5 1v1M91.5 13v1M92.5 2v1M93.5 0v1M93.5 17v1M93.5 23v1M93.5 27v1M95.5 23v1M96.5 4v1M96.5 7v1M96.5 8v1M96.5 11v1M96.5 29v1M97.5 1v1M97.5 9v1M98.5 4v1M98.5 12v1M99.5 6v1M99.5 13v1M100.5 2v1M100.5 11v1M100.5 20v1M102.5 12v1M103.5 0v1M103.5 2v1M104.5 5v1M104.5 11v1M104.5 27v1M104.5 28v1M106.5 4v1M107.5 11v1M108.5 17v1M109.5 2v1M111.5 14v1M111.5 18v1M112.5 7v1M112.5 20v1M114.5 15v1M115.5 14v1M115.5 17v1M117.5 17v1M118.5 2v1M118.5 6v1M118.5 25v1M119.5 12v1M119.5 20v1M119.5 24v1M119.5 26v1M119.5 28v1M122.5 8v1M122.5 11v1M124.5 17v1M125.5 5v1M125.5 13v1M125.5 14v1M127.5 25v1M128.5 17v1M130.5 2v1M131.5 7v1M131.5 14v1M131.5 28v1M132.5 26v1M134.5 7v1M136.5 5v1M136.5 19v1M137.5 22v1M137.5 28v1M141.5 10v1M142.5 0v1M142.5 2v1M142.5 4v1M142.5 11v1M142.5 13v1M143.5 19v1M143.5 23v1M145.5 3v1M145.5 7v1M145.5 9v1M145.5 10v1M146.5 3v1M146.5 14v1M148.5 19v1M149.5 10v1M150.5 20v1M152.5 2v1M152.5 6v1M152.5 14v1M153.5 17v1M155.5 21v1M156.5 14v1M156.5 29v1M157.5 23v1M158.5 17v1M158.5 18v1M158.5 26v1M159.5 3v1M159.5 17v1M162.5 14v1M163.5 10v1M165.5 6v1M166.5 24v1M166.5 27v1M168.5 27v1M169.5 20v1M171.5 26v1M171.5 28v1M172.5 27v1M175.5 7v1M175.5 23v1M175.5 28v1M175.5 29v1M177.5 1v1M177.5 8v1M177.5 19v1M180.5 21v1M181.5 6v1M181.5 11v1M181.5 27v1M182.5 3v1M182.5 18v1M183.5 1v1M183.5 11v1M183.5 27v1M186.5 6v1M186.5 10v1M186.5 11v1M187.5 10v1M187.5 19v1M187.5 23v1M188.5 11v1M190.5 23v1M194.5 20v1M194.5 25v1M195.5 18v1M195.5 25v1M195.5 28v1M196.5 16v1M196.5 20v1M199.5 19v1M199.5 25v1M200.5 7v1M200.5 10v1M200.5 12v1M203.5 6v1M203.5 17v1M203.5 26v1M203.5 27v1M204.5 14v1M205.5 18v1M205.5 19v1M205.5 24v1M206.5 2v1M206.5 12v1M206.5 23v1M207.5 24v1M208.5 11v1M208.5 25v1M210.5 26v1M211.5 24v1M213.5 7v1M214.5 23v1M214.5 24v1M217.5 13v1M217.5 15v1M218.5 11v1M220.5 6v1M221.5 1v1M223.5 17v1M224.5 27v1M226.5 15v1M229.5 17v1M229.5 24v1M230.5 22v1M233.5 5v1M233.5 24v1M233.5 25v1M235.5 26v1M237.5 20v1M239.5 8v1M239.5 10v1M240.5 26v1M243.5 13v1M244.5 17v1M244.5 19v1M244.5 20v1M244.5 22v1M244.5 29v1M245.5 7v1M245.5 20v1M245.5 24v1M246.5 18v1M246.5 26v1M246.5 27v1M247.5 15v1M248.5 16v1M248.5 24v1M249.5 1v1M250.5 21v1M251.5 19v1M251.5 25v1M251.5 29v1M253.5 23v1M254.5 13v1M254.5 17v1M254.5 24v1M254.5 26v1M255.5 11v1M255.5 19v1M255.5 23v1M257.5 29v1M258.5 10v1M260.5 11v1M260.5 26v1M260.5 28v1M261.5 28v1M262.5 19v1M262.5 27v1M263.5 8v1M263.5 19v1M264.5 22v1M264.5 26v1M265.5 19v1M268.5 18v1M268.5 23v1M270.5 21v1M271.5 17v1M271.5 19v1M271.5 26v1M273.5 13v1M273.5 15v1M273.5 19v1M274.5 23v1M275.5 20v1M275.5 28v1M277.5 15v1M277.5 18v1M277.5 19v1M279.5 18v1M280.5 17v1M280.5 19v1M280.5 29v1M282.5 19v1M282.5 29v1M285.5 18v1M285.5 27v1M286.5 20v1M287.5 16v1M287.5 28v1M289.5 15v1M289.5 26v1M289.5 29v1M290.5 5v1M290.5 24v1M291.5 20v1M292.5 12v1M293.5 24v1M293.5 26v1M294.5 10v1M294.5 19v1M295.5 8v1M295.5 19v1M296.5 27v1M297.5 12v1M298.5 27v1M299.5 16v1M299.5 18v1M299.5 26v1M299.5 27v1M300.5 14v1M300.5 15v1M302.5 28v1M303.5 16v1M303.5 22v1M303.5 24v1M304.5 3v1M305.5 24v1M305.5 26v1M306.5 5v1M306.5 12v1M306.5 23v1M307.5 25v1M308.5 16v1M308.5 17v1M308.5 26v1M308.5 28v1M309.5 28v1M310.5 3v1M310.5 12v1M310.5 29v1M311.5 18v1M311.5 24v1M311.5 28v1M312.5 9v1M312.5 28v1M314.5 22v1M314.5 24v1M315.5 23v1M315.5 28v1M316.5 28v1M317.5 5v1M317.5 29v1M318.5 19v1M319.5 25v1M320.5 27v1M320.5 29v1M321.5 17v1M321.5 18v1M321.5 24v1M323.5 5v1M323.5 27v1M324.5 29v1M325.5 17v1M325.5 18v1M325.5 22v1M325.5 25v1M325.5 28v1M325.5 29v1M326.5 3v1M326.5 4v1M328.5 10v1M329.5 17v1M330.5 28v1M332.5 12v1M332.5 25v1M333.5 15v1M333.5 29v1M334.5 18v1M335.5 17v1M335.5 23v1M336.5 15v1M336.5 22v1M336.5 25v1M336.5 27v1M336.5 29v1M337.5 19v1M338.5 14v1M339.5 21v1M339.5 25v1M339.5 28v1M341.5 10v1M341.5 19v1M342.5 19v1M342.5 22v1M342.5 26v1M343.5 21v1M344.5 23v1M344.5 29v1M345.5 23v1M345.5 27v1M346.5 19v1M346.5 24v1M346.5 27v1M347.5 19v1M347.5 22v1M347.5 28v1M348.5 7v1M349.5 19v1M350.5 16v1M350.5 17v1M350.5 18v1M350.5 24v1M351.5 16v1M351.5 17v1M351.5 22v1M351.5 28v1M352.5 3v1M354.5 21v1M355.5 23v1M356.5 17v1M356.5 20v1M356.5 23v1M356.5 26v1M357.5 19v1M358.5 25v1M359.5 15v1M359.5 19v1M359.5 24v1M359.5 26v1M360.5 17v1M360.5 22v1M362.5 15v1M363.5 19v1M363.5 28v1M363.5 29v1M364.5 24v1M364.5 26v1M364.5 29v1M367.5 23v1M367.5 29v1M368.5 15v1M368.5 20v1M368.5 26v1M369.5 24v1"/>
<path stroke="#6b1112" d="M0.5 8v1M1.5 11v1M2.5 1v1M2.5 10v1M2.5 12v1M2.5 13v1M3.5 11v1M4.5 0v1M4.5 13v1M5.5 0v1M5.5 4v1M5.5 6v1M6.5 12v1M8.5 6v1M9.5 2v1M9.5 9v1M9.5 15v1M11.5 3v1M11.5 7v1M11.5 9v1M11.5 11v1M12.5 3v1M12.5 5v1M12.5 8v1M12.5 25v1M13.5 2v1M15.5 2v1M15.5 4v1M15.5 12v1M15.5 13v1M16.5 26v1M18.5 7v1M18.5 10v1M21.5 4v1M21.5 5v1M21.5 11v1M21.5 14v1M23.5 0v1M23.5 14v1M24.5 3v1M24.5 4v1M24.5 6v1M24.5 8v1M25.5 4v1M26.5 2v1M26.5 3v1M28.5 1v1M28.5 11v1M29.5 0v1M30.5 14v1M31.5 6v1M32.5 3v1M32.5 7v1M32.5 27v1M33.5 3v1M34.5 2v1M34.5 3v1M34.5 12v1M35.5 2v1M35.5 5v1M35.5 9v1M35.5 13v1M36.5 12v1M37.5 3v1M40.5 24v1M41.5 13v1M42.5 9v1M42.5 10v1M43.5 1v1M44.5 1v1M44.5 12v1M44.5 20v1M45.5 8v1M46.5 1v1M46.5 17v1M46.5 28v1M47.5 5v1M47.5 14v1M48.5 7v1M49.5 0v1M49.5 5v1M49.5 11v1M50.5 2v1M50.5 9v1M50.5 12v1M51.5 8v1M51.5 10v1M53.5 1v1M53.5 4v1M53.5 6v1M55.5 3v1M55.5 9v1M55.5 11v1M56.5 2v1M56.5 5v1M56.5 9v1M57.5 11v1M58.5 0v1M59.5 20v1M59.5 28v1M60.5 7v1M60.5 8v1M61.5 1v1M61.5 3v1M61.5 10v1M61.5 11v1M62.5 3v1M62.5 6v1M63.5 0v1M63.5 3v1M63.5 23v1M64.5 2v1M64.5 6v1M64.5 11v1M65.5 13v1M66.5 11v1M67.5 7v1M67.5 16v1M67.5 24v1M68.5 10v1M69.5 2v1M69.5 10v1M69.5 11v1M69.5 13v1M70.5 0v1M71.5 9v1M72.5 7v1M72.5 10v1M73.5 1v1M73.5 29v1M74.5 3v1M75.5 3v1M75.5 7v1M75.5 13v1M77.5 2v1M79.5 13v1M79.5 14v1M80.5 5v1M80.5 11v1M81.5 8v1M82.5 12v1M83.5 5v1M83.5 19v1M85.5 13v1M87.5 0v1M88.5 3v1M88.5 13v1M89.5 3v1M89.5 8v1M90.5 19v1M91.5 11v1M91.5 14v1M92.5 7v1M93.5 22v1M94.5 2v1M95.5 3v1M95.5 7v1M95.5 12v1M95.5 17v1M96.5 14v1M97.5 4v1M97.5 13v1M98.5 8v1M98.5 10v1M98.5 19v1M100.5 9v1M101.5 2v1M101.5 4v1M101.5 9v1M101.5 29v1M102.5 10v1M103.5 4v1M103.5 10v1M104.5 25v1M106.5 14v1M107.5 7v1M108.5 5v1M109.5 10v1M110.5 2v1M110.5 12v1M114.5 19v1M115.5 29v1M117.5 14v1M117.5 15v1M118.5 8v1M120.5 28v1M122.5 9v1M124.5 27v1M126.5 1v1M126.5 8v1M130.5 10v1M133.5 12v1M133.5 23v1M134.5 10v1M134.5 11v1M135.5 7v1M136.5 29v1M137.5 16v1M138.5 12v1M143.5 24v1M143.5 28v1M144.5 28v1M144.5 29v1M146.5 8v1M146.5 15v1M148.5 27v1M149.5 9v1M149.5 15v1M150.5 23v1M153.5 6v1M153.5 13v1M155.5 5v1M155.5 29v1M159.5 20v1M160.5 14v1M161.5 18v1M166.5 17v1M169.5 0v1M169.5 19v1M170.5 9v1M171.5 15v1M171.5 18v1M171.5 19v1M171.5 20v1M171.5 22v1M171.5 24v1M171.5 29v1M173.5 24v1M174.5 27v1M176.5 15v1M177.5 7v1M178.5 2v1M182.5 14v1M183.5 16v1M183.5 23v1M184.5 3v1M186.5 4v1M186.5 9v1M187.5 27v1M188.5 15v1M190.5 1v1M192.5 4v1M194.5 17v1M194.5 19v1M197.5 23v1M198.5 14v1M198.5 28v1M202.5 14v1M203.5 23v1M205.5 29v1M207.5 3v1M207.5 21v1M208.5 23v1M208.5 24v1M209.5 1v1M209.5 6v1M211.5 23v1M212.5 25v1M213.5 10v1M215.5 23v1M215.5 29v1M216.5 6v1M217.5 29v1M218.5 5v1M219.5 20v1M219.5 23v1M219.5 28v1M220.5 10v1M221.5 13v1M225.5 7v1M226.5 17v1M227.5 24v1M228.5 9v1M229.5 23v1M229.5 28v1M230.5 19v1M230.5 24v1M230.5 28v1M232.5 23v1M232.5 24v1M236.5 23v1M239.5 11v1M239.5 17v1M239.5 23v1M240.5 25v1M243.5 29v1M245.5 12v1M246.5 29v1M247.5 14v1M248.5 20v1M248.5 28v1M248.5 29v1M250.5 23v1M252.5 22v1M257.5 15v1M260.5 7v1M260.5 29v1M261.5 24v1M261.5 27v1M262.5 23v1M263.5 23v1M264.5 28v1M265.5 11v1M265.5 17v1M265.5 18v1M265.5 23v1M265.5 28v1M266.5 25v1M268.5 2v1M268.5 19v1M268.5 27v1M269.5 29v1M272.5 19v1M272.5 22v1M272.5 23v1M273.5 24v1M275.5 15v1M275.5 21v1M275.5 22v1M275.5 27v1M276.5 28v1M277.5 29v1M278.5 19v1M278.5 26v1M279.5 23v1M280.5 20v1M280.5 23v1M280.5 28v1M281.5 25v1M282.5 26v1M285.5 22v1M286.5 5v1M287.5 23v1M288.5 19v1M288.5 25v1M288.5 26v1M289.5 20v1M289.5 28v1M290.5 17v1M291.5 22v1M291.5 23v1M292.5 13v1M293.5 23v1M295.5 17v1M295.5 24v1M295.5 26v1M296.5 17v1M297.5 20v1M297.5 27v1M299.5 15v1M299.5 25v1M303.5 3v1M303.5 17v1M303.5 19v1M303.5 29v1M304.5 2v1M304.5 5v1M305.5 28v1M306.5 7v1M306.5 17v1M306.5 21v1M306.5 28v1M308.5 11v1M308.5 22v1M308.5 27v1M309.5 19v1M311.5 29v1M312.5 19v1M312.5 23v1M314.5 15v1M314.5 16v1M315.5 29v1M317.5 6v1M317.5 21v1M320.5 19v1M320.5 20v1M324.5 16v1M325.5 23v1M326.5 17v1M327.5 26v1M328.5 16v1M328.5 19v1M329.5 15v1M329.5 26v1M330.5 6v1M332.5 10v1M333.5 28v1M334.5 27v1M335.5 19v1M336.5 18v1M336.5 20v1M338.5 4v1M339.5 15v1M339.5 26v1M339.5 27v1M340.5 12v1M340.5 20v1M342.5 15v1M342.5 17v1M342.5 24v1M342.5 27v1M343.5 19v1M343.5 20v1M344.5 17v1M346.5 2v1M348.5 1v1M349.5 7v1M351.5 18v1M351.5 24v1M351.5 26v1M351.5 29v1M354.5 27v1M356.5 19v1M356.5 28v1M356.5 29v1M358.5 15v1M358.5 17v1M358.5 19v1M359.5 29v1M361.5 17v1M361.5 24v1M361.5 26v1M364.5 11v1M365.5 22v1M365.5 23v1M365.5 27v1M368.5 19v1M369.5 29v1"/>
<path stroke="#7e1214" d="M0.5 2v1M0.5 3v1M2.5 3v1M2.5 4v1M3.5 3v1M4.5 17v1M6.5 2v1M7.5 4v1M7.5 5v1M7.5 11v1M8.5 5v1M8.5 9v1M8.5 10v1M8.5 13v1M9.5 7v1M10.5 8v1M11.5 2v1M11.5 6v1M11.5 12v1M12.5 6v1M12.5 10v1M13.5 10v1M13.5 11v1M14.5 1v1M14.5 11v1M15.5 1v1M15.5 9v1M16.5 3v1M16.5 13v1M17.5 0v1M17.5 9v1M17.5 13v1M18.5 1v1M18.5 3v1M18.5 5v1M19.5 0v1M21.5 7v1M22.5 14v1M23.5 6v1M24.5 2v1M24.5 12v1M25.5 0v1M25.5 1v1M25.5 7v1M28.5 2v1M28.5 8v1M28.5 12v1M29.5 8v1M29.5 11v1M30.5 11v1M31.5 4v1M31.5 11v1M32.5 9v1M32.5 12v1M33.5 8v1M33.5 13v1M34.5 9v1M35.5 7v1M37.5 4v1M37.5 8v1M38.5 2v1M38.5 13v1M38.5 14v1M39.5 9v1M39.5 10v1M40.5 9v1M40.5 11v1M41.5 10v1M43.5 4v1M43.5 7v1M44.5 0v1M44.5 6v1M46.5 3v1M46.5 27v1M47.5 13v1M48.5 6v1M48.5 14v1M49.5 2v1M49.5 14v1M50.5 0v1M50.5 5v1M51.5 4v1M52.5 6v1M54.5 6v1M55.5 4v1M55.5 5v1M55.5 6v1M56.5 3v1M56.5 13v1M57.5 1v1M57.5 9v1M57.5 14v1M58.5 1v1M60.5 2v1M61.5 8v1M62.5 19v1M63.5 1v1M64.5 1v1M64.5 14v1M64.5 25v1M65.5 4v1M66.5 6v1M67.5 3v1M67.5 14v1M68.5 8v1M68.5 28v1M69.5 3v1M69.5 9v1M70.5 4v1M70.5 14v1M71.5 8v1M72.5 4v1M72.5 28v1M73.5 26v1M73.5 27v1M74.5 11v1M76.5 26v1M77.5 3v1M77.5 13v1M78.5 1v1M80.5 14v1M82.5 0v1M82.5 4v1M82.5 10v1M83.5 8v1M84.5 2v1M84.5 4v1M84.5 14v1M85.5 7v1M86.5 4v1M86.5 23v1M87.5 6v1M87.5 14v1M88.5 14v1M89.5 12v1M90.5 18v1M90.5 24v1M90.5 28v1M91.5 7v1M94.5 6v1M94.5 14v1M95.5 0v1M95.5 6v1M95.5 10v1M96.5 6v1M97.5 2v1M97.5 6v1M99.5 8v1M99.5 11v1M101.5 14v1M102.5 7v1M104.5 24v1M109.5 6v1M111.5 11v1M112.5 27v1M114.5 5v1M116.5 13v1M118.5 12v1M118.5 14v1M119.5 27v1M123.5 12v1M127.5 4v1M127.5 10v1M133.5 6v1M134.5 1v1M138.5 16v1M138.5 27v1M139.5 1v1M140.5 24v1M142.5 3v1M142.5 5v1M143.5 17v1M143.5 18v1M144.5 5v1M147.5 28v1M151.5 27v1M153.5 7v1M153.5 25v1M153.5 28v1M155.5 27v1M157.5 24v1M158.5 19v1M158.5 22v1M158.5 28v1M159.5 14v1M160.5 2v1M162.5 19v1M164.5 13v1M166.5 23v1M169.5 11v1M169.5 27v1M170.5 7v1M171.5 11v1M171.5 16v1M171.5 23v1M173.5 23v1M177.5 0v1M180.5 7v1M185.5 17v1M185.5 25v1M186.5 14v1M187.5 21v1M187.5 24v1M194.5 18v1M194.5 23v1M195.5 15v1M197.5 17v1M198.5 18v1M198.5 23v1M199.5 17v1M199.5 24v1M203.5 15v1M211.5 19v1M211.5 28v1M212.5 16v1M212.5 18v1M212.5 23v1M212.5 27v1M213.5 29v1M216.5 19v1M216.5 24v1M219.5 8v1M221.5 6v1M223.5 19v1M224.5 15v1M231.5 28v1M232.5 17v1M232.5 19v1M234.5 23v1M235.5 24v1M235.5 25v1M236.5 15v1M237.5 7v1M241.5 23v1M244.5 13v1M245.5 5v1M246.5 22v1M246.5 23v1M247.5 29v1M250.5 8v1M250.5 15v1M250.5 26v1M253.5 25v1M254.5 16v1M254.5 27v1M256.5 6v1M257.5 19v1M258.5 23v1M259.5 1v1M263.5 6v1M264.5 29v1M265.5 27v1M270.5 6v1M271.5 20v1M271.5 27v1M271.5 29v1M272.5 26v1M272.5 27v1M275.5 16v1M276.5 16v1M276.5 19v1M276.5 23v1M276.5 25v1M277.5 23v1M277.5 27v1M278.5 15v1M278.5 17v1M278.5 28v1M280.5 16v1M280.5 24v1M281.5 17v1M282.5 23v1M282.5 27v1M283.5 23v1M284.5 19v1M285.5 17v1M285.5 23v1M285.5 24v1M287.5 25v1M288.5 18v1M288.5 22v1M288.5 28v1M288.5 29v1M293.5 16v1M295.5 23v1M299.5 22v1M299.5 24v1M299.5 28v1M300.5 28v1M302.5 23v1M306.5 11v1M307.5 3v1M308.5 23v1M309.5 27v1M310.5 18v1M311.5 17v1M319.5 26v1M319.5 28v1M319.5 29v1M320.5 17v1M321.5 19v1M322.5 10v1M324.5 17v1M325.5 15v1M329.5 18v1M329.5 22v1M329.5 25v1M331.5 23v1M332.5 19v1M333.5 27v1M337.5 16v1M338.5 18v1M339.5 23v1M342.5 25v1M344.5 28v1M346.5 5v1M346.5 17v1M346.5 22v1M347.5 2v1M347.5 17v1M350.5 28v1M351.5 27v1M352.5 14v1M354.5 29v1M355.5 0v1M355.5 4v1M358.5 16v1M358.5 27v1M359.5 18v1M359.5 20v1M360.5 19v1M361.5 27v1M361.5 29v1M362.5 27v1M362.5 29v1M363.5 26v1M364.5 15v1M364.5 28v1M365.5 29v1M366.5 27v1M367.5 20v1M367.5 28v1M368.5 28v1"/>
<path stroke="#901416" d="M0.5 1v1M1.5 4v1M1.5 14v1M2.5 8v1M2.5 9v1M3.5 4v1M3.5 6v1M3.5 10v1M3.5 12v1M4.5 4v1M4.5 7v1M5.5 7v1M5.5 8v1M5.5 11v1M6.5 8v1M7.5 1v1M8.5 8v1M9.5 10v1M9.5 12v1M10.5 14v1M11.5 0v1M11.5 8v1M13.5 4v1M13.5 8v1M14.5 3v1M14.5 7v1M14.5 9v1M16.5 8v1M16.5 12v1M17.5 2v1M19.5 10v1M19.5 12v1M21.5 12v1M21.5 13v1M22.5 7v1M23.5 3v1M23.5 5v1M25.5 6v1M26.5 8v1M26.5 13v1M27.5 1v1M27.5 12v1M27.5 14v1M28.5 0v1M29.5 4v1M29.5 7v1M30.5 2v1M31.5 12v1M33.5 0v1M33.5 6v1M34.5 5v1M34.5 8v1M34.5 10v1M35.5 3v1M36.5 9v1M37.5 6v1M38.5 9v1M39.5 0v1M39.5 1v1M39.5 3v1M39.5 8v1M39.5 12v1M40.5 4v1M42.5 2v1M42.5 12v1M43.5 6v1M45.5 6v1M45.5 14v1M47.5 1v1M47.5 7v1M47.5 12v1M48.5 2v1M49.5 13v1M50.5 1v1M50.5 4v1M51.5 3v1M51.5 14v1M52.5 4v1M53.5 2v1M53.5 3v1M53.5 9v1M54.5 7v1M55.5 0v1M55.5 2v1M57.5 0v1M57.5 3v1M58.5 9v1M58.5 12v1M58.5 14v1M61.5 9v1M62.5 0v1M62.5 13v1M63.5 4v1M66.5 1v1M66.5 3v1M67.5 12v1M68.5 2v1M68.5 7v1M71.5 1v1M71.5 5v1M72.5 6v1M73.5 17v1M74.5 4v1M75.5 8v1M76.5 9v1M77.5 12v1M78.5 13v1M78.5 14v1M79.5 1v1M82.5 8v1M83.5 26v1M84.5 0v1M84.5 1v1M84.5 3v1M84.5 12v1M85.5 11v1M86.5 11v1M87.5 1v1M87.5 11v1M89.5 7v1M94.5 11v1M94.5 13v1M94.5 22v1M96.5 17v1M97.5 5v1M97.5 11v1M98.5 14v1M98.5 27v1M99.5 10v1M100.5 0v1M101.5 0v1M106.5 13v1M109.5 14v1M113.5 23v1M113.5 25v1M113.5 27v1M121.5 12v1M125.5 8v1M125.5 28v1M135.5 12v1M141.5 4v1M143.5 21v1M152.5 13v1M154.5 14v1M157.5 20v1M157.5 28v1M166.5 29v1M168.5 20v1M171.5 17v1M171.5 27v1M172.5 4v1M174.5 11v1M175.5 17v1M176.5 5v1M177.5 14v1M178.5 27v1M183.5 7v1M185.5 6v1M185.5 19v1M191.5 27v1M195.5 23v1M199.5 26v1M200.5 26v1M201.5 16v1M202.5 11v1M205.5 28v1M212.5 28v1M214.5 28v1M219.5 18v1M221.5 11v1M223.5 27v1M227.5 20v1M230.5 16v1M230.5 23v1M231.5 16v1M234.5 2v1M236.5 4v1M237.5 1v1M238.5 19v1M240.5 23v1M241.5 12v1M246.5 28v1M247.5 19v1M247.5 24v1M248.5 23v1M248.5 27v1M250.5 19v1M250.5 24v1M251.5 18v1M259.5 5v1M259.5 6v1M261.5 17v1M261.5 23v1M264.5 17v1M264.5 23v1M264.5 27v1M271.5 3v1M272.5 24v1M276.5 20v1M278.5 23v1M278.5 24v1M282.5 16v1M282.5 18v1M282.5 22v1M282.5 24v1M285.5 28v1M285.5 29v1M287.5 14v1M288.5 15v1M288.5 16v1M288.5 24v1M289.5 23v1M289.5 24v1M289.5 27v1M294.5 23v1M299.5 17v1M302.5 27v1M305.5 27v1M305.5 29v1M306.5 16v1M307.5 14v1M307.5 23v1M307.5 29v1M308.5 24v1M309.5 23v1M311.5 19v1M311.5 23v1M313.5 6v1M313.5 24v1M318.5 23v1M319.5 17v1M319.5 27v1M320.5 21v1M321.5 26v1M324.5 15v1M324.5 20v1M324.5 28v1M328.5 22v1M328.5 27v1M329.5 19v1M329.5 20v1M329.5 24v1M329.5 28v1M329.5 29v1M333.5 19v1M333.5 24v1M334.5 15v1M336.5 17v1M337.5 26v1M341.5 11v1M341.5 13v1M343.5 25v1M345.5 17v1M347.5 23v1M348.5 2v1M350.5 19v1M350.5 20v1M350.5 21v1M350.5 29v1M351.5 23v1M358.5 18v1M358.5 26v1M358.5 28v1M360.5 16v1M362.5 16v1M362.5 19v1M363.5 23v1M367.5 17v1"/>
<path stroke="#a21517" d="M0.5 0v1M0.5 13v1M0.5 14v1M1.5 5v1M2.5 14v1M3.5 8v1M3.5 9v1M4.5 11v1M6.5 0v1M6.5 4v1M7.5 12v1M7.5 13v1M8.5 2v1M8.5 3v1M9.5 4v1M14.5 0v1M14.5 8v1M15.5 6v1M15.5 8v1M16.5 5v1M19.5 14v1M21.5 6v1M22.5 5v1M24.5 0v1M24.5 10v1M25.5 5v1M25.5 13v1M26.5 7v1M27.5 2v1M27.5 5v1M27.5 7v1M29.5 2v1M29.5 9v1M30.5 3v1M30.5 5v1M30.5 6v1M31.5 14v1M32.5 11v1M33.5 11v1M34.5 13v1M36.5 13v1M37.5 10v1M37.5 14v1M38.5 7v1M40.5 12v1M41.5 12v1M42.5 4v1M44.5 5v1M45.5 0v1M45.5 4v1M45.5 5v1M46.5 2v1M48.5 11v1M49.5 7v1M49.5 8v1M49.5 12v1M51.5 0v1M52.5 2v1M53.5 14v1M54.5 8v1M54.5 11v1M54.5 13v1M54.5 14v1M55.5 12v1M56.5 12v1M57.5 10v1M60.5 9v1M61.5 23v1M63.5 10v1M65.5 12v1M68.5 11v1M70.5 5v1M71.5 3v1M71.5 10v1M73.5 16v1M76.5 6v1M77.5 8v1M78.5 10v1M81.5 4v1M81.5 13v1M83.5 6v1M84.5 6v1M84.5 11v1M84.5 15v1M85.5 4v1M85.5 9v1M86.5 25v1M87.5 8v1M88.5 11v1M89.5 11v1M91.5 2v1M92.5 4v1M92.5 6v1M93.5 24v1M97.5 3v1M98.5 3v1M99.5 7v1M99.5 14v1M103.5 5v1M103.5 14v1M105.5 11v1M110.5 13v1M113.5 17v1M116.5 26v1M122.5 12v1M126.5 17v1M128.5 23v1M131.5 26v1M132.5 11v1M142.5 27v1M152.5 11v1M155.5 8v1M158.5 21v1M158.5 25v1M159.5 19v1M187.5 20v1M188.5 24v1M199.5 15v1M200.5 14v1M202.5 19v1M210.5 13v1M218.5 1v1M218.5 2v1M219.5 15v1M223.5 5v1M228.5 6v1M230.5 29v1M232.5 26v1M232.5 27v1M235.5 23v1M240.5 29v1M243.5 7v1M252.5 14v1M267.5 13v1M273.5 26v1M276.5 24v1M281.5 18v1M282.5 25v1M282.5 28v1M287.5 11v1M287.5 19v1M288.5 20v1M288.5 23v1M290.5 19v1M294.5 16v1M296.5 8v1M301.5 5v1M305.5 18v1M306.5 29v1M309.5 17v1M309.5 20v1M315.5 27v1M318.5 28v1M319.5 16v1M326.5 5v1M329.5 23v1M329.5 27v1M332.5 0v1M336.5 23v1M339.5 19v1M343.5 23v1M343.5 28v1M346.5 28v1M347.5 18v1M350.5 25v1M351.5 15v1M356.5 16v1M357.5 18v1M357.5 27v1M358.5 22v1M358.5 23v1M358.5 24v1M362.5 20v1M362.5 24v1"/>
<path stroke="#b41619" d="M0.5 5v1M3.5 0v1M4.5 2v1M4.5 8v1M5.5 14v1M6.5 1v1M6.5 3v1M7.5 2v1M7.5 10v1M8.5 7v1M9.5 1v1M9.5 8v1M10.5 4v1M10.5 13v1M11.5 1v1M11.5 10v1M13.5 1v1M13.5 12v1M14.5 14v1M15.5 0v1M15.5 5v1M15.5 14v1M19.5 6v1M20.5 4v1M20.5 7v1M20.5 10v1M22.5 1v1M24.5 5v1M26.5 14v1M27.5 8v1M28.5 3v1M28.5 4v1M28.5 9v1M29.5 3v1M31.5 10v1M32.5 5v1M32.5 6v1M32.5 14v1M37.5 2v1M38.5 12v1M40.5 3v1M40.5 13v1M41.5 5v1M45.5 12v1M45.5 13v1M49.5 3v1M51.5 11v1M51.5 13v1M53.5 7v1M53.5 10v1M54.5 10v1M56.5 0v1M56.5 4v1M56.5 8v1M59.5 14v1M63.5 6v1M65.5 6v1M66.5 7v1M66.5 10v1M66.5 14v1M71.5 0v1M71.5 13v1M77.5 5v1M77.5 10v1M79.5 6v1M81.5 12v1M81.5 14v1M82.5 13v1M86.5 3v1M87.5 2v1M87.5 12v1M96.5 15v1M100.5 4v1M102.5 1v1M102.5 14v1M108.5 26v1M114.5 23v1M124.5 11v1M124.5 19v1M138.5 17v1M142.5 6v1M144.5 26v1M152.5 1v1M159.5 11v1M160.5 3v1M162.5 5v1M173.5 29v1M176.5 23v1M182.5 8v1M183.5 12v1M187.5 18v1M189.5 23v1M189.5 29v1M209.5 7v1M214.5 16v1M226.5 19v1M249.5 11v1M249.5 12v1M257.5 23v1M269.5 27v1M272.5 29v1M280.5 25v1M285.5 19v1M288.5 17v1M289.5 17v1M304.5 0v1M305.5 23v1M307.5 17v1M308.5 19v1M314.5 29v1M318.5 20v1M329.5 21v1M336.5 24v1M342.5 28v1M350.5 27v1M353.5 23v1M358.5 21v1M359.5 23v1M360.5 15v1M362.5 23v1M365.5 28v1M368.5 23v1"/>
<path stroke="#c6171b" d="M1.5 6v1M1.5 7v1M1.5 9v1M3.5 14v1M4.5 14v1M6.5 13v1M7.5 8v1M11.5 5v1M13.5 0v1M14.5 4v1M14.5 6v1M14.5 12v1M15.5 11v1M16.5 0v1M18.5 6v1M20.5 0v1M20.5 6v1M22.5 0v1M22.5 2v1M25.5 12v1M27.5 0v1M29.5 14v1M31.5 5v1M31.5 13v1M34.5 0v1M41.5 7v1M44.5 13v1M48.5 3v1M50.5 8v1M50.5 14v1M53.5 5v1M53.5 8v1M57.5 6v1M58.5 11v1M70.5 1v1M70.5 7v1M71.5 12v1M74.5 1v1M83.5 3v1M83.5 7v1M84.5 5v1M84.5 7v1M87.5 9v1M89.5 14v1M101.5 11v1M103.5 11v1M130.5 11v1M137.5 19v1M158.5 23v1M160.5 25v1M181.5 23v1M186.5 7v1M212.5 29v1M227.5 27v1M238.5 15v1M249.5 3v1M252.5 20v1M262.5 24v1M264.5 19v1M285.5 25v1M292.5 17v1M320.5 28v1M327.5 15v1M331.5 26v1M335.5 24v1M338.5 23v1M341.5 5v1M344.5 27v1M347.5 27v1M350.5 15v1M360.5 23v1M360.5 26v1M362.5 17v1M362.5 28v1M364.5 27v1"/>
<path stroke="#d9181c" d="M3.5 7v1M6.5 5v1M6.5 11v1M6.5 14v1M8.5 14v1M10.5 6v1M12.5 0v1M23.5 4v1M23.5 8v1M25.5 3v1M26.5 11v1M27.5 9v1M29.5 5v1M32.5 13v1M33.5 14v1M39.5 7v1M42.5 3v1M42.5 14v1M47.5 0v1M51.5 7v1M56.5 1v1M56.5 11v1M62.5 11v1M70.5 12v1M82.5 6v1M83.5 2v1M83.5 13v1M92.5 13v1M95.5 9v1M100.5 7v1M119.5 23v1M122.5 5v1M130.5 9v1M137.5 23v1M154.5 24v1M158.5 15v1M162.5 7v1M163.5 1v1M199.5 23v1M208.5 16v1M254.5 23v1M275.5 19v1M299.5 20v1M314.5 19v1M326.5 2v1M333.5 17v1M336.5 19v1M358.5 29v1M367.5 24v1"/>
<path stroke="#eb191e" d="M1.5 8v1M3.5 5v1M5.5 13v1M7.5 0v1M7.5 7v1M8.5 11v1M8.5 12v1M9.5 13v1M10.5 0v1M10.5 7v1M13.5 5v1M14.5 10v1M19.5 2v1M19.5 7v1M20.5 1v1M20.5 5v1M20.5 14v1M22.5 6v1M22.5 12v1M24.5 13v1M25.5 2v1M27.5 4v1M27.5 11v1M27.5 13v1M28.5 7v1M29.5 10v1M29.5 12v1M29.5 13v1M32.5 0v1M32.5 1v1M34.5 1v1M34.5 4v1M34.5 11v1M34.5 14v1M35.5 12v1M36.5 7v1M39.5 2v1M39.5 4v1M39.5 5v1M39.5 6v1M39.5 14v1M40.5 5v1M41.5 0v1M42.5 11v1M43.5 14v1M44.5 10v1M44.5 11v1M47.5 9v1M47.5 10v1M50.5 3v1M54.5 3v1M54.5 5v1M56.5 6v1M58.5 5v1M60.5 1v1M60.5 13v1M66.5 13v1M70.5 8v1M70.5 10v1M76.5 19v1M81.5 11v1M82.5 3v1M82.5 5v1M82.5 7v1M83.5 4v1M91.5 8v1M93.5 19v1M97.5 7v1M97.5 10v1M106.5 10v1M120.5 19v1M129.5 7v1M140.5 19v1M142.5 12v1M154.5 19v1M154.5 21v1M158.5 27v1M163.5 0v1M173.5 25v1M183.5 13v1M195.5 19v1M196.5 19v1M205.5 23v1M218.5 9v1M220.5 7v1M221.5 10v1M222.5 7v1M225.5 15v1M241.5 17v1M248.5 19v1M252.5 25v1M253.5 19v1M262.5 20v1M278.5 29v1M280.5 27v1M299.5 23v1M319.5 23v1M320.5 16v1M320.5 24v1M326.5 26v1M327.5 20v1M330.5 19v1M339.5 17v1M346.5 23v1M347.5 20v1M349.5 27v1M351.5 21v1M354.5 6v1M358.5 20v1M367.5 19v1M367.5 26v1"/>
</g></g>
<rect x="16.00" y="203.60" width="70.08" height="4.70" fill="#f5141a"/>
<rect x="86.08" y="203.60" width="57.56" height="4.70" fill="#9e2228"/>
<rect x="143.64" y="203.60" width="335.36" height="4.70" fill="#f2e52c"/>
<path fill="#ececec" d="M23.81 209.32h1.75v4.70h-1.75zM28.81 209.32h1.75v4.70h-1.75zM41.33 209.32h1.75v4.70h-1.75zM46.33 209.32h1.75v4.70h-1.75zM51.34 209.32h1.75v4.70h-1.75zM58.85 209.32h1.75v4.70h-1.75zM63.85 209.32h1.75v4.70h-1.75zM83.87 209.32h1.75v4.70h-1.75zM96.39 209.32h1.75v4.70h-1.75zM101.39 209.32h1.75v4.70h-1.75zM148.94 209.32h1.75v4.70h-1.75zM151.45 209.32h1.75v4.70h-1.75zM166.46 209.32h1.75v4.70h-1.75zM168.96 209.32h1.75v4.70h-1.75zM171.47 209.32h1.75v4.70h-1.75zM176.47 209.32h1.75v4.70h-1.75zM178.98 209.32h1.75v4.70h-1.75zM183.98 209.32h1.75v4.70h-1.75zM186.48 209.32h1.75v4.70h-1.75zM214.01 209.32h1.75v4.70h-1.75zM219.02 209.32h1.75v4.70h-1.75zM221.52 209.32h1.75v4.70h-1.75zM224.02 209.32h1.75v4.70h-1.75zM254.06 209.32h1.75v4.70h-1.75zM264.07 209.32h1.75v4.70h-1.75zM286.59 209.32h1.75v4.70h-1.75zM334.14 209.32h1.75v4.70h-1.75zM336.65 209.32h1.75v4.70h-1.75zM339.15 209.32h1.75v4.70h-1.75zM361.67 209.32h1.75v4.70h-1.75zM371.68 209.32h1.75v4.70h-1.75zM396.71 209.32h1.75v4.70h-1.75zM411.73 209.32h1.75v4.70h-1.75zM426.74 209.32h1.75v4.70h-1.75zM436.75 209.32h1.75v4.70h-1.75zM439.26 209.32h1.75v4.70h-1.75zM446.76 209.32h1.75v4.70h-1.75zM461.78 209.32h1.75v4.70h-1.75zM471.79 209.32h1.75v4.70h-1.75z"/>
<path fill="#f7bdd3" d="M16.30 209.32h1.75v4.70h-1.75zM18.80 209.32h1.75v4.70h-1.75zM48.84 209.32h1.75v4.70h-1.75zM61.35 209.32h1.75v4.70h-1.75zM68.86 209.32h1.75v4.70h-1.75zM86.38 209.32h1.75v4.70h-1.75zM88.88 209.32h1.75v4.70h-1.75zM91.38 209.32h1.75v4.70h-1.75zM98.89 209.32h1.75v4.70h-1.75zM103.89 209.32h1.75v4.70h-1.75zM106.40 209.32h1.75v4.70h-1.75zM111.40 209.32h1.75v4.70h-1.75zM126.42 209.32h1.75v4.70h-1.75zM128.92 209.32h1.75v4.70h-1.75zM131.42 209.32h1.75v4.70h-1.75zM133.93 209.32h1.75v4.70h-1.75zM138.93 209.32h1.75v4.70h-1.75zM141.44 209.32h1.75v4.70h-1.75zM143.94 209.32h1.75v4.70h-1.75zM146.44 209.32h1.75v4.70h-1.75zM153.95 209.32h1.75v4.70h-1.75zM156.45 209.32h1.75v4.70h-1.75zM158.95 209.32h1.75v4.70h-1.75zM161.46 209.32h1.75v4.70h-1.75zM173.97 209.32h1.75v4.70h-1.75zM188.99 209.32h1.75v4.70h-1.75zM191.49 209.32h1.75v4.70h-1.75zM196.49 209.32h1.75v4.70h-1.75zM201.50 209.32h1.75v4.70h-1.75zM204.00 209.32h1.75v4.70h-1.75zM211.51 209.32h1.75v4.70h-1.75zM226.53 209.32h1.75v4.70h-1.75zM229.03 209.32h1.75v4.70h-1.75zM231.53 209.32h1.75v4.70h-1.75zM236.54 209.32h1.75v4.70h-1.75zM239.04 209.32h1.75v4.70h-1.75zM244.05 209.32h1.75v4.70h-1.75zM249.05 209.32h1.75v4.70h-1.75zM251.55 209.32h1.75v4.70h-1.75zM256.56 209.32h1.75v4.70h-1.75zM259.06 209.32h1.75v4.70h-1.75zM261.56 209.32h1.75v4.70h-1.75zM276.58 209.32h1.75v4.70h-1.75zM279.08 209.32h1.75v4.70h-1.75zM281.59 209.32h1.75v4.70h-1.75zM284.09 209.32h1.75v4.70h-1.75zM294.10 209.32h1.75v4.70h-1.75zM296.60 209.32h1.75v4.70h-1.75zM299.11 209.32h1.75v4.70h-1.75zM301.61 209.32h1.75v4.70h-1.75zM306.61 209.32h1.75v4.70h-1.75zM311.62 209.32h1.75v4.70h-1.75zM319.13 209.32h1.75v4.70h-1.75zM321.63 209.32h1.75v4.70h-1.75zM324.13 209.32h1.75v4.70h-1.75zM331.64 209.32h1.75v4.70h-1.75zM341.65 209.32h1.75v4.70h-1.75zM344.15 209.32h1.75v4.70h-1.75zM346.66 209.32h1.75v4.70h-1.75zM349.16 209.32h1.75v4.70h-1.75zM354.16 209.32h1.75v4.70h-1.75zM356.67 209.32h1.75v4.70h-1.75zM359.17 209.32h1.75v4.70h-1.75zM364.18 209.32h1.75v4.70h-1.75zM366.68 209.32h1.75v4.70h-1.75zM369.18 209.32h1.75v4.70h-1.75zM374.19 209.32h1.75v4.70h-1.75zM376.69 209.32h1.75v4.70h-1.75zM386.70 209.32h1.75v4.70h-1.75zM389.20 209.32h1.75v4.70h-1.75zM391.71 209.32h1.75v4.70h-1.75zM394.21 209.32h1.75v4.70h-1.75zM401.72 209.32h1.75v4.70h-1.75zM404.22 209.32h1.75v4.70h-1.75zM406.72 209.32h1.75v4.70h-1.75zM414.23 209.32h1.75v4.70h-1.75zM416.73 209.32h1.75v4.70h-1.75zM419.24 209.32h1.75v4.70h-1.75zM424.24 209.32h1.75v4.70h-1.75zM429.25 209.32h1.75v4.70h-1.75zM431.75 209.32h1.75v4.70h-1.75zM444.26 209.32h1.75v4.70h-1.75zM449.27 209.32h1.75v4.70h-1.75zM454.27 209.32h1.75v4.70h-1.75zM456.78 209.32h1.75v4.70h-1.75zM459.28 209.32h1.75v4.70h-1.75zM466.79 209.32h1.75v4.70h-1.75zM469.29 209.32h1.75v4.70h-1.75z"/>
<path fill="#d9157a" d="M21.31 209.32h1.75v4.70h-1.75zM26.31 209.32h1.75v4.70h-1.75zM31.32 209.32h1.75v4.70h-1.75zM33.82 209.32h1.75v4.70h-1.75zM36.32 209.32h1.75v4.70h-1.75zM38.82 209.32h1.75v4.70h-1.75zM43.83 209.32h1.75v4.70h-1.75zM53.84 209.32h1.75v4.70h-1.75zM56.34 209.32h1.75v4.70h-1.75zM66.35 209.32h1.75v4.70h-1.75zM71.36 209.32h1.75v4.70h-1.75zM73.86 209.32h1.75v4.70h-1.75zM76.36 209.32h1.75v4.70h-1.75zM78.87 209.32h1.75v4.70h-1.75zM81.37 209.32h1.75v4.70h-1.75zM93.88 209.32h1.75v4.70h-1.75zM108.90 209.32h1.75v4.70h-1.75zM113.91 209.32h1.75v4.70h-1.75zM116.41 209.32h1.75v4.70h-1.75zM118.91 209.32h1.75v4.70h-1.75zM121.41 209.32h1.75v4.70h-1.75zM123.92 209.32h1.75v4.70h-1.75zM136.43 209.32h1.75v4.70h-1.75zM163.96 209.32h1.75v4.70h-1.75zM181.48 209.32h1.75v4.70h-1.75zM193.99 209.32h1.75v4.70h-1.75zM199.00 209.32h1.75v4.70h-1.75zM206.51 209.32h1.75v4.70h-1.75zM209.01 209.32h1.75v4.70h-1.75zM216.52 209.32h1.75v4.70h-1.75zM234.04 209.32h1.75v4.70h-1.75zM241.54 209.32h1.75v4.70h-1.75zM246.55 209.32h1.75v4.70h-1.75zM266.57 209.32h1.75v4.70h-1.75zM269.07 209.32h1.75v4.70h-1.75zM271.58 209.32h1.75v4.70h-1.75zM274.08 209.32h1.75v4.70h-1.75zM289.09 209.32h1.75v4.70h-1.75zM291.60 209.32h1.75v4.70h-1.75zM304.11 209.32h1.75v4.70h-1.75zM309.12 209.32h1.75v4.70h-1.75zM314.12 209.32h1.75v4.70h-1.75zM316.62 209.32h1.75v4.70h-1.75zM326.64 209.32h1.75v4.70h-1.75zM329.14 209.32h1.75v4.70h-1.75zM351.66 209.32h1.75v4.70h-1.75zM379.19 209.32h1.75v4.70h-1.75zM381.69 209.32h1.75v4.70h-1.75zM384.20 209.32h1.75v4.70h-1.75zM399.21 209.32h1.75v4.70h-1.75zM409.22 209.32h1.75v4.70h-1.75zM421.74 209.32h1.75v4.70h-1.75zM434.25 209.32h1.75v4.70h-1.75zM441.76 209.32h1.75v4.70h-1.75zM451.77 209.32h1.75v4.70h-1.75zM464.28 209.32h1.75v4.70h-1.75zM474.29 209.32h1.75v4.70h-1.75zM476.80 209.32h1.75v4.70h-1.75z"/>
<path fill="#ececec" d="M18.80 215.04h1.75v4.70h-1.75zM23.81 215.04h1.75v4.70h-1.75zM41.33 215.04h1.75v4.70h-1.75zM46.33 215.04h1.75v4.70h-1.75zM51.34 215.04h1.75v4.70h-1.75zM58.85 215.04h1.75v4.70h-1.75zM63.85 215.04h1.75v4.70h-1.75zM83.87 215.04h1.75v4.70h-1.75zM96.39 215.04h1.75v4.70h-1.75zM131.42 215.04h1.75v4.70h-1.75zM148.94 215.04h1.75v4.70h-1.75zM151.45 215.04h1.75v4.70h-1.75zM166.46 215.04h1.75v4.70h-1.75zM168.96 215.04h1.75v4.70h-1.75zM171.47 215.04h1.75v4.70h-1.75zM173.97 215.04h1.75v4.70h-1.75zM176.47 215.04h1.75v4.70h-1.75zM183.98 215.04h1.75v4.70h-1.75zM186.48 215.04h1.75v4.70h-1.75zM193.99 215.04h1.75v4.70h-1.75zM214.01 215.04h1.75v4.70h-1.75zM219.02 215.04h1.75v4.70h-1.75zM224.02 215.04h1.75v4.70h-1.75zM254.06 215.04h1.75v4.70h-1.75zM286.59 215.04h1.75v4.70h-1.75zM324.13 215.04h1.75v4.70h-1.75zM329.14 215.04h1.75v4.70h-1.75zM334.14 215.04h1.75v4.70h-1.75zM336.65 215.04h1.75v4.70h-1.75zM339.15 215.04h1.75v4.70h-1.75zM351.66 215.04h1.75v4.70h-1.75zM361.67 215.04h1.75v4.70h-1.75zM371.68 215.04h1.75v4.70h-1.75zM374.19 215.04h1.75v4.70h-1.75zM396.71 215.04h1.75v4.70h-1.75zM426.74 215.04h1.75v4.70h-1.75zM429.25 215.04h1.75v4.70h-1.75zM434.25 215.04h1.75v4.70h-1.75zM439.26 215.04h1.75v4.70h-1.75zM446.76 215.04h1.75v4.70h-1.75zM461.78 215.04h1.75v4.70h-1.75z"/>
<path fill="#f7bdd3" d="M21.31 215.04h1.75v4.70h-1.75zM26.31 215.04h1.75v4.70h-1.75zM31.32 215.04h1.75v4.70h-1.75zM33.82 215.04h1.75v4.70h-1.75zM71.36 215.04h1.75v4.70h-1.75zM81.37 215.04h1.75v4.70h-1.75zM86.38 215.04h1.75v4.70h-1.75zM91.38 215.04h1.75v4.70h-1.75zM93.88 215.04h1.75v4.70h-1.75zM98.89 215.04h1.75v4.70h-1.75zM108.90 215.04h1.75v4.70h-1.75zM113.91 215.04h1.75v4.70h-1.75zM118.91 215.04h1.75v4.70h-1.75zM126.42 215.04h1.75v4.70h-1.75zM136.43 215.04h1.75v4.70h-1.75zM138.93 215.04h1.75v4.70h-1.75zM141.44 215.04h1.75v4.70h-1.75zM143.94 215.04h1.75v4.70h-1.75zM146.44 215.04h1.75v4.70h-1.75zM156.45 215.04h1.75v4.70h-1.75zM158.95 215.04h1.75v4.70h-1.75zM163.96 215.04h1.75v4.70h-1.75zM178.98 215.04h1.75v4.70h-1.75zM188.99 215.04h1.75v4.70h-1.75zM191.49 215.04h1.75v4.70h-1.75zM196.49 215.04h1.75v4.70h-1.75zM201.50 215.04h1.75v4.70h-1.75zM204.00 215.04h1.75v4.70h-1.75zM209.01 215.04h1.75v4.70h-1.75zM211.51 215.04h1.75v4.70h-1.75zM216.52 215.04h1.75v4.70h-1.75zM221.52 215.04h1.75v4.70h-1.75zM226.53 215.04h1.75v4.70h-1.75zM229.03 215.04h1.75v4.70h-1.75zM231.53 215.04h1.75v4.70h-1.75zM234.04 215.04h1.75v4.70h-1.75zM236.54 215.04h1.75v4.70h-1.75zM241.54 215.04h1.75v4.70h-1.75zM244.05 215.04h1.75v4.70h-1.75zM246.55 215.04h1.75v4.70h-1.75zM259.06 215.04h1.75v4.70h-1.75zM261.56 215.04h1.75v4.70h-1.75zM264.07 215.04h1.75v4.70h-1.75zM266.57 215.04h1.75v4.70h-1.75zM269.07 215.04h1.75v4.70h-1.75zM271.58 215.04h1.75v4.70h-1.75zM276.58 215.04h1.75v4.70h-1.75zM279.08 215.04h1.75v4.70h-1.75zM281.59 215.04h1.75v4.70h-1.75zM284.09 215.04h1.75v4.70h-1.75zM289.09 215.04h1.75v4.70h-1.75zM291.60 215.04h1.75v4.70h-1.75zM294.10 215.04h1.75v4.70h-1.75zM296.60 215.04h1.75v4.70h-1.75zM299.11 215.04h1.75v4.70h-1.75zM304.11 215.04h1.75v4.70h-1.75zM306.61 215.04h1.75v4.70h-1.75zM314.12 215.04h1.75v4.70h-1.75zM316.62 215.04h1.75v4.70h-1.75zM319.13 215.04h1.75v4.70h-1.75zM321.63 215.04h1.75v4.70h-1.75zM326.64 215.04h1.75v4.70h-1.75zM331.64 215.04h1.75v4.70h-1.75zM341.65 215.04h1.75v4.70h-1.75zM344.15 215.04h1.75v4.70h-1.75zM346.66 215.04h1.75v4.70h-1.75zM349.16 215.04h1.75v4.70h-1.75zM354.16 215.04h1.75v4.70h-1.75zM359.17 215.04h1.75v4.70h-1.75zM379.19 215.04h1.75v4.70h-1.75zM381.69 215.04h1.75v4.70h-1.75zM384.20 215.04h1.75v4.70h-1.75zM386.70 215.04h1.75v4.70h-1.75zM391.71 215.04h1.75v4.70h-1.75zM399.21 215.04h1.75v4.70h-1.75zM401.72 215.04h1.75v4.70h-1.75zM404.22 215.04h1.75v4.70h-1.75zM406.72 215.04h1.75v4.70h-1.75zM409.22 215.04h1.75v4.70h-1.75zM411.73 215.04h1.75v4.70h-1.75zM419.24 215.04h1.75v4.70h-1.75zM424.24 215.04h1.75v4.70h-1.75zM441.76 215.04h1.75v4.70h-1.75zM444.26 215.04h1.75v4.70h-1.75zM449.27 215.04h1.75v4.70h-1.75zM451.77 215.04h1.75v4.70h-1.75zM454.27 215.04h1.75v4.70h-1.75zM456.78 215.04h1.75v4.70h-1.75zM469.29 215.04h1.75v4.70h-1.75zM471.79 215.04h1.75v4.70h-1.75zM476.80 215.04h1.75v4.70h-1.75z"/>
<path fill="#d9157a" d="M16.30 215.04h1.75v4.70h-1.75zM28.81 215.04h1.75v4.70h-1.75zM36.32 215.04h1.75v4.70h-1.75zM38.82 215.04h1.75v4.70h-1.75zM43.83 215.04h1.75v4.70h-1.75zM48.84 215.04h1.75v4.70h-1.75zM53.84 215.04h1.75v4.70h-1.75zM56.34 215.04h1.75v4.70h-1.75zM61.35 215.04h1.75v4.70h-1.75zM66.35 215.04h1.75v4.70h-1.75zM68.86 215.04h1.75v4.70h-1.75zM73.86 215.04h1.75v4.70h-1.75zM76.36 215.04h1.75v4.70h-1.75zM78.87 215.04h1.75v4.70h-1.75zM88.88 215.04h1.75v4.70h-1.75zM101.39 215.04h1.75v4.70h-1.75zM103.89 215.04h1.75v4.70h-1.75zM106.40 215.04h1.75v4.70h-1.75zM111.40 215.04h1.75v4.70h-1.75zM116.41 215.04h1.75v4.70h-1.75zM121.41 215.04h1.75v4.70h-1.75zM123.92 215.04h1.75v4.70h-1.75zM128.92 215.04h1.75v4.70h-1.75zM133.93 215.04h1.75v4.70h-1.75zM153.95 215.04h1.75v4.70h-1.75zM161.46 215.04h1.75v4.70h-1.75zM181.48 215.04h1.75v4.70h-1.75zM199.00 215.04h1.75v4.70h-1.75zM206.51 215.04h1.75v4.70h-1.75zM239.04 215.04h1.75v4.70h-1.75zM249.05 215.04h1.75v4.70h-1.75zM251.55 215.04h1.75v4.70h-1.75zM256.56 215.04h1.75v4.70h-1.75zM274.08 215.04h1.75v4.70h-1.75zM301.61 215.04h1.75v4.70h-1.75zM309.12 215.04h1.75v4.70h-1.75zM311.62 215.04h1.75v4.70h-1.75zM356.67 215.04h1.75v4.70h-1.75zM364.18 215.04h1.75v4.70h-1.75zM366.68 215.04h1.75v4.70h-1.75zM369.18 215.04h1.75v4.70h-1.75zM376.69 215.04h1.75v4.70h-1.75zM389.20 215.04h1.75v4.70h-1.75zM394.21 215.04h1.75v4.70h-1.75zM414.23 215.04h1.75v4.70h-1.75zM416.73 215.04h1.75v4.70h-1.75zM421.74 215.04h1.75v4.70h-1.75zM431.75 215.04h1.75v4.70h-1.75zM436.75 215.04h1.75v4.70h-1.75zM459.28 215.04h1.75v4.70h-1.75zM464.28 215.04h1.75v4.70h-1.75zM466.79 215.04h1.75v4.70h-1.75zM474.29 215.04h1.75v4.70h-1.75z"/>
<path fill="#ececec" d="M23.81 220.76h1.75v4.70h-1.75zM41.33 220.76h1.75v4.70h-1.75zM46.33 220.76h1.75v4.70h-1.75zM51.34 220.76h1.75v4.70h-1.75zM58.85 220.76h1.75v4.70h-1.75zM63.85 220.76h1.75v4.70h-1.75zM83.87 220.76h1.75v4.70h-1.75zM88.88 220.76h1.75v4.70h-1.75zM96.39 220.76h1.75v4.70h-1.75zM148.94 220.76h1.75v4.70h-1.75zM151.45 220.76h1.75v4.70h-1.75zM163.96 220.76h1.75v4.70h-1.75zM166.46 220.76h1.75v4.70h-1.75zM168.96 220.76h1.75v4.70h-1.75zM171.47 220.76h1.75v4.70h-1.75zM176.47 220.76h1.75v4.70h-1.75zM181.48 220.76h1.75v4.70h-1.75zM183.98 220.76h1.75v4.70h-1.75zM186.48 220.76h1.75v4.70h-1.75zM214.01 220.76h1.75v4.70h-1.75zM219.02 220.76h1.75v4.70h-1.75zM224.02 220.76h1.75v4.70h-1.75zM254.06 220.76h1.75v4.70h-1.75zM286.59 220.76h1.75v4.70h-1.75zM334.14 220.76h1.75v4.70h-1.75zM336.65 220.76h1.75v4.70h-1.75zM339.15 220.76h1.75v4.70h-1.75zM361.67 220.76h1.75v4.70h-1.75zM371.68 220.76h1.75v4.70h-1.75zM396.71 220.76h1.75v4.70h-1.75zM406.72 220.76h1.75v4.70h-1.75zM426.74 220.76h1.75v4.70h-1.75zM439.26 220.76h1.75v4.70h-1.75zM446.76 220.76h1.75v4.70h-1.75zM459.28 220.76h1.75v4.70h-1.75zM461.78 220.76h1.75v4.70h-1.75z"/>
<path fill="#f7bdd3" d="M16.30 220.76h1.75v4.70h-1.75zM18.80 220.76h1.75v4.70h-1.75zM21.31 220.76h1.75v4.70h-1.75zM26.31 220.76h1.75v4.70h-1.75zM31.32 220.76h1.75v4.70h-1.75zM33.82 220.76h1.75v4.70h-1.75zM36.32 220.76h1.75v4.70h-1.75zM43.83 220.76h1.75v4.70h-1.75zM56.34 220.76h1.75v4.70h-1.75zM61.35 220.76h1.75v4.70h-1.75zM66.35 220.76h1.75v4.70h-1.75zM68.86 220.76h1.75v4.70h-1.75zM71.36 220.76h1.75v4.70h-1.75zM76.36 220.76h1.75v4.70h-1.75zM78.87 220.76h1.75v4.70h-1.75zM81.37 220.76h1.75v4.70h-1.75zM86.38 220.76h1.75v4.70h-1.75zM91.38 220.76h1.75v4.70h-1.75zM93.88 220.76h1.75v4.70h-1.75zM98.89 220.76h1.75v4.70h-1.75zM106.40 220.76h1.75v4.70h-1.75zM108.90 220.76h1.75v4.70h-1.75zM111.40 220.76h1.75v4.70h-1.75zM113.91 220.76h1.75v4.70h-1.75zM116.41 220.76h1.75v4.70h-1.75zM118.91 220.76h1.75v4.70h-1.75zM121.41 220.76h1.75v4.70h-1.75zM123.92 220.76h1.75v4.70h-1.75zM126.42 220.76h1.75v4.70h-1.75zM131.42 220.76h1.75v4.70h-1.75zM133.93 220.76h1.75v4.70h-1.75zM136.43 220.76h1.75v4.70h-1.75zM138.93 220.76h1.75v4.70h-1.75zM143.94 220.76h1.75v4.70h-1.75zM146.44 220.76h1.75v4.70h-1.75zM153.95 220.76h1.75v4.70h-1.75zM156.45 220.76h1.75v4.70h-1.75zM158.95 220.76h1.75v4.70h-1.75zM161.46 220.76h1.75v4.70h-1.75zM173.97 220.76h1.75v4.70h-1.75zM188.99 220.76h1.75v4.70h-1.75zM191.49 220.76h1.75v4.70h-1.75zM193.99 220.76h1.75v4.70h-1.75zM196.49 220.76h1.75v4.70h-1.75zM199.00 220.76h1.75v4.70h-1.75zM201.50 220.76h1.75v4.70h-1.75zM204.00 220.76h1.75v4.70h-1.75zM206.51 220.76h1.75v4.70h-1.75zM209.01 220.76h1.75v4.70h-1.75zM216.52 220.76h1.75v4.70h-1.75zM221.52 220.76h1.75v4.70h-1.75zM226.53 220.76h1.75v4.70h-1.75zM234.04 220.76h1.75v4.70h-1.75zM236.54 220.76h1.75v4.70h-1.75zM239.04 220.76h1.75v4.70h-1.75zM241.54 220.76h1.75v4.70h-1.75zM244.05 220.76h1.75v4.70h-1.75zM246.55 220.76h1.75v4.70h-1.75zM249.05 220.76h1.75v4.70h-1.75zM251.55 220.76h1.75v4.70h-1.75zM256.56 220.76h1.75v4.70h-1.75zM261.56 220.76h1.75v4.70h-1.75zM264.07 220.76h1.75v4.70h-1.75zM266.57 220.76h1.75v4.70h-1.75zM271.58 220.76h1.75v4.70h-1.75zM274.08 220.76h1.75v4.70h-1.75zM276.58 220.76h1.75v4.70h-1.75zM279.08 220.76h1.75v4.70h-1.75zM281.59 220.76h1.75v4.70h-1.75zM284.09 220.76h1.75v4.70h-1.75zM289.09 220.76h1.75v4.70h-1.75zM291.60 220.76h1.75v4.70h-1.75zM294.10 220.76h1.75v4.70h-1.75zM296.60 220.76h1.75v4.70h-1.75zM299.11 220.76h1.75v4.70h-1.75zM301.61 220.76h1.75v4.70h-1.75zM304.11 220.76h1.75v4.70h-1.75zM306.61 220.76h1.75v4.70h-1.75zM309.12 220.76h1.75v4.70h-1.75zM311.62 220.76h1.75v4.70h-1.75zM314.12 220.76h1.75v4.70h-1.75zM316.62 220.76h1.75v4.70h-1.75zM319.13 220.76h1.75v4.70h-1.75zM321.63 220.76h1.75v4.70h-1.75zM324.13 220.76h1.75v4.70h-1.75zM326.64 220.76h1.75v4.70h-1.75zM331.64 220.76h1.75v4.70h-1.75zM341.65 220.76h1.75v4.70h-1.75zM344.15 220.76h1.75v4.70h-1.75zM346.66 220.76h1.75v4.70h-1.75zM349.16 220.76h1.75v4.70h-1.75zM351.66 220.76h1.75v4.70h-1.75zM354.16 220.76h1.75v4.70h-1.75zM356.67 220.76h1.75v4.70h-1.75zM359.17 220.76h1.75v4.70h-1.75zM369.18 220.76h1.75v4.70h-1.75zM374.19 220.76h1.75v4.70h-1.75zM379.19 220.76h1.75v4.70h-1.75zM381.69 220.76h1.75v4.70h-1.75zM384.20 220.76h1.75v4.70h-1.75zM386.70 220.76h1.75v4.70h-1.75zM389.20 220.76h1.75v4.70h-1.75zM391.71 220.76h1.75v4.70h-1.75zM394.21 220.76h1.75v4.70h-1.75zM399.21 220.76h1.75v4.70h-1.75zM401.72 220.76h1.75v4.70h-1.75zM404.22 220.76h1.75v4.70h-1.75zM409.22 220.76h1.75v4.70h-1.75zM411.73 220.76h1.75v4.70h-1.75zM414.23 220.76h1.75v4.70h-1.75zM416.73 220.76h1.75v4.70h-1.75zM419.24 220.76h1.75v4.70h-1.75zM421.74 220.76h1.75v4.70h-1.75zM424.24 220.76h1.75v4.70h-1.75zM429.25 220.76h1.75v4.70h-1.75zM431.75 220.76h1.75v4.70h-1.75zM434.25 220.76h1.75v4.70h-1.75zM436.75 220.76h1.75v4.70h-1.75zM441.76 220.76h1.75v4.70h-1.75zM449.27 220.76h1.75v4.70h-1.75zM451.77 220.76h1.75v4.70h-1.75zM454.27 220.76h1.75v4.70h-1.75zM456.78 220.76h1.75v4.70h-1.75zM464.28 220.76h1.75v4.70h-1.75zM466.79 220.76h1.75v4.70h-1.75zM469.29 220.76h1.75v4.70h-1.75zM471.79 220.76h1.75v4.70h-1.75zM474.29 220.76h1.75v4.70h-1.75zM476.80 220.76h1.75v4.70h-1.75z"/>
<path fill="#d9157a" d="M28.81 220.76h1.75v4.70h-1.75zM38.82 220.76h1.75v4.70h-1.75zM48.84 220.76h1.75v4.70h-1.75zM53.84 220.76h1.75v4.70h-1.75zM73.86 220.76h1.75v4.70h-1.75zM101.39 220.76h1.75v4.70h-1.75zM103.89 220.76h1.75v4.70h-1.75zM128.92 220.76h1.75v4.70h-1.75zM141.44 220.76h1.75v4.70h-1.75zM178.98 220.76h1.75v4.70h-1.75zM211.51 220.76h1.75v4.70h-1.75zM229.03 220.76h1.75v4.70h-1.75zM231.53 220.76h1.75v4.70h-1.75zM259.06 220.76h1.75v4.70h-1.75zM269.07 220.76h1.75v4.70h-1.75zM329.14 220.76h1.75v4.70h-1.75zM364.18 220.76h1.75v4.70h-1.75zM366.68 220.76h1.75v4.70h-1.75zM376.69 220.76h1.75v4.70h-1.75zM444.26 220.76h1.75v4.70h-1.75z"/>
<path fill="#ececec" d="M23.81 226.48h1.75v4.70h-1.75zM41.33 226.48h1.75v4.70h-1.75zM46.33 226.48h1.75v4.70h-1.75zM51.34 226.48h1.75v4.70h-1.75zM58.85 226.48h1.75v4.70h-1.75zM61.35 226.48h1.75v4.70h-1.75zM63.85 226.48h1.75v4.70h-1.75zM83.87 226.48h1.75v4.70h-1.75zM96.39 226.48h1.75v4.70h-1.75zM138.93 226.48h1.75v4.70h-1.75zM148.94 226.48h1.75v4.70h-1.75zM151.45 226.48h1.75v4.70h-1.75zM166.46 226.48h1.75v4.70h-1.75zM168.96 226.48h1.75v4.70h-1.75zM171.47 226.48h1.75v4.70h-1.75zM176.47 226.48h1.75v4.70h-1.75zM183.98 226.48h1.75v4.70h-1.75zM186.48 226.48h1.75v4.70h-1.75zM214.01 226.48h1.75v4.70h-1.75zM219.02 226.48h1.75v4.70h-1.75zM224.02 226.48h1.75v4.70h-1.75zM241.54 226.48h1.75v4.70h-1.75zM244.05 226.48h1.75v4.70h-1.75zM254.06 226.48h1.75v4.70h-1.75zM286.59 226.48h1.75v4.70h-1.75zM289.09 226.48h1.75v4.70h-1.75zM321.63 226.48h1.75v4.70h-1.75zM334.14 226.48h1.75v4.70h-1.75zM336.65 226.48h1.75v4.70h-1.75zM339.15 226.48h1.75v4.70h-1.75zM361.67 226.48h1.75v4.70h-1.75zM371.68 226.48h1.75v4.70h-1.75zM396.71 226.48h1.75v4.70h-1.75zM409.22 226.48h1.75v4.70h-1.75zM421.74 226.48h1.75v4.70h-1.75zM426.74 226.48h1.75v4.70h-1.75zM439.26 226.48h1.75v4.70h-1.75zM446.76 226.48h1.75v4.70h-1.75zM461.78 226.48h1.75v4.70h-1.75z"/>
<path fill="#a4d8f0" d="M18.80 226.48h1.75v4.70h-1.75zM26.31 226.48h1.75v4.70h-1.75zM28.81 226.48h1.75v4.70h-1.75zM36.32 226.48h1.75v4.70h-1.75zM38.82 226.48h1.75v4.70h-1.75zM86.38 226.48h1.75v4.70h-1.75zM98.89 226.48h1.75v4.70h-1.75zM101.39 226.48h1.75v4.70h-1.75zM111.40 226.48h1.75v4.70h-1.75zM116.41 226.48h1.75v4.70h-1.75zM118.91 226.48h1.75v4.70h-1.75zM128.92 226.48h1.75v4.70h-1.75zM133.93 226.48h1.75v4.70h-1.75zM136.43 226.48h1.75v4.70h-1.75zM146.44 226.48h1.75v4.70h-1.75zM153.95 226.48h1.75v4.70h-1.75zM156.45 226.48h1.75v4.70h-1.75zM161.46 226.48h1.75v4.70h-1.75zM163.96 226.48h1.75v4.70h-1.75zM181.48 226.48h1.75v4.70h-1.75zM191.49 226.48h1.75v4.70h-1.75zM196.49 226.48h1.75v4.70h-1.75zM201.50 226.48h1.75v4.70h-1.75zM204.00 226.48h1.75v4.70h-1.75zM206.51 226.48h1.75v4.70h-1.75zM211.51 226.48h1.75v4.70h-1.75zM216.52 226.48h1.75v4.70h-1.75zM226.53 226.48h1.75v4.70h-1.75zM234.04 226.48h1.75v4.70h-1.75zM236.54 226.48h1.75v4.70h-1.75zM246.55 226.48h1.75v4.70h-1.75zM249.05 226.48h1.75v4.70h-1.75zM251.55 226.48h1.75v4.70h-1.75zM256.56 226.48h1.75v4.70h-1.75zM261.56 226.48h1.75v4.70h-1.75zM264.07 226.48h1.75v4.70h-1.75zM271.58 226.48h1.75v4.70h-1.75zM276.58 226.48h1.75v4.70h-1.75zM279.08 226.48h1.75v4.70h-1.75zM281.59 226.48h1.75v4.70h-1.75zM291.60 226.48h1.75v4.70h-1.75zM299.11 226.48h1.75v4.70h-1.75zM301.61 226.48h1.75v4.70h-1.75zM311.62 226.48h1.75v4.70h-1.75zM314.12 226.48h1.75v4.70h-1.75zM316.62 226.48h1.75v4.70h-1.75zM319.13 226.48h1.75v4.70h-1.75zM326.64 226.48h1.75v4.70h-1.75zM329.14 226.48h1.75v4.70h-1.75zM344.15 226.48h1.75v4.70h-1.75zM349.16 226.48h1.75v4.70h-1.75zM351.66 226.48h1.75v4.70h-1.75zM354.16 226.48h1.75v4.70h-1.75zM369.18 226.48h1.75v4.70h-1.75zM374.19 226.48h1.75v4.70h-1.75zM386.70 226.48h1.75v4.70h-1.75zM389.20 226.48h1.75v4.70h-1.75zM391.71 226.48h1.75v4.70h-1.75zM404.22 226.48h1.75v4.70h-1.75zM414.23 226.48h1.75v4.70h-1.75zM416.73 226.48h1.75v4.70h-1.75zM441.76 226.48h1.75v4.70h-1.75zM444.26 226.48h1.75v4.70h-1.75zM449.27 226.48h1.75v4.70h-1.75zM451.77 226.48h1.75v4.70h-1.75zM454.27 226.48h1.75v4.70h-1.75zM469.29 226.48h1.75v4.70h-1.75zM471.79 226.48h1.75v4.70h-1.75zM474.29 226.48h1.75v4.70h-1.75zM476.80 226.48h1.75v4.70h-1.75z"/>
<path fill="#1f4597" d="M16.30 226.48h1.75v4.70h-1.75zM21.31 226.48h1.75v4.70h-1.75zM31.32 226.48h1.75v4.70h-1.75zM33.82 226.48h1.75v4.70h-1.75zM43.83 226.48h1.75v4.70h-1.75zM48.84 226.48h1.75v4.70h-1.75zM53.84 226.48h1.75v4.70h-1.75zM56.34 226.48h1.75v4.70h-1.75zM66.35 226.48h1.75v4.70h-1.75zM68.86 226.48h1.75v4.70h-1.75zM71.36 226.48h1.75v4.70h-1.75zM73.86 226.48h1.75v4.70h-1.75zM76.36 226.48h1.75v4.70h-1.75zM78.87 226.48h1.75v4.70h-1.75zM81.37 226.48h1.75v4.70h-1.75zM88.88 226.48h1.75v4.70h-1.75zM91.38 226.48h1.75v4.70h-1.75zM93.88 226.48h1.75v4.70h-1.75zM103.89 226.48h1.75v4.70h-1.75zM106.40 226.48h1.75v4.70h-1.75zM108.90 226.48h1.75v4.70h-1.75zM113.91 226.48h1.75v4.70h-1.75zM121.41 226.48h1.75v4.70h-1.75zM123.92 226.48h1.75v4.70h-1.75zM126.42 226.48h1.75v4.70h-1.75zM131.42 226.48h1.75v4.70h-1.75zM141.44 226.48h1.75v4.70h-1.75zM143.94 226.48h1.75v4.70h-1.75zM158.95 226.48h1.75v4.70h-1.75zM173.97 226.48h1.75v4.70h-1.75zM178.98 226.48h1.75v4.70h-1.75zM188.99 226.48h1.75v4.70h-1.75zM193.99 226.48h1.75v4.70h-1.75zM199.00 226.48h1.75v4.70h-1.75zM209.01 226.48h1.75v4.70h-1.75zM221.52 226.48h1.75v4.70h-1.75zM229.03 226.48h1.75v4.70h-1.75zM231.53 226.48h1.75v4.70h-1.75zM239.04 226.48h1.75v4.70h-1.75zM259.06 226.48h1.75v4.70h-1.75zM266.57 226.48h1.75v4.70h-1.75zM269.07 226.48h1.75v4.70h-1.75zM274.08 226.48h1.75v4.70h-1.75zM284.09 226.48h1.75v4.70h-1.75zM294.10 226.48h1.75v4.70h-1.75zM296.60 226.48h1.75v4.70h-1.75zM304.11 226.48h1.75v4.70h-1.75zM306.61 226.48h1.75v4.70h-1.75zM309.12 226.48h1.75v4.70h-1.75zM324.13 226.48h1.75v4.70h-1.75zM331.64 226.48h1.75v4.70h-1.75zM341.65 226.48h1.75v4.70h-1.75zM346.66 226.48h1.75v4.70h-1.75zM356.67 226.48h1.75v4.70h-1.75zM359.17 226.48h1.75v4.70h-1.75zM364.18 226.48h1.75v4.70h-1.75zM366.68 226.48h1.75v4.70h-1.75zM376.69 226.48h1.75v4.70h-1.75zM379.19 226.48h1.75v4.70h-1.75zM381.69 226.48h1.75v4.70h-1.75zM384.20 226.48h1.75v4.70h-1.75zM394.21 226.48h1.75v4.70h-1.75zM399.21 226.48h1.75v4.70h-1.75zM401.72 226.48h1.75v4.70h-1.75zM406.72 226.48h1.75v4.70h-1.75zM411.73 226.48h1.75v4.70h-1.75zM419.24 226.48h1.75v4.70h-1.75zM424.24 226.48h1.75v4.70h-1.75zM429.25 226.48h1.75v4.70h-1.75zM431.75 226.48h1.75v4.70h-1.75zM434.25 226.48h1.75v4.70h-1.75zM436.75 226.48h1.75v4.70h-1.75zM456.78 226.48h1.75v4.70h-1.75zM459.28 226.48h1.75v4.70h-1.75zM464.28 226.48h1.75v4.70h-1.75zM466.79 226.48h1.75v4.70h-1.75z"/>
<path fill="#ececec" d="M23.81 232.20h1.75v4.70h-1.75zM41.33 232.20h1.75v4.70h-1.75zM46.33 232.20h1.75v4.70h-1.75zM51.34 232.20h1.75v4.70h-1.75zM58.85 232.20h1.75v4.70h-1.75zM63.85 232.20h1.75v4.70h-1.75zM68.86 232.20h1.75v4.70h-1.75zM83.87 232.20h1.75v4.70h-1.75zM96.39 232.20h1.75v4.70h-1.75zM108.90 232.20h1.75v4.70h-1.75zM148.94 232.20h1.75v4.70h-1.75zM151.45 232.20h1.75v4.70h-1.75zM166.46 232.20h1.75v4.70h-1.75zM168.96 232.20h1.75v4.70h-1.75zM171.47 232.20h1.75v4.70h-1.75zM176.47 232.20h1.75v4.70h-1.75zM183.98 232.20h1.75v4.70h-1.75zM186.48 232.20h1.75v4.70h-1.75zM214.01 232.20h1.75v4.70h-1.75zM219.02 232.20h1.75v4.70h-1.75zM224.02 232.20h1.75v4.70h-1.75zM254.06 232.20h1.75v4.70h-1.75zM286.59 232.20h1.75v4.70h-1.75zM334.14 232.20h1.75v4.70h-1.75zM336.65 232.20h1.75v4.70h-1.75zM339.15 232.20h1.75v4.70h-1.75zM361.67 232.20h1.75v4.70h-1.75zM364.18 232.20h1.75v4.70h-1.75zM371.68 232.20h1.75v4.70h-1.75zM396.71 232.20h1.75v4.70h-1.75zM426.74 232.20h1.75v4.70h-1.75zM439.26 232.20h1.75v4.70h-1.75zM441.76 232.20h1.75v4.70h-1.75zM446.76 232.20h1.75v4.70h-1.75zM461.78 232.20h1.75v4.70h-1.75z"/>
<path fill="#a4d8f0" d="M16.30 232.20h1.75v4.70h-1.75zM18.80 232.20h1.75v4.70h-1.75zM21.31 232.20h1.75v4.70h-1.75zM28.81 232.20h1.75v4.70h-1.75zM31.32 232.20h1.75v4.70h-1.75zM33.82 232.20h1.75v4.70h-1.75zM36.32 232.20h1.75v4.70h-1.75zM38.82 232.20h1.75v4.70h-1.75zM43.83 232.20h1.75v4.70h-1.75zM48.84 232.20h1.75v4.70h-1.75zM53.84 232.20h1.75v4.70h-1.75zM66.35 232.20h1.75v4.70h-1.75zM71.36 232.20h1.75v4.70h-1.75zM76.36 232.20h1.75v4.70h-1.75zM78.87 232.20h1.75v4.70h-1.75zM81.37 232.20h1.75v4.70h-1.75zM86.38 232.20h1.75v4.70h-1.75zM91.38 232.20h1.75v4.70h-1.75zM98.89 232.20h1.75v4.70h-1.75zM101.39 232.20h1.75v4.70h-1.75zM103.89 232.20h1.75v4.70h-1.75zM106.40 232.20h1.75v4.70h-1.75zM113.91 232.20h1.75v4.70h-1.75zM116.41 232.20h1.75v4.70h-1.75zM121.41 232.20h1.75v4.70h-1.75zM128.92 232.20h1.75v4.70h-1.75zM131.42 232.20h1.75v4.70h-1.75zM138.93 232.20h1.75v4.70h-1.75zM141.44 232.20h1.75v4.70h-1.75zM143.94 232.20h1.75v4.70h-1.75zM146.44 232.20h1.75v4.70h-1.75zM153.95 232.20h1.75v4.70h-1.75zM156.45 232.20h1.75v4.70h-1.75zM158.95 232.20h1.75v4.70h-1.75zM163.96 232.20h1.75v4.70h-1.75zM178.98 232.20h1.75v4.70h-1.75zM181.48 232.20h1.75v4.70h-1.75zM188.99 232.20h1.75v4.70h-1.75zM196.49 232.20h1.75v4.70h-1.75zM201.50 232.20h1.75v4.70h-1.75zM209.01 232.20h1.75v4.70h-1.75zM211.51 232.20h1.75v4.70h-1.75zM221.52 232.20h1.75v4.70h-1.75zM226.53 232.20h1.75v4.70h-1.75zM229.03 232.20h1.75v4.70h-1.75zM231.53 232.20h1.75v4.70h-1.75zM234.04 232.20h1.75v4.70h-1.75zM239.04 232.20h1.75v4.70h-1.75zM241.54 232.20h1.75v4.70h-1.75zM244.05 232.20h1.75v4.70h-1.75zM246.55 232.20h1.75v4.70h-1.75zM249.05 232.20h1.75v4.70h-1.75zM251.55 232.20h1.75v4.70h-1.75zM256.56 232.20h1.75v4.70h-1.75zM259.06 232.20h1.75v4.70h-1.75zM264.07 232.20h1.75v4.70h-1.75zM266.57 232.20h1.75v4.70h-1.75zM271.58 232.20h1.75v4.70h-1.75zM274.08 232.20h1.75v4.70h-1.75zM276.58 232.20h1.75v4.70h-1.75zM279.08 232.20h1.75v4.70h-1.75zM296.60 232.20h1.75v4.70h-1.75zM301.61 232.20h1.75v4.70h-1.75zM304.11 232.20h1.75v4.70h-1.75zM306.61 232.20h1.75v4.70h-1.75zM309.12 232.20h1.75v4.70h-1.75zM314.12 232.20h1.75v4.70h-1.75zM316.62 232.20h1.75v4.70h-1.75zM319.13 232.20h1.75v4.70h-1.75zM324.13 232.20h1.75v4.70h-1.75zM331.64 232.20h1.75v4.70h-1.75zM344.15 232.20h1.75v4.70h-1.75zM346.66 232.20h1.75v4.70h-1.75zM349.16 232.20h1.75v4.70h-1.75zM351.66 232.20h1.75v4.70h-1.75zM354.16 232.20h1.75v4.70h-1.75zM356.67 232.20h1.75v4.70h-1.75zM366.68 232.20h1.75v4.70h-1.75zM369.18 232.20h1.75v4.70h-1.75zM379.19 232.20h1.75v4.70h-1.75zM381.69 232.20h1.75v4.70h-1.75zM384.20 232.20h1.75v4.70h-1.75zM389.20 232.20h1.75v4.70h-1.75zM391.71 232.20h1.75v4.70h-1.75zM394.21 232.20h1.75v4.70h-1.75zM399.21 232.20h1.75v4.70h-1.75zM401.72 232.20h1.75v4.70h-1.75zM406.72 232.20h1.75v4.70h-1.75zM409.22 232.20h1.75v4.70h-1.75zM414.23 232.20h1.75v4.70h-1.75zM419.24 232.20h1.75v4.70h-1.75zM421.74 232.20h1.75v4.70h-1.75zM424.24 232.20h1.75v4.70h-1.75zM429.25 232.20h1.75v4.70h-1.75zM434.25 232.20h1.75v4.70h-1.75zM436.75 232.20h1.75v4.70h-1.75zM449.27 232.20h1.75v4.70h-1.75zM451.77 232.20h1.75v4.70h-1.75zM454.27 232.20h1.75v4.70h-1.75zM456.78 232.20h1.75v4.70h-1.75zM459.28 232.20h1.75v4.70h-1.75zM464.28 232.20h1.75v4.70h-1.75zM466.79 232.20h1.75v4.70h-1.75zM469.29 232.20h1.75v4.70h-1.75zM474.29 232.20h1.75v4.70h-1.75z"/>
<path fill="#1f4597" d="M26.31 232.20h1.75v4.70h-1.75zM56.34 232.20h1.75v4.70h-1.75zM61.35 232.20h1.75v4.70h-1.75zM73.86 232.20h1.75v4.70h-1.75zM88.88 232.20h1.75v4.70h-1.75zM93.88 232.20h1.75v4.70h-1.75zM111.40 232.20h1.75v4.70h-1.75zM118.91 232.20h1.75v4.70h-1.75zM123.92 232.20h1.75v4.70h-1.75zM126.42 232.20h1.75v4.70h-1.75zM133.93 232.20h1.75v4.70h-1.75zM136.43 232.20h1.75v4.70h-1.75zM161.46 232.20h1.75v4.70h-1.75zM173.97 232.20h1.75v4.70h-1.75zM191.49 232.20h1.75v4.70h-1.75zM193.99 232.20h1.75v4.70h-1.75zM199.00 232.20h1.75v4.70h-1.75zM204.00 232.20h1.75v4.70h-1.75zM206.51 232.20h1.75v4.70h-1.75zM216.52 232.20h1.75v4.70h-1.75zM236.54 232.20h1.75v4.70h-1.75zM261.56 232.20h1.75v4.70h-1.75zM269.07 232.20h1.75v4.70h-1.75zM281.59 232.20h1.75v4.70h-1.75zM284.09 232.20h1.75v4.70h-1.75zM289.09 232.20h1.75v4.70h-1.75zM291.60 232.20h1.75v4.70h-1.75zM294.10 232.20h1.75v4.70h-1.75zM299.11 232.20h1.75v4.70h-1.75zM311.62 232.20h1.75v4.70h-1.75zM321.63 232.20h1.75v4.70h-1.75zM326.64 232.20h1.75v4.70h-1.75zM329.14 232.20h1.75v4.70h-1.75zM341.65 232.20h1.75v4.70h-1.75zM359.17 232.20h1.75v4.70h-1.75zM374.19 232.20h1.75v4.70h-1.75zM376.69 232.20h1.75v4.70h-1.75zM386.70 232.20h1.75v4.70h-1.75zM404.22 232.20h1.75v4.70h-1.75zM411.73 232.20h1.75v4.70h-1.75zM416.73 232.20h1.75v4.70h-1.75zM431.75 232.20h1.75v4.70h-1.75zM444.26 232.20h1.75v4.70h-1.75zM471.79 232.20h1.75v4.70h-1.75zM476.80 232.20h1.75v4.70h-1.75z"/>
<path fill="#ececec" d="M23.81 237.92h1.75v4.70h-1.75zM41.33 237.92h1.75v4.70h-1.75zM46.33 237.92h1.75v4.70h-1.75zM51.34 237.92h1.75v4.70h-1.75zM58.85 237.92h1.75v4.70h-1.75zM63.85 237.92h1.75v4.70h-1.75zM83.87 237.92h1.75v4.70h-1.75zM88.88 237.92h1.75v4.70h-1.75zM96.39 237.92h1.75v4.70h-1.75zM148.94 237.92h1.75v4.70h-1.75zM151.45 237.92h1.75v4.70h-1.75zM166.46 237.92h1.75v4.70h-1.75zM168.96 237.92h1.75v4.70h-1.75zM171.47 237.92h1.75v4.70h-1.75zM176.47 237.92h1.75v4.70h-1.75zM183.98 237.92h1.75v4.70h-1.75zM186.48 237.92h1.75v4.70h-1.75zM214.01 237.92h1.75v4.70h-1.75zM219.02 237.92h1.75v4.70h-1.75zM224.02 237.92h1.75v4.70h-1.75zM226.53 237.92h1.75v4.70h-1.75zM254.06 237.92h1.75v4.70h-1.75zM286.59 237.92h1.75v4.70h-1.75zM301.61 237.92h1.75v4.70h-1.75zM334.14 237.92h1.75v4.70h-1.75zM336.65 237.92h1.75v4.70h-1.75zM339.15 237.92h1.75v4.70h-1.75zM361.67 237.92h1.75v4.70h-1.75zM366.68 237.92h1.75v4.70h-1.75zM371.68 237.92h1.75v4.70h-1.75zM384.20 237.92h1.75v4.70h-1.75zM396.71 237.92h1.75v4.70h-1.75zM426.74 237.92h1.75v4.70h-1.75zM439.26 237.92h1.75v4.70h-1.75zM446.76 237.92h1.75v4.70h-1.75zM456.78 237.92h1.75v4.70h-1.75zM461.78 237.92h1.75v4.70h-1.75z"/>
<path fill="#fcbf7e" d="M16.30 237.92h1.75v4.70h-1.75zM18.80 237.92h1.75v4.70h-1.75zM21.31 237.92h1.75v4.70h-1.75zM26.31 237.92h1.75v4.70h-1.75zM28.81 237.92h1.75v4.70h-1.75zM31.32 237.92h1.75v4.70h-1.75zM33.82 237.92h1.75v4.70h-1.75zM36.32 237.92h1.75v4.70h-1.75zM38.82 237.92h1.75v4.70h-1.75zM53.84 237.92h1.75v4.70h-1.75zM61.35 237.92h1.75v4.70h-1.75zM66.35 237.92h1.75v4.70h-1.75zM68.86 237.92h1.75v4.70h-1.75zM76.36 237.92h1.75v4.70h-1.75zM91.38 237.92h1.75v4.70h-1.75zM93.88 237.92h1.75v4.70h-1.75zM101.39 237.92h1.75v4.70h-1.75zM106.40 237.92h1.75v4.70h-1.75zM108.90 237.92h1.75v4.70h-1.75zM113.91 237.92h1.75v4.70h-1.75zM118.91 237.92h1.75v4.70h-1.75zM126.42 237.92h1.75v4.70h-1.75zM136.43 237.92h1.75v4.70h-1.75zM138.93 237.92h1.75v4.70h-1.75zM141.44 237.92h1.75v4.70h-1.75zM153.95 237.92h1.75v4.70h-1.75zM161.46 237.92h1.75v4.70h-1.75zM163.96 237.92h1.75v4.70h-1.75zM181.48 237.92h1.75v4.70h-1.75zM191.49 237.92h1.75v4.70h-1.75zM193.99 237.92h1.75v4.70h-1.75zM196.49 237.92h1.75v4.70h-1.75zM199.00 237.92h1.75v4.70h-1.75zM201.50 237.92h1.75v4.70h-1.75zM209.01 237.92h1.75v4.70h-1.75zM221.52 237.92h1.75v4.70h-1.75zM239.04 237.92h1.75v4.70h-1.75zM241.54 237.92h1.75v4.70h-1.75zM249.05 237.92h1.75v4.70h-1.75zM251.55 237.92h1.75v4.70h-1.75zM259.06 237.92h1.75v4.70h-1.75zM261.56 237.92h1.75v4.70h-1.75zM269.07 237.92h1.75v4.70h-1.75zM271.58 237.92h1.75v4.70h-1.75zM274.08 237.92h1.75v4.70h-1.75zM284.09 237.92h1.75v4.70h-1.75zM294.10 237.92h1.75v4.70h-1.75zM296.60 237.92h1.75v4.70h-1.75zM299.11 237.92h1.75v4.70h-1.75zM309.12 237.92h1.75v4.70h-1.75zM311.62 237.92h1.75v4.70h-1.75zM314.12 237.92h1.75v4.70h-1.75zM326.64 237.92h1.75v4.70h-1.75zM346.66 237.92h1.75v4.70h-1.75zM349.16 237.92h1.75v4.70h-1.75zM374.19 237.92h1.75v4.70h-1.75zM401.72 237.92h1.75v4.70h-1.75zM411.73 237.92h1.75v4.70h-1.75zM416.73 237.92h1.75v4.70h-1.75zM424.24 237.92h1.75v4.70h-1.75zM429.25 237.92h1.75v4.70h-1.75zM431.75 237.92h1.75v4.70h-1.75zM441.76 237.92h1.75v4.70h-1.75zM444.26 237.92h1.75v4.70h-1.75zM459.28 237.92h1.75v4.70h-1.75zM466.79 237.92h1.75v4.70h-1.75zM469.29 237.92h1.75v4.70h-1.75z"/>
<path fill="#e8660f" d="M43.83 237.92h1.75v4.70h-1.75zM48.84 237.92h1.75v4.70h-1.75zM56.34 237.92h1.75v4.70h-1.75zM71.36 237.92h1.75v4.70h-1.75zM73.86 237.92h1.75v4.70h-1.75zM78.87 237.92h1.75v4.70h-1.75zM81.37 237.92h1.75v4.70h-1.75zM86.38 237.92h1.75v4.70h-1.75zM98.89 237.92h1.75v4.70h-1.75zM103.89 237.92h1.75v4.70h-1.75zM111.40 237.92h1.75v4.70h-1.75zM116.41 237.92h1.75v4.70h-1.75zM121.41 237.92h1.75v4.70h-1.75zM123.92 237.92h1.75v4.70h-1.75zM128.92 237.92h1.75v4.70h-1.75zM131.42 237.92h1.75v4.70h-1.75zM133.93 237.92h1.75v4.70h-1.75zM143.94 237.92h1.75v4.70h-1.75zM146.44 237.92h1.75v4.70h-1.75zM156.45 237.92h1.75v4.70h-1.75zM158.95 237.92h1.75v4.70h-1.75zM173.97 237.92h1.75v4.70h-1.75zM178.98 237.92h1.75v4.70h-1.75zM188.99 237.92h1.75v4.70h-1.75zM204.00 237.92h1.75v4.70h-1.75zM206.51 237.92h1.75v4.70h-1.75zM211.51 237.92h1.75v4.70h-1.75zM216.52 237.92h1.75v4.70h-1.75zM229.03 237.92h1.75v4.70h-1.75zM231.53 237.92h1.75v4.70h-1.75zM234.04 237.92h1.75v4.70h-1.75zM236.54 237.92h1.75v4.70h-1.75zM244.05 237.92h1.75v4.70h-1.75zM246.55 237.92h1.75v4.70h-1.75zM256.56 237.92h1.75v4.70h-1.75zM264.07 237.92h1.75v4.70h-1.75zM266.57 237.92h1.75v4.70h-1.75zM276.58 237.92h1.75v4.70h-1.75zM279.08 237.92h1.75v4.70h-1.75zM281.59 237.92h1.75v4.70h-1.75zM289.09 237.92h1.75v4.70h-1.75zM291.60 237.92h1.75v4.70h-1.75zM304.11 237.92h1.75v4.70h-1.75zM306.61 237.92h1.75v4.70h-1.75zM316.62 237.92h1.75v4.70h-1.75zM319.13 237.92h1.75v4.70h-1.75zM321.63 237.92h1.75v4.70h-1.75zM324.13 237.92h1.75v4.70h-1.75zM329.14 237.92h1.75v4.70h-1.75zM331.64 237.92h1.75v4.70h-1.75zM341.65 237.92h1.75v4.70h-1.75zM344.15 237.92h1.75v4.70h-1.75zM351.66 237.92h1.75v4.70h-1.75zM354.16 237.92h1.75v4.70h-1.75zM356.67 237.92h1.75v4.70h-1.75zM359.17 237.92h1.75v4.70h-1.75zM364.18 237.92h1.75v4.70h-1.75zM369.18 237.92h1.75v4.70h-1.75zM376.69 237.92h1.75v4.70h-1.75zM379.19 237.92h1.75v4.70h-1.75zM381.69 237.92h1.75v4.70h-1.75zM386.70 237.92h1.75v4.70h-1.75zM389.20 237.92h1.75v4.70h-1.75zM391.71 237.92h1.75v4.70h-1.75zM394.21 237.92h1.75v4.70h-1.75zM399.21 237.92h1.75v4.70h-1.75zM404.22 237.92h1.75v4.70h-1.75zM406.72 237.92h1.75v4.70h-1.75zM409.22 237.92h1.75v4.70h-1.75zM414.23 237.92h1.75v4.70h-1.75zM419.24 237.92h1.75v4.70h-1.75zM421.74 237.92h1.75v4.70h-1.75zM434.25 237.92h1.75v4.70h-1.75zM436.75 237.92h1.75v4.70h-1.75zM449.27 237.92h1.75v4.70h-1.75zM451.77 237.92h1.75v4.70h-1.75zM454.27 237.92h1.75v4.70h-1.75zM464.28 237.92h1.75v4.70h-1.75zM471.79 237.92h1.75v4.70h-1.75zM474.29 237.92h1.75v4.70h-1.75zM476.80 237.92h1.75v4.70h-1.75z"/>
<path fill="#ececec" d="M18.80 243.64h1.75v4.70h-1.75zM23.81 243.64h1.75v4.70h-1.75zM41.33 243.64h1.75v4.70h-1.75zM46.33 243.64h1.75v4.70h-1.75zM51.34 243.64h1.75v4.70h-1.75zM58.85 243.64h1.75v4.70h-1.75zM63.85 243.64h1.75v4.70h-1.75zM73.86 243.64h1.75v4.70h-1.75zM83.87 243.64h1.75v4.70h-1.75zM96.39 243.64h1.75v4.70h-1.75zM136.43 243.64h1.75v4.70h-1.75zM148.94 243.64h1.75v4.70h-1.75zM151.45 243.64h1.75v4.70h-1.75zM156.45 243.64h1.75v4.70h-1.75zM166.46 243.64h1.75v4.70h-1.75zM168.96 243.64h1.75v4.70h-1.75zM171.47 243.64h1.75v4.70h-1.75zM176.47 243.64h1.75v4.70h-1.75zM183.98 243.64h1.75v4.70h-1.75zM186.48 243.64h1.75v4.70h-1.75zM199.00 243.64h1.75v4.70h-1.75zM214.01 243.64h1.75v4.70h-1.75zM219.02 243.64h1.75v4.70h-1.75zM224.02 243.64h1.75v4.70h-1.75zM254.06 243.64h1.75v4.70h-1.75zM266.57 243.64h1.75v4.70h-1.75zM286.59 243.64h1.75v4.70h-1.75zM306.61 243.64h1.75v4.70h-1.75zM324.13 243.64h1.75v4.70h-1.75zM334.14 243.64h1.75v4.70h-1.75zM336.65 243.64h1.75v4.70h-1.75zM339.15 243.64h1.75v4.70h-1.75zM359.17 243.64h1.75v4.70h-1.75zM361.67 243.64h1.75v4.70h-1.75zM371.68 243.64h1.75v4.70h-1.75zM396.71 243.64h1.75v4.70h-1.75zM426.74 243.64h1.75v4.70h-1.75zM439.26 243.64h1.75v4.70h-1.75zM446.76 243.64h1.75v4.70h-1.75zM461.78 243.64h1.75v4.70h-1.75zM471.79 243.64h1.75v4.70h-1.75z"/>
<path fill="#fcbf7e" d="M16.30 243.64h1.75v4.70h-1.75zM21.31 243.64h1.75v4.70h-1.75zM28.81 243.64h1.75v4.70h-1.75zM31.32 243.64h1.75v4.70h-1.75zM33.82 243.64h1.75v4.70h-1.75zM36.32 243.64h1.75v4.70h-1.75zM86.38 243.64h1.75v4.70h-1.75zM88.88 243.64h1.75v4.70h-1.75zM93.88 243.64h1.75v4.70h-1.75zM98.89 243.64h1.75v4.70h-1.75zM101.39 243.64h1.75v4.70h-1.75zM103.89 243.64h1.75v4.70h-1.75zM106.40 243.64h1.75v4.70h-1.75zM111.40 243.64h1.75v4.70h-1.75zM118.91 243.64h1.75v4.70h-1.75zM123.92 243.64h1.75v4.70h-1.75zM128.92 243.64h1.75v4.70h-1.75zM131.42 243.64h1.75v4.70h-1.75zM146.44 243.64h1.75v4.70h-1.75zM153.95 243.64h1.75v4.70h-1.75zM173.97 243.64h1.75v4.70h-1.75zM178.98 243.64h1.75v4.70h-1.75zM188.99 243.64h1.75v4.70h-1.75zM201.50 243.64h1.75v4.70h-1.75zM211.51 243.64h1.75v4.70h-1.75zM216.52 243.64h1.75v4.70h-1.75zM226.53 243.64h1.75v4.70h-1.75zM241.54 243.64h1.75v4.70h-1.75zM251.55 243.64h1.75v4.70h-1.75zM271.58 243.64h1.75v4.70h-1.75zM289.09 243.64h1.75v4.70h-1.75zM291.60 243.64h1.75v4.70h-1.75zM294.10 243.64h1.75v4.70h-1.75zM296.60 243.64h1.75v4.70h-1.75zM309.12 243.64h1.75v4.70h-1.75zM311.62 243.64h1.75v4.70h-1.75zM319.13 243.64h1.75v4.70h-1.75zM326.64 243.64h1.75v4.70h-1.75zM331.64 243.64h1.75v4.70h-1.75zM341.65 243.64h1.75v4.70h-1.75zM351.66 243.64h1.75v4.70h-1.75zM356.67 243.64h1.75v4.70h-1.75zM374.19 243.64h1.75v4.70h-1.75zM376.69 243.64h1.75v4.70h-1.75zM379.19 243.64h1.75v4.70h-1.75zM381.69 243.64h1.75v4.70h-1.75zM384.20 243.64h1.75v4.70h-1.75zM394.21 243.64h1.75v4.70h-1.75zM404.22 243.64h1.75v4.70h-1.75zM406.72 243.64h1.75v4.70h-1.75zM409.22 243.64h1.75v4.70h-1.75zM414.23 243.64h1.75v4.70h-1.75zM416.73 243.64h1.75v4.70h-1.75zM431.75 243.64h1.75v4.70h-1.75zM441.76 243.64h1.75v4.70h-1.75zM444.26 243.64h1.75v4.70h-1.75zM451.77 243.64h1.75v4.70h-1.75zM454.27 243.64h1.75v4.70h-1.75zM456.78 243.64h1.75v4.70h-1.75zM464.28 243.64h1.75v4.70h-1.75zM466.79 243.64h1.75v4.70h-1.75z"/>
<path fill="#e8660f" d="M26.31 243.64h1.75v4.70h-1.75zM38.82 243.64h1.75v4.70h-1.75zM43.83 243.64h1.75v4.70h-1.75zM48.84 243.64h1.75v4.70h-1.75zM53.84 243.64h1.75v4.70h-1.75zM56.34 243.64h1.75v4.70h-1.75zM61.35 243.64h1.75v4.70h-1.75zM66.35 243.64h1.75v4.70h-1.75zM68.86 243.64h1.75v4.70h-1.75zM71.36 243.64h1.75v4.70h-1.75zM76.36 243.64h1.75v4.70h-1.75zM78.87 243.64h1.75v4.70h-1.75zM81.37 243.64h1.75v4.70h-1.75zM91.38 243.64h1.75v4.70h-1.75zM108.90 243.64h1.75v4.70h-1.75zM113.91 243.64h1.75v4.70h-1.75zM116.41 243.64h1.75v4.70h-1.75zM121.41 243.64h1.75v4.70h-1.75zM126.42 243.64h1.75v4.70h-1.75zM133.93 243.64h1.75v4.70h-1.75zM138.93 243.64h1.75v4.70h-1.75zM141.44 243.64h1.75v4.70h-1.75zM143.94 243.64h1.75v4.70h-1.75zM158.95 243.64h1.75v4.70h-1.75zM161.46 243.64h1.75v4.70h-1.75zM163.96 243.64h1.75v4.70h-1.75zM181.48 243.64h1.75v4.70h-1.75zM191.49 243.64h1.75v4.70h-1.75zM193.99 243.64h1.75v4.70h-1.75zM196.49 243.64h1.75v4.70h-1.75zM204.00 243.64h1.75v4.70h-1.75zM206.51 243.64h1.75v4.70h-1.75zM209.01 243.64h1.75v4.70h-1.75zM221.52 243.64h1.75v4.70h-1.75zM229.03 243.64h1.75v4.70h-1.75zM231.53 243.64h1.75v4.70h-1.75zM234.04 243.64h1.75v4.70h-1.75zM236.54 243.64h1.75v4.70h-1.75zM239.04 243.64h1.75v4.70h-1.75zM244.05 243.64h1.75v4.70h-1.75zM246.55 243.64h1.75v4.70h-1.75zM249.05 243.64h1.75v4.70h-1.75zM256.56 243.64h1.75v4.70h-1.75zM259.06 243.64h1.75v4.70h-1.75zM261.56 243.64h1.75v4.70h-1.75zM264.07 243.64h1.75v4.70h-1.75zM269.07 243.64h1.75v4.70h-1.75zM274.08 243.64h1.75v4.70h-1.75zM276.58 243.64h1.75v4.70h-1.75zM279.08 243.64h1.75v4.70h-1.75zM281.59 243.64h1.75v4.70h-1.75zM284.09 243.64h1.75v4.70h-1.75zM299.11 243.64h1.75v4.70h-1.75zM301.61 243.64h1.75v4.70h-1.75zM304.11 243.64h1.75v4.70h-1.75zM314.12 243.64h1.75v4.70h-1.75zM316.62 243.64h1.75v4.70h-1.75zM321.63 243.64h1.75v4.70h-1.75zM329.14 243.64h1.75v4.70h-1.75zM344.15 243.64h1.75v4.70h-1.75zM346.66 243.64h1.75v4.70h-1.75zM349.16 243.64h1.75v4.70h-1.75zM354.16 243.64h1.75v4.70h-1.75zM364.18 243.64h1.75v4.70h-1.75zM366.68 243.64h1.75v4.70h-1.75zM369.18 243.64h1.75v4.70h-1.75zM386.70 243.64h1.75v4.70h-1.75zM389.20 243.64h1.75v4.70h-1.75zM391.71 243.64h1.75v4.70h-1.75zM399.21 243.64h1.75v4.70h-1.75zM401.72 243.64h1.75v4.70h-1.75zM411.73 243.64h1.75v4.70h-1.75zM419.24 243.64h1.75v4.70h-1.75zM421.74 243.64h1.75v4.70h-1.75zM424.24 243.64h1.75v4.70h-1.75zM429.25 243.64h1.75v4.70h-1.75zM434.25 243.64h1.75v4.70h-1.75zM436.75 243.64h1.75v4.70h-1.75zM449.27 243.64h1.75v4.70h-1.75zM459.28 243.64h1.75v4.70h-1.75zM469.29 243.64h1.75v4.70h-1.75zM474.29 243.64h1.75v4.70h-1.75zM476.80 243.64h1.75v4.70h-1.75z"/>
<path fill="#ececec" d="M23.81 249.36h1.75v4.70h-1.75zM41.33 249.36h1.75v4.70h-1.75zM46.33 249.36h1.75v4.70h-1.75zM51.34 249.36h1.75v4.70h-1.75zM58.85 249.36h1.75v4.70h-1.75zM63.85 249.36h1.75v4.70h-1.75zM66.35 249.36h1.75v4.70h-1.75zM83.87 249.36h1.75v4.70h-1.75zM96.39 249.36h1.75v4.70h-1.75zM148.94 249.36h1.75v4.70h-1.75zM151.45 249.36h1.75v4.70h-1.75zM166.46 249.36h1.75v4.70h-1.75zM168.96 249.36h1.75v4.70h-1.75zM171.47 249.36h1.75v4.70h-1.75zM176.47 249.36h1.75v4.70h-1.75zM183.98 249.36h1.75v4.70h-1.75zM186.48 249.36h1.75v4.70h-1.75zM209.01 249.36h1.75v4.70h-1.75zM214.01 249.36h1.75v4.70h-1.75zM219.02 249.36h1.75v4.70h-1.75zM224.02 249.36h1.75v4.70h-1.75zM254.06 249.36h1.75v4.70h-1.75zM274.08 249.36h1.75v4.70h-1.75zM281.59 249.36h1.75v4.70h-1.75zM286.59 249.36h1.75v4.70h-1.75zM289.09 249.36h1.75v4.70h-1.75zM296.60 249.36h1.75v4.70h-1.75zM334.14 249.36h1.75v4.70h-1.75zM336.65 249.36h1.75v4.70h-1.75zM339.15 249.36h1.75v4.70h-1.75zM344.15 249.36h1.75v4.70h-1.75zM349.16 249.36h1.75v4.70h-1.75zM361.67 249.36h1.75v4.70h-1.75zM371.68 249.36h1.75v4.70h-1.75zM376.69 249.36h1.75v4.70h-1.75zM396.71 249.36h1.75v4.70h-1.75zM426.74 249.36h1.75v4.70h-1.75zM439.26 249.36h1.75v4.70h-1.75zM446.76 249.36h1.75v4.70h-1.75zM459.28 249.36h1.75v4.70h-1.75zM461.78 249.36h1.75v4.70h-1.75z"/>
<path fill="#fcbf7e" d="M16.30 249.36h1.75v4.70h-1.75zM18.80 249.36h1.75v4.70h-1.75zM21.31 249.36h1.75v4.70h-1.75zM26.31 249.36h1.75v4.70h-1.75zM36.32 249.36h1.75v4.70h-1.75zM38.82 249.36h1.75v4.70h-1.75zM43.83 249.36h1.75v4.70h-1.75zM53.84 249.36h1.75v4.70h-1.75zM68.86 249.36h1.75v4.70h-1.75zM71.36 249.36h1.75v4.70h-1.75zM73.86 249.36h1.75v4.70h-1.75zM76.36 249.36h1.75v4.70h-1.75zM78.87 249.36h1.75v4.70h-1.75zM91.38 249.36h1.75v4.70h-1.75zM93.88 249.36h1.75v4.70h-1.75zM98.89 249.36h1.75v4.70h-1.75zM101.39 249.36h1.75v4.70h-1.75zM103.89 249.36h1.75v4.70h-1.75zM108.90 249.36h1.75v4.70h-1.75zM111.40 249.36h1.75v4.70h-1.75zM113.91 249.36h1.75v4.70h-1.75zM116.41 249.36h1.75v4.70h-1.75zM118.91 249.36h1.75v4.70h-1.75zM126.42 249.36h1.75v4.70h-1.75zM128.92 249.36h1.75v4.70h-1.75zM131.42 249.36h1.75v4.70h-1.75zM136.43 249.36h1.75v4.70h-1.75zM138.93 249.36h1.75v4.70h-1.75zM141.44 249.36h1.75v4.70h-1.75zM143.94 249.36h1.75v4.70h-1.75zM146.44 249.36h1.75v4.70h-1.75zM153.95 249.36h1.75v4.70h-1.75zM158.95 249.36h1.75v4.70h-1.75zM173.97 249.36h1.75v4.70h-1.75zM191.49 249.36h1.75v4.70h-1.75zM193.99 249.36h1.75v4.70h-1.75zM206.51 249.36h1.75v4.70h-1.75zM221.52 249.36h1.75v4.70h-1.75zM226.53 249.36h1.75v4.70h-1.75zM229.03 249.36h1.75v4.70h-1.75zM239.04 249.36h1.75v4.70h-1.75zM244.05 249.36h1.75v4.70h-1.75zM249.05 249.36h1.75v4.70h-1.75zM256.56 249.36h1.75v4.70h-1.75zM271.58 249.36h1.75v4.70h-1.75zM276.58 249.36h1.75v4.70h-1.75zM279.08 249.36h1.75v4.70h-1.75zM284.09 249.36h1.75v4.70h-1.75zM301.61 249.36h1.75v4.70h-1.75zM304.11 249.36h1.75v4.70h-1.75zM306.61 249.36h1.75v4.70h-1.75zM309.12 249.36h1.75v4.70h-1.75zM311.62 249.36h1.75v4.70h-1.75zM314.12 249.36h1.75v4.70h-1.75zM316.62 249.36h1.75v4.70h-1.75zM321.63 249.36h1.75v4.70h-1.75zM324.13 249.36h1.75v4.70h-1.75zM326.64 249.36h1.75v4.70h-1.75zM329.14 249.36h1.75v4.70h-1.75zM341.65 249.36h1.75v4.70h-1.75zM346.66 249.36h1.75v4.70h-1.75zM356.67 249.36h1.75v4.70h-1.75zM366.68 249.36h1.75v4.70h-1.75zM374.19 249.36h1.75v4.70h-1.75zM379.19 249.36h1.75v4.70h-1.75zM381.69 249.36h1.75v4.70h-1.75zM389.20 249.36h1.75v4.70h-1.75zM391.71 249.36h1.75v4.70h-1.75zM394.21 249.36h1.75v4.70h-1.75zM404.22 249.36h1.75v4.70h-1.75zM406.72 249.36h1.75v4.70h-1.75zM414.23 249.36h1.75v4.70h-1.75zM421.74 249.36h1.75v4.70h-1.75zM429.25 249.36h1.75v4.70h-1.75zM431.75 249.36h1.75v4.70h-1.75zM444.26 249.36h1.75v4.70h-1.75zM454.27 249.36h1.75v4.70h-1.75zM456.78 249.36h1.75v4.70h-1.75zM464.28 249.36h1.75v4.70h-1.75zM469.29 249.36h1.75v4.70h-1.75z"/>
<path fill="#e8660f" d="M28.81 249.36h1.75v4.70h-1.75zM31.32 249.36h1.75v4.70h-1.75zM33.82 249.36h1.75v4.70h-1.75zM48.84 249.36h1.75v4.70h-1.75zM56.34 249.36h1.75v4.70h-1.75zM61.35 249.36h1.75v4.70h-1.75zM81.37 249.36h1.75v4.70h-1.75zM86.38 249.36h1.75v4.70h-1.75zM88.88 249.36h1.75v4.70h-1.75zM106.40 249.36h1.75v4.70h-1.75zM121.41 249.36h1.75v4.70h-1.75zM123.92 249.36h1.75v4.70h-1.75zM133.93 249.36h1.75v4.70h-1.75zM156.45 249.36h1.75v4.70h-1.75zM161.46 249.36h1.75v4.70h-1.75zM163.96 249.36h1.75v4.70h-1.75zM178.98 249.36h1.75v4.70h-1.75zM181.48 249.36h1.75v4.70h-1.75zM188.99 249.36h1.75v4.70h-1.75zM196.49 249.36h1.75v4.70h-1.75zM199.00 249.36h1.75v4.70h-1.75zM201.50 249.36h1.75v4.70h-1.75zM204.00 249.36h1.75v4.70h-1.75zM211.51 249.36h1.75v4.70h-1.75zM216.52 249.36h1.75v4.70h-1.75zM231.53 249.36h1.75v4.70h-1.75zM234.04 249.36h1.75v4.70h-1.75zM236.54 249.36h1.75v4.70h-1.75zM241.54 249.36h1.75v4.70h-1.75zM246.55 249.36h1.75v4.70h-1.75zM251.55 249.36h1.75v4.70h-1.75zM259.06 249.36h1.75v4.70h-1.75zM261.56 249.36h1.75v4.70h-1.75zM264.07 249.36h1.75v4.70h-1.75zM266.57 249.36h1.75v4.70h-1.75zM269.07 249.36h1.75v4.70h-1.75zM291.60 249.36h1.75v4.70h-1.75zM294.10 249.36h1.75v4.70h-1.75zM299.11 249.36h1.75v4.70h-1.75zM319.13 249.36h1.75v4.70h-1.75zM331.64 249.36h1.75v4.70h-1.75zM351.66 249.36h1.75v4.70h-1.75zM354.16 249.36h1.75v4.70h-1.75zM359.17 249.36h1.75v4.70h-1.75zM364.18 249.36h1.75v4.70h-1.75zM369.18 249.36h1.75v4.70h-1.75zM384.20 249.36h1.75v4.70h-1.75zM386.70 249.36h1.75v4.70h-1.75zM399.21 249.36h1.75v4.70h-1.75zM401.72 249.36h1.75v4.70h-1.75zM409.22 249.36h1.75v4.70h-1.75zM411.73 249.36h1.75v4.70h-1.75zM416.73 249.36h1.75v4.70h-1.75zM419.24 249.36h1.75v4.70h-1.75zM424.24 249.36h1.75v4.70h-1.75zM434.25 249.36h1.75v4.70h-1.75zM436.75 249.36h1.75v4.70h-1.75zM441.76 249.36h1.75v4.70h-1.75zM449.27 249.36h1.75v4.70h-1.75zM451.77 249.36h1.75v4.70h-1.75zM466.79 249.36h1.75v4.70h-1.75zM471.79 249.36h1.75v4.70h-1.75zM474.29 249.36h1.75v4.70h-1.75zM476.80 249.36h1.75v4.70h-1.75z"/>
<g font-size="6" fill="#111">
<text x="482" y="27.08">OR13A1</text>
<text x="482" y="33.05">MYC</text>
<text x="482" y="39.02">SLC25A27</text>
<text x="482" y="44.98">ALOX5</text>
<text x="482" y="50.95">TNFSF8</text>
<text x="482" y="56.92">PEG10</text>
<text x="482" y="62.88">GAMT</text>
<text x="482" y="68.85">SNHG19</text>
<text x="482" y="74.82">ORSL1</text>
<text x="482" y="80.78">RGCC</text>
<text x="482" y="86.75">JCHAIN</text>
<text x="482" y="92.72">CD24</text>
<text x="482" y="98.68">AFMID</text>
<text x="482" y="104.65">SMIM14</text>
<text x="482" y="110.62">SYBU</text>
<text x="482" y="116.58">GPR137B</text>
<text x="482" y="122.55">CDK5R1</text>
<text x="482" y="128.52">LY75</text>
<text x="482" y="134.48">VASP</text>
<text x="482" y="140.45">RFFL</text>
<text x="482" y="146.42">MIR155HG</text>
<text x="482" y="152.38">VOPP1</text>
<text x="482" y="158.35">BATF</text>
<text x="482" y="164.32">STAT3</text>
<text x="482" y="170.28">IRF4</text>
<text x="482" y="176.25">SGPP2</text>
<text x="482" y="182.22">CD80</text>
<text x="482" y="188.18">SEMA7A</text>
<text x="482" y="194.15">EBI3</text>
<text x="482" y="200.12">IL21R</text>
<text x="482" y="208.05">DZsig</text>
<text x="482" y="213.77">MYC</text>
<text x="482" y="219.49">BCL2</text>
<text x="482" y="225.21">DPE</text>
<text x="482" y="230.93">CD10</text>
<text x="482" y="236.65">MUM1</text>
<text x="482" y="242.37">CD3</text>
<text x="482" y="248.09">CD31</text>
<text x="482" y="253.81">CD68</text>
</g>
<g font-size="5.7" fill="#111">
<text x="21.0" y="266" font-size="5.60">DZsig</text>
<rect x="21.0" y="270.30" width="7.9" height="7.9" fill="#ff0d0d"/>
<text x="31.8" y="276.20">Pos</text>
<rect x="21.0" y="278.10" width="7.9" height="7.9" fill="#a01a22"/>
<text x="31.8" y="284.00">Ind</text>
<rect x="21.0" y="285.90" width="7.9" height="7.9" fill="#f4ec22"/>
<text x="31.8" y="291.80">Neg</text>
<text x="80.0" y="266" font-size="5.45">IHC (MYC, BCL2, DPE)</text>
<rect x="80.0" y="270.30" width="7.9" height="7.9" fill="#e2007a"/>
<text x="90.8" y="276.20">Pos</text>
<rect x="80.0" y="278.10" width="7.9" height="7.9" fill="#f6aac4"/>
<text x="90.8" y="284.00">Neg</text>
<rect x="80.0" y="285.90" width="7.9" height="7.9" fill="#dedede"/>
<text x="90.8" y="291.80">NA</text>
<text x="183.0" y="266" font-size="5.75">IHC (CD10, MUM1)</text>
<rect x="183.0" y="270.30" width="7.9" height="7.9" fill="#1b3c98"/>
<text x="193.8" y="276.20">Pos</text>
<rect x="183.0" y="278.10" width="7.9" height="7.9" fill="#86d2ea"/>
<text x="193.8" y="284.00">Neg</text>
<rect x="183.0" y="285.90" width="7.9" height="7.9" fill="#dedede"/>
<text x="193.8" y="291.80">NA</text>
<text x="271.7" y="266" font-size="5.62">IHC (CD3, CD31, CD68)</text>
<rect x="271.7" y="270.30" width="7.9" height="7.9" fill="#ea5a0a"/>
<text x="282.5" y="276.20">Pos</text>
<rect x="271.7" y="278.10" width="7.9" height="7.9" fill="#fab466"/>
<text x="282.5" y="284.00">Neg</text>
<rect x="271.7" y="285.90" width="7.9" height="7.9" fill="#dedede"/>
<text x="282.5" y="291.80">NA</text>
<defs><linearGradient id="cb" x1="0" x2="1" y1="0" y2="0"><stop offset="0" stop-color="#62bd3c"/><stop offset="0.5" stop-color="#100c0a"/><stop offset="1" stop-color="#ee1c24"/></linearGradient></defs>
<text x="405.3" y="267" text-anchor="middle">mRNA (Z score)</text>
<rect x="363.8" y="270.3" width="82.8" height="5.3" fill="url(#cb)"/>
<text x="365.4" y="283" text-anchor="middle">−3</text>
<text x="378.7" y="283" text-anchor="middle">−2</text>
<text x="392.1" y="283" text-anchor="middle">−1</text>
<text x="405.4" y="283" text-anchor="middle">0</text>
<text x="418.7" y="283" text-anchor="middle">1</text>
<text x="432.1" y="283" text-anchor="middle">2</text>
<text x="445.4" y="283" text-anchor="middle">3</text>
</g>
<g font-size="5.8" fill="#000">
<rect x="53" y="317.5" width="6" height="6" fill="#cc0a2a"/>
<text x="61.7" y="322.2">DPE</text>
<rect x="88" y="317.5" width="6" height="6" fill="#c4c4c8"/>
<text x="96" y="322.2">No DPE</text>
<rect x="46.3" y="348.30" width="13.6" height="90.70" fill="#c4c4c8"/>
<rect x="46.3" y="402.72" width="13.6" height="36.28" fill="#cc0a2a"/>
<rect x="46.3" y="402.72" width="13.6" height="0.5" fill="#f2b8c0"/>
<rect x="67.3" y="348.30" width="13.6" height="90.70" fill="#c4c4c8"/>
<rect x="67.3" y="432.65" width="13.6" height="6.35" fill="#cc0a2a"/>
<rect x="67.3" y="432.65" width="13.6" height="0.5" fill="#f2b8c0"/>
<rect x="88.1" y="348.30" width="13.6" height="90.70" fill="#c4c4c8"/>
<rect x="88.1" y="410.88" width="13.6" height="28.12" fill="#cc0a2a"/>
<rect x="88.1" y="410.88" width="13.6" height="0.5" fill="#f2b8c0"/>
<rect x="109.2" y="348.30" width="13.6" height="90.70" fill="#c4c4c8"/>
<rect x="109.2" y="436.73" width="13.6" height="2.27" fill="#cc0a2a"/>
<rect x="109.2" y="436.73" width="13.6" height="0.5" fill="#f2b8c0"/>
<path d="M39.3 347.6 V439.2 M38.7 439.2 H130.6" stroke="#111" stroke-width="1.2" fill="none"/>
<path d="M36.80 439.00h2.40M38.00 434.46h1.20M38.00 429.93h1.20M38.00 425.39h1.20M38.00 420.86h1.20M38.00 416.32h1.20M38.00 411.79h1.20M38.00 407.25h1.20M38.00 402.72h1.20M38.00 398.19h1.20M36.80 393.65h2.40M38.00 389.12h1.20M38.00 384.58h1.20M38.00 380.05h1.20M38.00 375.51h1.20M38.00 370.98h1.20M38.00 366.44h1.20M38.00 361.91h1.20M38.00 357.37h1.20M38.00 352.84h1.20M36.80 348.30h2.40M53.10 439.2v1.5M74.10 439.2v1.5M94.90 439.2v1.5M116.00 439.2v1.5" stroke="#222" stroke-width="0.7" fill="none"/>
<text x="34" y="350" text-anchor="end">100</text>
<text x="34" y="395.5" text-anchor="end">50</text>
<text x="34" y="441" text-anchor="end">0</text>
<text transform="translate(17.2 392) rotate(-90)" text-anchor="middle" font-size="6">Percentage</text>
<path d="M52.9 338V334.6H116.9V338M52.9 346.3V343.5H74.2V346.3 M75 346.3V343.5H95.4V346.3 M96 346.3V343.5H116.9V346.3" stroke="#222" stroke-width="1" fill="none"/>
<g font-size="6" text-anchor="middle"><text x="84.8" y="334.3">****</text><text x="63.5" y="343.4">****</text><text x="85.2" y="343.4">****</text><text x="106.5" y="343.4">****</text></g>
<text x="53.10" y="450.00" text-anchor="middle" font-size="6.1">DZsig<tspan font-size="3.7" dy="-2.3">low</tspan></text>
<text x="74.10" y="450.00" text-anchor="middle" font-size="6.1">GCB</text>
<text x="94.90" y="450.00" text-anchor="middle" font-size="6.1">ABC</text>
<text x="116.00" y="450.00" text-anchor="middle" font-size="6.1">UNC</text>
</g>
<g font-size="6" fill="#000">
<path d="M175.5 324H321.4 M366 324H511.5" stroke="#777" stroke-width="1" fill="none"/>
<g font-size="8.3" text-anchor="middle"><text x="248.8" y="318.8">IHC</text><text x="439.2" y="319.4">mRNA</text><text x="204.2" y="334">MYC</text><text x="292.6" y="334">BCL2</text><text x="394.2" y="334" font-style="italic">MYC</text><text x="483.3" y="334" font-style="italic">BCL2</text></g>
<path d="M175.40 348.2V439.0H226.50" stroke="#111" stroke-width="1.2" fill="none"/>
<text x="169.40" y="437.20" text-anchor="end">0</text>
<text x="169.40" y="409.73" text-anchor="end">100</text>
<text x="169.40" y="382.26" text-anchor="end">200</text>
<text x="169.40" y="354.79" text-anchor="end">300</text>
<path d="M175.40 435.10h-2M175.40 407.63h-2M175.40 380.16h-2M175.40 352.69h-2M190.70 439v1.8M217.20 439v1.8" stroke="#111" stroke-width="0.9" fill="none"/>
<path d="M190.50 359.56V389.77 M190.50 410.38V435.10" stroke="#4a4440" stroke-width="1.0"/>
<rect x="180.70" y="389.77" width="20.00" height="20.60" fill="#e88c82"/>
<path d="M190.67 366.88h0.01M194.81 370.23h0.01M189.66 368.66h0.01M191.17 396.08h0.01M184.51 393.87h0.01M196.97 401.27h0.01M189.68 427.71h0.01M192.57 430.82h0.01M184.57 371.86h0.01M185.82 422.39h0.01M198.78 405.20h0.01M182.30 366.67h0.01M195.83 392.44h0.01M184.99 367.76h0.01M187.51 379.81h0.01M195.60 404.96h0.01M185.05 389.03h0.01M195.25 402.63h0.01M199.20 390.73h0.01M194.41 429.56h0.01M187.53 370.77h0.01M192.85 422.92h0.01M190.12 388.39h0.01M184.94 390.96h0.01M183.19 410.22h0.01M182.79 401.97h0.01M192.28 407.42h0.01M186.44 373.25h0.01M199.69 368.11h0.01M182.09 378.57h0.01" stroke="#b84a40" stroke-width="1.0" stroke-linecap="round" opacity="0.55" fill="none"/>
<path d="M180.70 400.76H200.70" stroke="#6e2a1e" stroke-width="1.5"/>
<path d="M217.50 387.03V413.67 M217.50 432.90V435.10" stroke="#4a4440" stroke-width="1.0"/>
<rect x="207.50" y="413.67" width="19.40" height="19.23" fill="#fdc98e"/>
<path d="M220.34 433.18h0.01M210.47 430.04h0.01M211.10 427.14h0.01M214.45 433.94h0.01M223.09 434.32h0.01M223.30 433.40h0.01M217.44 433.35h0.01M211.00 422.69h0.01M219.22 433.65h0.01M223.14 421.44h0.01M225.31 420.16h0.01M209.26 380.79h0.01M218.18 432.44h0.01M210.84 432.71h0.01M218.64 405.90h0.01M212.64 435.04h0.01M219.62 380.58h0.01M223.65 376.98h0.01M211.34 423.59h0.01M223.38 428.73h0.01M212.89 420.27h0.01M208.65 429.71h0.01M208.53 426.10h0.01M213.45 382.92h0.01M223.39 432.17h0.01M224.55 434.81h0.01M210.46 384.86h0.01M216.28 419.53h0.01M220.41 420.38h0.01M210.09 404.57h0.01M220.39 417.38h0.01M224.42 426.09h0.01M220.98 413.99h0.01M225.07 396.94h0.01M224.43 433.40h0.01M225.78 413.85h0.01M210.26 389.34h0.01M219.26 433.18h0.01M217.22 432.57h0.01M210.38 417.08h0.01M220.69 389.66h0.01M217.79 424.58h0.01M213.54 434.23h0.01M212.01 427.13h0.01M220.24 422.95h0.01M215.54 428.80h0.01M212.50 417.65h0.01M210.28 425.98h0.01M211.64 418.31h0.01M220.99 427.20h0.01M224.46 419.92h0.01M221.59 433.03h0.01M225.28 433.63h0.01M225.55 424.98h0.01M216.80 386.71h0.01M212.28 430.40h0.01M213.60 412.89h0.01M214.90 433.04h0.01M214.56 386.78h0.01M214.23 377.46h0.01M212.86 381.84h0.01M216.20 434.50h0.01M211.64 426.50h0.01M224.83 428.23h0.01M220.29 434.04h0.01M215.77 433.74h0.01M220.14 412.17h0.01M216.77 433.39h0.01M222.90 395.57h0.01M218.53 419.65h0.01M224.21 427.81h0.01M218.40 384.33h0.01M222.19 411.99h0.01M225.31 434.63h0.01M219.77 430.04h0.01M211.63 433.44h0.01M221.06 432.41h0.01M214.49 426.25h0.01M214.33 420.90h0.01M218.33 424.82h0.01M215.28 374.40h0.01M220.89 408.62h0.01M221.81 433.98h0.01M211.37 384.95h0.01M209.31 431.53h0.01M218.77 426.81h0.01M222.91 392.02h0.01M220.55 427.84h0.01M210.95 376.60h0.01M224.17 425.93h0.01M217.32 414.25h0.01M212.57 418.41h0.01M217.61 430.16h0.01M214.44 415.76h0.01M209.52 433.38h0.01M220.77 433.87h0.01M224.30 422.10h0.01M209.67 421.52h0.01M219.79 423.97h0.01M212.76 433.83h0.01M210.65 377.05h0.01M214.28 432.38h0.01M217.31 434.59h0.01M209.52 433.23h0.01M210.20 428.55h0.01M223.67 421.72h0.01M213.10 397.21h0.01M218.15 429.84h0.01M224.27 372.67h0.01M224.20 434.90h0.01" stroke="#e08a20" stroke-width="1.0" stroke-linecap="round" opacity="0.55" fill="none"/>
<path d="M207.50 424.11H226.90" stroke="#7a4a12" stroke-width="1.5"/>
<path d="M190.70 349.6V346.2H217.20V349.6" stroke="#111" stroke-width="0.9" fill="none"/>
<text x="203.95" y="346.6" text-anchor="middle" font-size="6">****</text>
<text transform="translate(153.40 394) rotate(-90)" text-anchor="middle" font-size="6">H-score</text>
<text x="190.70" y="450.30" text-anchor="middle" font-size="6.0">DZsig<tspan font-size="3.6" dy="-2.3">low</tspan></text>
<text x="217.20" y="450.30" text-anchor="middle" font-size="6.0">GCB</text>
<path d="M263.80 348.2V439.0H320.00" stroke="#111" stroke-width="1.2" fill="none"/>
<text x="257.80" y="437.20" text-anchor="end">0</text>
<text x="257.80" y="409.73" text-anchor="end">100</text>
<text x="257.80" y="382.26" text-anchor="end">200</text>
<text x="257.80" y="354.79" text-anchor="end">300</text>
<path d="M263.80 435.10h-2M263.80 407.63h-2M263.80 380.16h-2M263.80 352.69h-2M279.60 439v1.8M305.80 439v1.8" stroke="#111" stroke-width="0.9" fill="none"/>
<path d="M279.50 356.81V377.41 M279.50 431.80V435.10" stroke="#4a4440" stroke-width="1.0"/>
<rect x="269.80" y="377.41" width="19.60" height="54.39" fill="#e88c82"/>
<path d="M273.22 435.01h0.01M288.13 411.75h0.01M280.83 428.54h0.01M286.34 397.64h0.01M271.60 383.09h0.01M274.02 398.77h0.01M279.21 414.28h0.01M279.41 392.53h0.01M275.60 376.78h0.01M276.01 432.49h0.01M271.85 395.26h0.01M286.38 375.90h0.01M287.43 422.29h0.01M285.20 434.46h0.01M274.16 364.21h0.01M272.07 434.77h0.01M287.50 366.73h0.01M286.39 391.20h0.01M283.90 384.56h0.01M282.45 358.90h0.01M273.74 404.00h0.01M287.56 358.44h0.01M277.86 410.19h0.01M274.09 362.79h0.01M284.96 374.18h0.01" stroke="#b84a40" stroke-width="1.0" stroke-linecap="round" opacity="0.55" fill="none"/>
<path d="M269.80 400.76H289.40" stroke="#6e2a1e" stroke-width="1.5"/>
<path d="M305.50 370.55V406.81 M305.50 433.73V435.10" stroke="#4a4440" stroke-width="1.0"/>
<rect x="296.00" y="406.81" width="19.60" height="26.92" fill="#fdc98e"/>
<path d="M306.14 412.43h0.01M304.92 404.14h0.01M311.52 382.25h0.01M313.56 434.16h0.01M299.00 433.80h0.01M299.76 411.19h0.01M304.30 431.13h0.01M305.74 427.56h0.01M298.06 433.81h0.01M300.70 434.27h0.01M300.59 434.69h0.01M297.54 429.98h0.01M306.04 422.60h0.01M309.45 363.04h0.01M302.40 380.52h0.01M314.22 435.09h0.01M309.27 366.85h0.01M300.64 407.68h0.01M305.01 414.84h0.01M312.62 372.24h0.01M298.05 421.61h0.01M311.09 434.31h0.01M304.11 417.22h0.01M298.69 380.42h0.01M306.74 377.30h0.01M304.57 432.45h0.01M308.43 371.32h0.01M297.89 366.44h0.01M311.02 429.88h0.01M311.79 432.54h0.01M307.13 417.06h0.01M304.77 433.01h0.01M312.17 433.98h0.01M302.76 431.35h0.01M298.15 434.06h0.01M308.70 430.96h0.01M303.00 377.62h0.01M314.05 416.71h0.01M297.14 422.85h0.01M305.65 422.38h0.01M303.54 411.93h0.01M300.93 433.97h0.01M304.00 371.62h0.01M308.48 371.07h0.01M301.71 408.96h0.01M310.36 390.18h0.01M298.27 433.78h0.01M301.85 433.77h0.01M303.21 434.10h0.01M300.08 429.93h0.01M303.11 423.38h0.01M304.65 434.83h0.01M306.01 376.88h0.01M307.05 428.75h0.01M309.21 428.89h0.01M313.26 433.84h0.01M304.79 433.82h0.01M309.07 427.11h0.01M305.47 434.41h0.01M310.24 414.58h0.01M301.95 400.32h0.01M306.64 363.27h0.01M308.29 434.79h0.01M304.70 421.01h0.01M303.20 433.34h0.01M300.09 434.96h0.01M310.87 404.59h0.01M311.69 370.03h0.01M310.57 423.84h0.01M297.12 428.76h0.01M309.44 377.52h0.01M299.52 412.34h0.01M312.95 409.07h0.01M302.70 371.27h0.01M308.23 430.16h0.01M301.29 429.92h0.01M314.55 418.34h0.01M307.45 427.92h0.01M299.61 428.27h0.01M300.88 413.58h0.01M299.33 429.53h0.01M308.17 428.44h0.01M305.67 435.07h0.01M302.11 370.66h0.01M309.70 377.91h0.01M303.64 403.99h0.01M300.00 409.69h0.01M305.66 434.11h0.01M302.80 409.52h0.01M298.05 408.78h0.01M300.43 429.68h0.01M299.20 367.53h0.01M297.40 434.88h0.01M312.41 433.75h0.01M301.53 411.55h0.01M313.72 374.84h0.01M298.65 420.56h0.01M299.46 418.55h0.01M308.70 371.64h0.01M304.60 415.10h0.01M309.01 417.36h0.01M306.38 363.02h0.01M311.63 415.80h0.01M300.87 434.58h0.01M298.51 435.07h0.01M310.58 420.97h0.01M302.47 412.80h0.01M300.06 409.93h0.01M300.01 433.14h0.01M311.73 380.87h0.01" stroke="#e08a20" stroke-width="1.0" stroke-linecap="round" opacity="0.55" fill="none"/>
<path d="M296.00 425.49H315.60" stroke="#7a4a12" stroke-width="1.5"/>
<path d="M279.60 349.6V346.2H305.80V349.6" stroke="#111" stroke-width="0.9" fill="none"/>
<text x="292.70" y="346.6" text-anchor="middle" font-size="6">*</text>
<text x="279.60" y="450.30" text-anchor="middle" font-size="6.0">DZsig<tspan font-size="3.6" dy="-2.3">low</tspan></text>
<text x="305.80" y="450.30" text-anchor="middle" font-size="6.0">GCB</text>
<path d="M365.80 348.2V439.0H421.00" stroke="#111" stroke-width="1.2" fill="none"/>
<text x="359.80" y="427.91" text-anchor="end">5.0</text>
<text x="359.80" y="407.84" text-anchor="end">7.5</text>
<text x="359.80" y="387.77" text-anchor="end">10.0</text>
<text x="359.80" y="367.70" text-anchor="end">12.5</text>
<path d="M365.80 425.81h-2M365.80 405.74h-2M365.80 385.67h-2M365.80 365.60h-2M381.60 439v1.8M407.00 439v1.8" stroke="#111" stroke-width="0.9" fill="none"/>
<path d="M381.50 357.57V374.43 M381.50 388.88V406.54" stroke="#4a4440" stroke-width="1.0"/>
<rect x="372.00" y="374.43" width="19.20" height="14.45" fill="#e88c82"/>
<path d="M380.74 375.07h0.01M373.49 373.88h0.01M377.61 383.17h0.01M381.54 401.58h0.01M375.67 399.50h0.01M378.20 373.63h0.01M376.16 388.55h0.01M388.13 370.33h0.01M378.80 379.70h0.01M375.25 381.56h0.01M380.20 384.29h0.01M390.14 380.10h0.01M386.01 370.95h0.01M382.96 375.29h0.01M389.26 368.03h0.01M384.72 388.78h0.01M380.14 371.28h0.01M377.05 381.27h0.01M376.83 390.94h0.01M381.69 396.90h0.01M381.03 401.99h0.01M387.98 379.83h0.01M383.45 387.03h0.01M389.80 393.97h0.01M376.77 399.67h0.01M380.58 378.52h0.01M381.50 381.16h0.01M386.69 371.21h0.01M388.24 379.91h0.01M386.47 367.73h0.01M373.40 373.97h0.01M382.08 399.76h0.01M379.57 372.23h0.01M384.00 374.32h0.01M377.80 382.26h0.01M376.39 379.97h0.01M381.46 379.22h0.01M381.20 392.27h0.01M381.30 376.40h0.01M384.00 390.66h0.01M384.99 403.67h0.01M384.12 382.72h0.01M375.08 368.69h0.01M388.21 376.72h0.01M381.72 394.40h0.01M374.94 381.26h0.01M373.82 374.10h0.01M382.10 384.25h0.01M375.17 372.08h0.01M378.63 382.86h0.01M377.84 400.63h0.01M388.81 385.26h0.01M389.01 404.69h0.01M387.63 387.21h0.01M381.76 394.18h0.01M386.04 383.03h0.01M382.13 379.00h0.01M389.45 405.38h0.01M381.03 367.21h0.01M373.15 396.22h0.01M381.60 423.40h0.01" stroke="#b84a40" stroke-width="1.0" stroke-linecap="round" opacity="0.55" fill="none"/>
<path d="M372.00 381.66H391.20" stroke="#6e2a1e" stroke-width="1.5"/>
<path d="M407.50 379.25V390.89 M407.50 394.50V405.74" stroke="#4a4440" stroke-width="1.0"/>
<rect x="397.40" y="390.89" width="19.20" height="3.61" fill="#fbb447"/>
<path d="M406.92 390.94h0.01M400.39 392.84h0.01M411.57 391.14h0.01M412.75 393.06h0.01M405.07 391.00h0.01M415.38 392.12h0.01M409.29 393.51h0.01M404.24 393.34h0.01M413.22 391.46h0.01M399.01 393.49h0.01M409.37 392.15h0.01M408.18 391.86h0.01M411.29 392.10h0.01M409.37 393.05h0.01M413.73 392.81h0.01M413.50 394.43h0.01M414.60 393.43h0.01M399.69 393.21h0.01M404.40 392.44h0.01M402.01 393.83h0.01M399.90 391.80h0.01M405.52 391.39h0.01M404.49 391.30h0.01M406.64 391.10h0.01M400.02 392.82h0.01M415.24 393.83h0.01M415.46 394.32h0.01M405.94 392.70h0.01M400.09 391.57h0.01M406.70 393.28h0.01M402.39 391.41h0.01M408.92 392.65h0.01M399.04 390.93h0.01M410.95 393.92h0.01M409.48 393.23h0.01M406.62 392.77h0.01M411.14 391.49h0.01M401.43 392.42h0.01M413.67 392.97h0.01M404.32 391.22h0.01M412.47 392.25h0.01M409.06 392.39h0.01M403.53 394.15h0.01M413.76 394.50h0.01M403.34 391.66h0.01M411.56 392.57h0.01M412.01 393.50h0.01M406.67 393.91h0.01M403.17 391.51h0.01M398.74 392.47h0.01M409.72 391.67h0.01M414.38 392.96h0.01M413.39 393.05h0.01M403.02 392.41h0.01M415.30 393.65h0.01M413.87 391.47h0.01M406.62 391.81h0.01M411.26 393.37h0.01M400.06 393.60h0.01M412.16 393.19h0.01M405.99 391.25h0.01M408.87 400.43h0.01M405.69 395.37h0.01M406.70 384.61h0.01M409.26 379.18h0.01M408.15 389.43h0.01M408.44 389.54h0.01M407.74 397.04h0.01M404.85 381.60h0.01M408.49 383.62h0.01M408.23 387.45h0.01M406.18 393.80h0.01M407.34 387.24h0.01M409.73 387.10h0.01M408.28 399.21h0.01M404.19 400.81h0.01M406.13 389.59h0.01M406.64 398.26h0.01M408.65 392.77h0.01M405.72 395.58h0.01M405.09 394.48h0.01M405.82 394.23h0.01M405.54 403.87h0.01M408.94 397.96h0.01M408.25 386.70h0.01M404.61 381.77h0.01M409.04 386.37h0.01M404.73 384.67h0.01M407.79 383.18h0.01M405.63 392.14h0.01M408.29 399.07h0.01M406.62 398.28h0.01M405.77 397.58h0.01M406.52 388.17h0.01M409.47 392.20h0.01M407.61 389.63h0.01M405.37 389.77h0.01M409.04 395.54h0.01M409.28 393.31h0.01M404.33 397.56h0.01M406.25 394.40h0.01M408.73 382.22h0.01M408.19 388.74h0.01M404.46 404.02h0.01M405.66 400.72h0.01M409.02 389.44h0.01M404.82 390.92h0.01M409.25 396.34h0.01M406.45 391.44h0.01M406.88 383.87h0.01M407.28 391.33h0.01M404.73 391.97h0.01M405.39 401.89h0.01M405.82 394.15h0.01M404.67 393.42h0.01M409.07 400.34h0.01M406.48 397.53h0.01M406.02 399.51h0.01M405.03 389.76h0.01M405.37 396.84h0.01M407.12 396.63h0.01M404.75 387.84h0.01M408.14 400.92h0.01M405.35 380.19h0.01M407.69 400.25h0.01M408.09 390.30h0.01M404.57 402.14h0.01M408.08 391.40h0.01M404.50 396.34h0.01M408.98 388.79h0.01M409.20 389.92h0.01M408.13 397.33h0.01M409.00 386.06h0.01M405.26 392.05h0.01M408.47 388.27h0.01M405.83 399.37h0.01M406.24 397.48h0.01M407.13 391.56h0.01M404.95 400.13h0.01M405.81 390.14h0.01M409.27 391.00h0.01M406.37 391.62h0.01M409.21 386.37h0.01M405.25 395.28h0.01M405.63 380.82h0.01M407.12 385.02h0.01M404.52 399.09h0.01M405.73 388.25h0.01M408.26 389.88h0.01M406.10 402.17h0.01M404.26 393.84h0.01M408.94 390.30h0.01M408.42 402.89h0.01M408.16 400.55h0.01M408.24 395.28h0.01M409.45 400.13h0.01M405.41 395.08h0.01M404.96 402.30h0.01M407.58 400.68h0.01M407.60 396.80h0.01M409.68 404.07h0.01M404.65 390.46h0.01M406.30 380.25h0.01M408.88 407.02h0.01M404.74 384.55h0.01M405.41 393.70h0.01M404.76 395.35h0.01M409.22 390.42h0.01M409.21 394.32h0.01M406.64 390.90h0.01M408.06 390.58h0.01M407.67 404.22h0.01M404.60 384.36h0.01M407.48 394.71h0.01M405.56 392.74h0.01M404.82 401.46h0.01M406.16 397.44h0.01M408.62 385.17h0.01M404.79 391.59h0.01M404.44 399.29h0.01" stroke="#f09a20" stroke-width="1.0" stroke-linecap="round" opacity="0.55" fill="none"/>
<path d="M397.40 392.90H416.60" stroke="#6a4010" stroke-width="1.5"/>
<path d="M381.60 349.6V346.2H407.00V349.6" stroke="#111" stroke-width="0.9" fill="none"/>
<text x="394.30" y="346.6" text-anchor="middle" font-size="6">****</text>
<text transform="translate(343.20 394) rotate(-90)" text-anchor="middle" font-size="6">log2 (mRNA)</text>
<text x="381.60" y="450.30" text-anchor="middle" font-size="6.0">DZsig<tspan font-size="3.6" dy="-2.3">low</tspan></text>
<text x="407.00" y="450.30" text-anchor="middle" font-size="6.0">GCB</text>
<path d="M454.90 348.2V439.0H511.80" stroke="#111" stroke-width="1.2" fill="none"/>
<text x="448.90" y="427.91" text-anchor="end">5.0</text>
<text x="448.90" y="407.84" text-anchor="end">7.5</text>
<text x="448.90" y="387.77" text-anchor="end">10.0</text>
<text x="448.90" y="367.70" text-anchor="end">12.5</text>
<path d="M454.90 425.81h-2M454.90 405.74h-2M454.90 385.67h-2M454.90 365.60h-2M470.50 439v1.8M496.00 439v1.8" stroke="#111" stroke-width="0.9" fill="none"/>
<path d="M470.50 357.57V376.04 M470.50 408.15V435.44" stroke="#4a4440" stroke-width="1.0"/>
<rect x="460.90" y="376.04" width="19.20" height="32.11" fill="#e88c82"/>
<path d="M464.13 397.46h0.01M477.29 393.61h0.01M461.97 399.11h0.01M471.54 370.69h0.01M473.97 419.83h0.01M477.20 370.10h0.01M475.29 391.06h0.01M474.55 418.35h0.01M477.31 389.39h0.01M468.96 420.37h0.01M465.74 366.30h0.01M464.26 366.75h0.01M477.14 421.26h0.01M465.31 380.99h0.01M463.42 364.76h0.01M466.47 414.46h0.01M474.50 374.99h0.01M477.79 412.65h0.01M476.52 373.45h0.01M465.36 375.76h0.01M462.13 405.87h0.01M478.98 404.28h0.01M477.91 376.55h0.01M472.48 419.14h0.01M470.02 419.40h0.01M477.45 384.25h0.01M466.70 415.34h0.01M470.72 395.05h0.01M468.50 381.43h0.01M464.98 393.89h0.01M478.48 371.92h0.01M468.82 389.67h0.01M469.01 412.54h0.01M468.31 387.65h0.01M476.92 410.77h0.01M465.25 368.62h0.01M474.98 389.20h0.01M475.32 380.36h0.01M476.26 417.56h0.01M462.15 414.09h0.01M468.86 369.39h0.01M477.63 416.91h0.01M470.42 386.94h0.01M469.34 367.14h0.01M465.33 389.58h0.01M473.41 378.98h0.01M473.31 417.24h0.01M466.21 386.62h0.01M466.03 370.73h0.01M470.30 405.26h0.01M466.45 412.67h0.01M476.66 378.35h0.01M467.97 411.01h0.01M462.08 393.50h0.01M475.72 386.52h0.01M464.72 401.25h0.01M472.31 397.10h0.01M477.37 407.15h0.01M473.25 394.35h0.01M477.00 363.31h0.01" stroke="#b84a40" stroke-width="1.0" stroke-linecap="round" opacity="0.55" fill="none"/>
<path d="M460.90 389.68H480.10" stroke="#6e2a1e" stroke-width="1.5"/>
<path d="M496.50 364.80V386.47 M496.50 401.73V419.39" stroke="#4a4440" stroke-width="1.0"/>
<rect x="486.30" y="386.47" width="19.40" height="15.25" fill="#fdc98e"/>
<path d="M490.08 381.19h0.01M494.51 394.58h0.01M495.32 408.75h0.01M491.40 393.75h0.01M487.67 375.18h0.01M499.21 402.15h0.01M494.69 398.83h0.01M497.32 404.81h0.01M504.40 388.81h0.01M491.84 411.51h0.01M498.91 378.54h0.01M496.06 407.51h0.01M504.27 387.76h0.01M503.19 380.92h0.01M501.65 388.77h0.01M500.84 395.13h0.01M501.54 384.89h0.01M494.54 404.53h0.01M488.08 383.58h0.01M488.60 401.02h0.01M489.25 392.77h0.01M496.14 391.47h0.01M493.28 396.87h0.01M499.28 394.16h0.01M497.65 385.57h0.01M493.01 392.45h0.01M497.50 395.62h0.01M487.47 382.16h0.01M487.81 406.56h0.01M502.90 387.16h0.01M498.33 399.74h0.01M497.14 400.09h0.01M502.15 394.46h0.01M489.91 386.65h0.01M492.14 389.76h0.01M496.60 372.85h0.01M499.26 385.04h0.01M496.48 387.84h0.01M497.45 392.00h0.01M500.19 378.19h0.01M500.97 403.36h0.01M491.05 399.92h0.01M495.68 377.08h0.01M498.40 393.09h0.01M488.71 383.09h0.01M489.63 393.10h0.01M491.83 406.72h0.01M494.86 401.19h0.01M492.29 398.54h0.01M503.91 400.97h0.01M498.74 398.20h0.01M499.85 375.05h0.01M492.35 383.71h0.01M502.15 389.45h0.01M499.17 399.44h0.01M503.46 375.78h0.01M500.86 395.90h0.01M502.08 406.06h0.01M488.42 404.90h0.01M500.32 395.79h0.01M501.80 377.71h0.01M494.91 398.56h0.01M499.26 386.92h0.01M493.45 391.71h0.01M489.16 384.83h0.01M492.65 380.09h0.01M500.19 386.48h0.01M492.26 407.41h0.01M492.58 405.36h0.01M492.86 412.43h0.01M489.44 409.69h0.01M494.83 387.53h0.01M491.58 391.81h0.01M494.01 379.76h0.01M495.77 411.65h0.01M488.86 382.69h0.01M499.71 395.53h0.01M489.81 411.37h0.01M497.78 387.92h0.01M498.32 393.69h0.01M498.98 394.77h0.01M501.30 408.69h0.01M501.44 393.40h0.01M495.98 386.80h0.01M490.15 386.85h0.01M498.46 393.58h0.01M502.01 391.04h0.01M498.70 394.83h0.01M498.28 390.28h0.01M499.62 385.62h0.01M499.92 408.58h0.01M498.99 412.82h0.01M500.68 406.49h0.01M501.30 379.54h0.01M501.60 402.18h0.01M496.32 396.97h0.01M490.24 388.50h0.01M504.03 388.30h0.01M496.14 402.22h0.01M490.67 388.37h0.01M493.20 379.87h0.01M500.36 391.83h0.01M488.92 413.27h0.01M487.48 398.59h0.01M493.77 380.39h0.01M504.02 397.94h0.01M503.90 406.47h0.01M497.07 389.59h0.01M504.02 396.08h0.01M496.49 400.65h0.01M494.13 407.15h0.01M488.09 404.83h0.01M487.36 409.07h0.01M501.87 402.83h0.01M495.82 401.62h0.01M504.08 377.93h0.01M498.18 387.05h0.01M488.95 389.84h0.01M488.72 408.36h0.01M503.03 398.23h0.01M491.85 398.84h0.01M496.69 378.84h0.01M491.06 373.18h0.01M497.25 400.92h0.01M502.23 386.59h0.01M487.36 387.18h0.01M487.29 388.46h0.01M498.93 385.28h0.01M489.77 384.07h0.01M501.02 373.93h0.01M498.62 400.25h0.01M498.91 379.40h0.01M496.86 384.21h0.01M504.00 412.32h0.01M503.74 387.65h0.01M503.12 390.78h0.01M502.54 405.12h0.01M489.22 395.41h0.01M490.05 386.94h0.01M499.17 410.37h0.01M494.99 401.79h0.01M497.56 390.74h0.01M490.84 413.01h0.01M487.97 401.04h0.01M504.18 404.05h0.01M488.71 399.40h0.01M488.53 404.55h0.01M500.37 395.11h0.01M495.51 389.12h0.01M503.24 400.80h0.01M503.27 407.10h0.01M493.38 392.31h0.01M504.01 388.53h0.01M498.74 380.36h0.01M504.42 409.51h0.01M497.34 398.74h0.01M494.87 403.11h0.01M493.83 404.51h0.01M499.88 410.24h0.01M502.20 404.45h0.01M490.63 373.11h0.01M497.88 396.67h0.01M488.12 393.50h0.01M497.54 410.11h0.01M499.78 385.84h0.01M499.70 381.81h0.01M492.48 377.52h0.01M488.38 395.47h0.01M498.08 406.69h0.01M500.84 401.79h0.01M502.89 382.67h0.01M499.12 403.48h0.01M490.85 376.24h0.01M491.72 399.44h0.01M493.07 404.06h0.01M492.43 392.55h0.01M503.35 387.85h0.01M492.01 412.09h0.01M498.28 374.09h0.01M495.13 396.98h0.01M498.22 383.92h0.01M495.05 390.84h0.01M502.52 408.60h0.01M489.37 386.82h0.01M492.47 382.88h0.01M495.04 390.50h0.01M492.45 403.61h0.01M494.12 397.07h0.01M503.97 399.25h0.01M500.41 402.87h0.01M488.57 381.05h0.01M504.72 388.09h0.01M502.41 398.64h0.01M492.34 389.82h0.01M493.12 400.93h0.01M493.03 391.60h0.01M489.54 396.88h0.01M497.71 391.55h0.01M503.37 393.16h0.01M499.65 413.01h0.01M492.34 407.43h0.01M503.99 412.09h0.01M491.16 399.36h0.01M503.49 407.63h0.01M493.36 379.38h0.01M491.58 406.90h0.01M498.72 389.79h0.01M493.83 394.11h0.01M504.64 400.86h0.01M504.16 396.41h0.01M499.13 397.48h0.01M488.18 396.07h0.01M502.24 387.48h0.01M502.06 395.55h0.01M498.81 399.66h0.01M492.25 381.59h0.01M493.95 400.74h0.01M498.01 377.32h0.01M502.47 403.80h0.01M497.38 403.92h0.01M495.06 373.72h0.01M498.01 398.50h0.01M501.17 385.39h0.01M488.40 405.49h0.01M496.00 396.17h0.01M497.05 399.06h0.01M491.30 390.10h0.01M498.59 389.31h0.01M490.58 408.81h0.01M491.14 404.61h0.01M503.95 397.07h0.01M490.36 371.60h0.01M502.36 376.39h0.01M502.14 389.17h0.01M503.24 387.46h0.01M487.50 396.72h0.01M494.59 381.44h0.01M498.86 377.91h0.01M500.75 390.49h0.01M489.91 389.87h0.01" stroke="#f0a030" stroke-width="1.0" stroke-linecap="round" opacity="0.55" fill="none"/>
<path d="M486.30 394.50H505.70" stroke="#7a4a12" stroke-width="1.5"/>
<path d="M470.50 349.6V346.2H496.00V349.6" stroke="#111" stroke-width="0.9" fill="none"/>
<text x="483.25" y="343.6" text-anchor="middle" font-size="5.6">ns</text>
<text x="470.50" y="450.30" text-anchor="middle" font-size="6.0">DZsig<tspan font-size="3.6" dy="-2.3">low</tspan></text>
<text x="496.00" y="450.30" text-anchor="middle" font-size="6.0">GCB</text>
</g>
<g font-size="6.1" fill="#000">
<rect x="45.80" y="468.2" width="149.20" height="11.8" fill="#c3c3c8" stroke="#333" stroke-width="0.9"/>
<text x="120.40" y="476.3" text-anchor="middle" font-size="6.2">CD3</text>
<rect x="45.80" y="480.1" width="149.20" height="145.2" fill="none" stroke="#333" stroke-width="0.9"/>
<text x="125.20" y="514.3" text-anchor="middle" font-size="6.8">Kruskal−Wallis <tspan font-style="italic">P</tspan> &lt; .001</text>
<path d="M67.50 560.82V616.48" stroke="#444" stroke-width="0.95"/>
<rect x="54.60" y="591.43" width="24.8" height="23.28" fill="#c8102e"/>
<path d="M54.60 609.14h24.8" stroke="#111" stroke-width="1.1"/>
<text x="67.00" y="636.00" text-anchor="middle" font-size="6.1">DZsig<tspan font-size="3.7" dy="-2.3">low</tspan></text>
<path d="M102.50 550.19V616.48" stroke="#444" stroke-width="0.95"/>
<rect x="90.30" y="588.65" width="24.8" height="25.55" fill="#29abe2"/>
<path d="M90.30 605.34h24.8" stroke="#111" stroke-width="1.1"/>
<text x="102.70" y="636.00" text-anchor="middle" font-size="6.1">ABC</text>
<path d="M138.50 528.18V617.74" stroke="#444" stroke-width="0.95"/>
<rect x="126.00" y="574.98" width="24.8" height="35.42" fill="#f7931e"/>
<path d="M126.00 599.78h24.8" stroke="#111" stroke-width="1.1"/>
<text x="138.40" y="636.00" text-anchor="middle" font-size="6.1">GCB</text>
<path d="M174.50 485.68V617.74" stroke="#444" stroke-width="0.95"/>
<rect x="161.70" y="553.99" width="24.8" height="47.31" fill="#39aa35"/>
<path d="M161.70 580.80h24.8" stroke="#111" stroke-width="1.1"/>
<text x="174.10" y="636.00" text-anchor="middle" font-size="6.1">UNC</text>
<path d="M67.00 625.3v1.8M102.70 625.3v1.8M138.40 625.3v1.8M174.10 625.3v1.8" stroke="#333" stroke-width="0.8"/>
<rect x="199.80" y="468.2" width="149.80" height="11.8" fill="#c3c3c8" stroke="#333" stroke-width="0.9"/>
<text x="274.70" y="476.3" text-anchor="middle" font-size="6.2">CD31</text>
<rect x="199.80" y="480.1" width="149.80" height="145.2" fill="none" stroke="#333" stroke-width="0.9"/>
<text x="276.20" y="514.3" text-anchor="middle" font-size="6.8">Kruskal−Wallis <tspan font-style="italic">P</tspan> = .007</text>
<path d="M221.50 582.07V616.48" stroke="#444" stroke-width="0.95"/>
<rect x="208.60" y="598.51" width="24.8" height="11.89" fill="#c8102e"/>
<path d="M208.60 605.85h24.8" stroke="#111" stroke-width="1.1"/>
<text x="221.00" y="636.00" text-anchor="middle" font-size="6.1">DZsig<tspan font-size="3.7" dy="-2.3">low</tspan></text>
<path d="M256.50 548.67V617.74" stroke="#444" stroke-width="0.95"/>
<rect x="244.30" y="585.61" width="24.8" height="24.54" fill="#29abe2"/>
<path d="M244.30 601.04h24.8" stroke="#111" stroke-width="1.1"/>
<text x="256.70" y="636.00" text-anchor="middle" font-size="6.1">ABC</text>
<path d="M292.50 549.43V617.74" stroke="#444" stroke-width="0.95"/>
<rect x="280.00" y="584.85" width="24.8" height="23.78" fill="#f7931e"/>
<path d="M280.00 599.27h24.8" stroke="#111" stroke-width="1.1"/>
<text x="292.40" y="636.00" text-anchor="middle" font-size="6.1">GCB</text>
<path d="M328.50 538.55V616.48" stroke="#444" stroke-width="0.95"/>
<rect x="315.70" y="577.01" width="24.8" height="27.32" fill="#39aa35"/>
<path d="M315.70 596.24h24.8" stroke="#111" stroke-width="1.1"/>
<text x="328.10" y="636.00" text-anchor="middle" font-size="6.1">UNC</text>
<path d="M221.00 625.3v1.8M256.70 625.3v1.8M292.40 625.3v1.8M328.10 625.3v1.8" stroke="#333" stroke-width="0.8"/>
<rect x="353.60" y="468.2" width="149.80" height="11.8" fill="#c3c3c8" stroke="#333" stroke-width="0.9"/>
<text x="428.50" y="476.3" text-anchor="middle" font-size="6.2">CD68</text>
<rect x="353.60" y="480.1" width="149.80" height="145.2" fill="none" stroke="#333" stroke-width="0.9"/>
<text x="428.00" y="514.3" text-anchor="middle" font-size="6.8">Kruskal−Wallis <tspan font-style="italic">P</tspan> = .004</text>
<path d="M374.50 582.32V621.54" stroke="#444" stroke-width="0.95"/>
<rect x="362.40" y="598.51" width="24.8" height="11.89" fill="#c8102e"/>
<path d="M362.40 603.57h24.8" stroke="#111" stroke-width="1.1"/>
<text x="374.80" y="636.00" text-anchor="middle" font-size="6.1">DZsig<tspan font-size="3.7" dy="-2.3">low</tspan></text>
<path d="M410.50 546.39V617.74" stroke="#444" stroke-width="0.95"/>
<rect x="398.10" y="585.10" width="24.8" height="25.81" fill="#29abe2"/>
<path d="M398.10 599.53h24.8" stroke="#111" stroke-width="1.1"/>
<text x="410.50" y="636.00" text-anchor="middle" font-size="6.1">ABC</text>
<path d="M446.50 544.62V617.74" stroke="#444" stroke-width="0.95"/>
<rect x="433.80" y="582.32" width="24.8" height="25.05" fill="#f7931e"/>
<path d="M433.80 597.50h24.8" stroke="#111" stroke-width="1.1"/>
<text x="446.20" y="636.00" text-anchor="middle" font-size="6.1">GCB</text>
<path d="M481.50 546.65V617.74" stroke="#444" stroke-width="0.95"/>
<rect x="469.50" y="580.30" width="24.8" height="26.31" fill="#39aa35"/>
<path d="M469.50 590.92h24.8" stroke="#111" stroke-width="1.1"/>
<text x="481.90" y="636.00" text-anchor="middle" font-size="6.1">UNC</text>
<path d="M374.80 625.3v1.8M410.50 625.3v1.8M446.20 625.3v1.8M481.90 625.3v1.8" stroke="#333" stroke-width="0.8"/>
<text x="40.6" y="620.60" text-anchor="end">−1</text>
<text x="40.6" y="595.30" text-anchor="end">0</text>
<text x="40.6" y="570.00" text-anchor="end">1</text>
<text x="40.6" y="544.70" text-anchor="end">2</text>
<text x="40.6" y="519.40" text-anchor="end">3</text>
<text x="40.6" y="494.10" text-anchor="end">4</text>
<path d="M45.8 618.50h-1.8M45.8 593.20h-1.8M45.8 567.90h-1.8M45.8 542.60h-1.8M45.8 517.30h-1.8M45.8 492.00h-1.8" stroke="#333" stroke-width="0.8"/>
<text transform="translate(27.2 552.6) rotate(-90)" text-anchor="middle" font-size="5.7">IHC positive rate (scaled)</text>
</g>
<g font-size="10.8" font-weight="bold" fill="#000"><text x="6.8" y="15.6">A</text><text x="6.6" y="318.2">B</text><text x="144.6" y="318.4">C</text><text x="6.6" y="475.9">D</text></g>
<rect x="0.6" y="0.6" width="518.8" height="642.8" fill="none" stroke="#5e5e5e" stroke-width="1.2"/>
</svg></body></html>
